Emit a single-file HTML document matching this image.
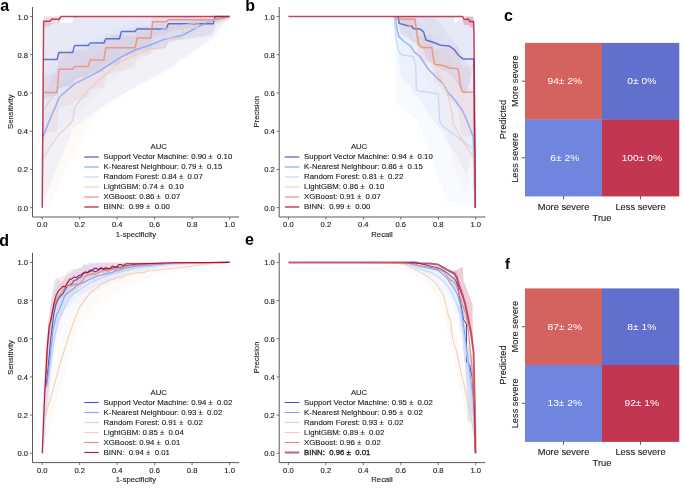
<!DOCTYPE html><html><head><meta charset="utf-8"><style>html,body{margin:0;padding:0;background:#fff;overflow:hidden}svg{display:block;will-change:transform}</style></head><body>
<svg width="685" height="491" viewBox="0 0 685 491" style="font-family:&quot;Liberation Sans&quot;,sans-serif;white-space:pre">
<rect width="685" height="491" fill="#fff"/>
<style>text.t{fill:#222;stroke:#222;stroke-width:0.12px}</style>
<polygon points="42.2,169.4 43.1,96.3 44.1,23.1 45.0,21.9 45.9,22.0 46.9,22.2 47.8,22.4 48.8,22.6 49.7,22.8 50.6,23.0 51.6,23.2 52.5,23.4 53.4,23.6 54.4,23.8 55.3,24.0 56.3,24.1 57.2,23.9 58.1,20.5 59.1,17.6 60.0,17.8 60.9,18.0 61.9,18.2 62.8,18.4 63.8,18.6 64.7,18.8 65.6,19.0 66.6,19.2 67.5,19.4 68.4,19.6 69.4,19.7 70.3,19.9 71.2,20.1 72.2,20.3 73.1,18.9 74.1,16.5 75.0,16.5 75.9,16.5 76.9,16.5 77.8,16.5 78.7,16.5 79.7,16.5 80.6,16.5 81.6,16.5 82.5,16.5 83.4,16.5 84.4,16.5 85.3,16.5 86.2,16.5 87.2,16.5 88.1,16.7 89.1,16.5 90.0,16.5 90.9,16.5 91.9,16.5 92.8,16.5 93.7,16.5 94.7,16.5 95.6,16.5 96.5,16.5 97.5,16.5 98.4,16.5 99.4,16.5 100.3,16.7 101.2,16.9 102.2,17.1 103.1,17.3 104.0,17.2 105.0,16.5 105.9,16.5 106.9,16.5 107.8,16.5 108.7,16.5 109.7,16.5 110.6,16.5 111.5,16.5 112.5,16.5 113.4,16.5 114.3,16.5 115.3,16.5 116.2,16.5 117.2,16.5 118.1,16.5 119.0,16.5 120.0,16.5 120.9,16.5 121.8,16.5 122.8,16.5 123.7,16.5 124.7,16.5 125.6,16.5 126.5,16.5 127.5,16.5 128.4,16.5 129.3,16.5 130.3,16.5 131.2,16.5 132.2,16.5 133.1,16.5 134.0,16.5 135.0,16.5 135.9,16.5 136.8,16.5 137.8,16.5 138.7,16.5 139.6,16.5 140.6,16.5 141.5,16.5 142.5,16.5 143.4,16.5 144.3,16.5 145.3,16.5 146.2,16.5 147.1,16.5 148.1,16.5 149.0,16.5 150.0,16.5 150.9,16.5 151.8,16.5 152.8,16.5 153.7,16.5 154.6,16.5 155.6,16.5 156.5,16.5 157.5,16.5 158.4,16.5 159.3,16.5 160.3,16.5 161.2,16.5 162.1,16.5 163.1,16.5 164.0,16.5 164.9,16.5 165.9,16.5 166.8,16.5 167.8,16.5 168.7,16.5 169.6,16.5 170.6,16.5 171.5,16.5 172.4,16.5 173.4,16.5 174.3,16.5 175.3,16.5 176.2,16.5 177.1,16.5 178.1,16.5 179.0,16.5 179.9,16.5 180.9,16.5 181.8,16.5 182.8,16.5 183.7,16.5 184.6,16.5 185.6,16.5 186.5,16.5 187.4,16.5 188.4,16.5 189.3,16.5 190.2,16.5 191.2,16.5 192.1,16.5 193.1,16.5 194.0,16.5 194.9,16.7 195.9,16.9 196.8,17.1 197.7,17.3 198.7,17.5 199.6,17.6 200.6,17.8 201.5,18.0 202.4,18.2 203.4,18.4 204.3,18.6 205.2,18.8 206.2,19.0 207.1,19.2 208.0,19.4 209.0,19.6 209.9,19.7 210.9,19.9 211.8,20.1 212.7,20.3 213.7,18.8 214.6,16.5 215.5,16.5 216.5,16.5 217.4,16.5 218.4,16.5 219.3,16.5 220.2,16.5 221.2,16.5 222.1,16.5 223.0,16.5 224.0,16.5 224.9,16.5 225.9,16.5 226.8,16.5 227.7,16.5 228.7,16.5 229.6,16.5 229.6,16.5 228.7,17.1 227.7,17.6 226.8,18.2 225.9,18.8 224.9,19.4 224.0,19.9 223.0,20.5 222.1,21.1 221.2,21.7 220.2,22.2 219.3,22.8 218.4,23.4 217.4,24.0 216.5,24.5 215.5,25.1 214.6,27.6 213.7,31.8 212.7,34.1 211.8,34.7 210.9,35.2 209.9,35.4 209.0,35.5 208.0,35.7 207.1,35.8 206.2,35.9 205.2,36.1 204.3,36.2 203.4,36.4 202.4,36.5 201.5,36.7 200.6,36.8 199.6,37.0 198.7,37.1 197.7,37.2 196.8,37.4 195.9,37.5 194.9,37.7 194.0,37.8 193.1,38.0 192.1,38.1 191.2,38.2 190.2,38.4 189.3,38.5 188.4,38.7 187.4,38.8 186.5,39.0 185.6,39.1 184.6,39.2 183.7,39.4 182.8,39.5 181.8,39.7 180.9,39.8 179.9,40.0 179.0,40.1 178.1,40.3 177.1,40.4 176.2,40.5 175.3,40.7 174.3,40.8 173.4,41.0 172.4,41.1 171.5,41.3 170.6,41.4 169.6,41.5 168.7,41.7 167.8,43.2 166.8,45.9 165.9,47.3 164.9,47.4 164.0,47.6 163.1,47.7 162.1,47.8 161.2,48.0 160.3,48.1 159.3,48.3 158.4,48.4 157.5,48.6 156.5,48.7 155.6,48.9 154.6,49.0 153.7,49.1 152.8,49.3 151.8,49.4 150.9,49.6 150.0,49.7 149.0,49.9 148.1,50.0 147.1,50.1 146.2,50.3 145.3,50.4 144.3,50.6 143.4,50.7 142.5,50.9 141.5,51.0 140.6,51.1 139.6,51.3 138.7,51.4 137.8,51.6 136.8,52.0 135.9,53.4 135.0,54.5 134.0,54.7 133.1,54.8 132.2,55.0 131.2,55.1 130.3,55.3 129.3,55.4 128.4,55.6 127.5,55.7 126.5,55.9 125.6,56.0 124.7,56.2 123.7,56.3 122.8,56.5 121.8,56.6 120.9,58.7 120.0,62.5 119.0,64.4 118.1,64.5 117.2,64.7 116.2,64.8 115.3,65.0 114.3,65.1 113.4,65.3 112.5,65.4 111.5,65.6 110.6,65.7 109.7,65.9 108.7,66.0 107.8,66.2 106.9,66.4 105.9,66.5 105.0,68.6 104.0,70.9 103.1,71.4 102.2,71.5 101.2,71.7 100.3,71.8 99.4,72.0 98.4,72.1 97.5,72.3 96.5,72.4 95.6,72.6 94.7,72.7 93.7,72.9 92.8,73.0 91.9,73.2 90.9,73.3 90.0,73.7 89.1,75.1 88.1,76.3 87.2,76.4 86.2,76.6 85.3,76.8 84.4,76.9 83.4,77.1 82.5,77.2 81.6,77.4 80.6,77.5 79.7,77.7 78.7,77.8 77.8,78.0 76.9,78.1 75.9,78.3 75.0,78.4 74.1,80.4 73.1,84.0 72.2,85.8 71.2,85.9 70.3,86.1 69.4,86.2 68.4,86.4 67.5,86.5 66.6,86.7 65.6,86.8 64.7,87.0 63.8,87.1 62.8,87.3 61.9,87.5 60.9,87.6 60.0,87.8 59.1,87.9 58.1,91.1 57.2,94.8 56.3,95.4 55.3,95.6 54.4,95.8 53.4,95.9 52.5,96.1 51.6,96.2 50.6,96.4 49.7,96.5 48.8,96.7 47.8,96.8 46.9,97.0 45.9,97.1 45.0,97.3 44.1,98.9 43.1,172.4 42.2,207.7" fill="#3b4cc0" fill-opacity="0.120"/>
<polygon points="42.2,169.4 43.1,98.4 44.1,96.2 45.0,94.0 45.9,91.8 46.9,89.6 47.8,87.4 48.8,85.2 49.7,83.0 50.6,80.8 51.6,78.6 52.5,76.7 53.4,74.7 54.4,72.8 55.3,70.8 56.3,68.8 57.2,66.4 58.1,64.0 59.1,61.7 60.0,61.0 60.9,60.4 61.9,59.8 62.8,59.1 63.8,58.5 64.7,57.8 65.6,57.2 66.6,56.5 67.5,55.9 68.4,55.2 69.4,54.6 70.3,53.9 71.2,53.3 72.2,52.7 73.1,52.0 74.1,51.4 75.0,50.7 75.9,50.4 76.9,50.1 77.8,49.8 78.7,49.4 79.7,49.1 80.6,48.8 81.6,48.5 82.5,48.1 83.4,47.8 84.4,47.5 85.3,47.2 86.2,46.9 87.2,46.5 88.1,46.2 89.1,45.9 90.0,45.6 90.9,45.3 91.9,44.9 92.8,44.6 93.7,44.3 94.7,44.0 95.6,43.7 96.5,43.3 97.5,43.0 98.4,42.5 99.4,42.1 100.3,41.6 101.2,41.2 102.2,40.7 103.1,40.3 104.0,39.8 105.0,39.4 105.9,38.9 106.9,38.5 107.8,38.0 108.7,37.6 109.7,37.1 110.6,36.7 111.5,36.2 112.5,35.7 113.4,35.3 114.3,34.8 115.3,34.4 116.2,33.9 117.2,33.5 118.1,33.0 119.0,32.6 120.0,32.2 120.9,31.8 121.8,31.5 122.8,31.2 123.7,30.8 124.7,30.5 125.6,30.2 126.5,29.8 127.5,29.5 128.4,29.2 129.3,28.8 130.3,28.5 131.2,28.2 132.2,27.9 133.1,27.5 134.0,27.2 135.0,26.9 135.9,26.7 136.8,26.6 137.8,26.6 138.7,26.5 139.6,26.4 140.6,26.3 141.5,26.2 142.5,26.2 143.4,26.1 144.3,26.0 145.3,25.9 146.2,25.9 147.1,25.8 148.1,25.7 149.0,25.6 150.0,25.5 150.9,25.4 151.8,25.3 152.8,25.1 153.7,25.0 154.6,24.8 155.6,24.7 156.5,24.6 157.5,24.4 158.4,24.3 159.3,24.1 160.3,24.0 161.2,23.9 162.1,23.7 163.1,23.6 164.0,23.5 164.9,23.4 165.9,23.4 166.8,23.5 167.8,23.5 168.7,23.5 169.6,23.5 170.6,23.5 171.5,23.5 172.4,23.5 173.4,23.5 174.3,23.6 175.3,23.6 176.2,23.6 177.1,23.6 178.1,23.6 179.0,23.6 179.9,23.6 180.9,23.6 181.8,23.6 182.8,23.7 183.7,23.5 184.6,23.2 185.6,22.9 186.5,22.6 187.4,22.4 188.4,22.1 189.3,21.8 190.2,21.5 191.2,21.2 192.1,20.9 193.1,20.6 194.0,20.4 194.9,20.1 195.9,19.8 196.8,19.5 197.7,19.2 198.7,19.0 199.6,18.8 200.6,18.6 201.5,18.4 202.4,18.2 203.4,17.9 204.3,17.7 205.2,17.5 206.2,17.3 207.1,17.1 208.0,16.9 209.0,16.7 209.9,16.5 210.9,16.5 211.8,16.5 212.7,16.5 213.7,16.5 214.6,16.5 215.5,16.5 216.5,16.5 217.4,16.5 218.4,16.5 219.3,16.5 220.2,16.5 221.2,16.5 222.1,16.5 223.0,16.5 224.0,16.5 224.9,16.5 225.9,16.5 226.8,16.5 227.7,16.5 228.7,16.5 229.6,16.5 229.6,16.5 213.9,37.9 167.2,70.2 111.5,100.2 73.7,127.4 44.4,198.7 42.2,207.7" fill="#7b9ff9" fill-opacity="0.100"/>
<polygon points="42.2,169.4 43.1,88.7 44.1,71.6 45.0,70.4 45.9,69.1 46.9,67.9 47.8,66.7 48.8,65.5 49.7,64.3 50.6,63.0 51.6,61.8 52.5,60.6 53.4,59.4 54.4,58.2 55.3,56.9 56.3,55.7 57.2,54.5 58.1,53.3 59.1,52.8 60.0,52.4 60.9,52.1 61.9,51.7 62.8,51.4 63.8,51.0 64.7,50.7 65.6,50.4 66.6,50.0 67.5,49.7 68.4,49.3 69.4,49.0 70.3,48.6 71.2,48.3 72.2,47.9 73.1,47.6 74.1,47.2 75.0,46.9 75.9,46.6 76.9,46.2 77.8,45.9 78.7,45.5 79.7,45.2 80.6,44.8 81.6,44.4 82.5,44.0 83.4,43.6 84.4,43.2 85.3,42.8 86.2,42.5 87.2,42.1 88.1,41.7 89.1,41.3 90.0,40.9 90.9,40.5 91.9,40.1 92.8,39.7 93.7,39.4 94.7,39.0 95.6,38.6 96.5,38.2 97.5,37.8 98.4,37.4 99.4,37.0 100.3,36.7 101.2,36.2 102.2,35.8 103.1,35.3 104.0,34.8 105.0,34.3 105.9,33.8 106.9,33.3 107.8,32.8 108.7,32.3 109.7,31.9 110.6,31.4 111.5,30.9 112.5,30.4 113.4,29.9 114.3,29.4 115.3,28.9 116.2,28.4 117.2,28.0 118.1,27.5 119.0,27.0 120.0,26.5 120.9,26.2 121.8,25.9 122.8,25.5 123.7,25.2 124.7,24.9 125.6,24.6 126.5,24.2 127.5,23.9 128.4,23.6 129.3,23.3 130.3,22.9 131.2,22.6 132.2,22.3 133.1,22.0 134.0,21.6 135.0,21.3 135.9,21.0 136.8,20.8 137.8,20.7 138.7,20.5 139.6,20.3 140.6,20.1 141.5,19.9 142.5,19.8 143.4,19.6 144.3,19.4 145.3,19.2 146.2,19.0 147.1,18.9 148.1,18.7 149.0,18.5 150.0,18.3 150.9,18.1 151.8,18.0 152.8,17.8 153.7,17.6 154.6,17.4 155.6,17.2 156.5,17.1 157.5,16.9 158.4,16.7 159.3,16.5 160.3,16.5 161.2,16.5 162.1,16.5 163.1,16.5 164.0,16.5 164.9,16.5 165.9,16.5 166.8,16.5 167.8,16.5 168.7,16.5 169.6,16.5 170.6,16.5 171.5,16.5 172.4,16.5 173.4,16.5 174.3,16.5 175.3,16.5 176.2,16.5 177.1,16.5 178.1,16.5 179.0,16.5 179.9,16.5 180.9,16.5 181.8,16.5 182.8,16.5 183.7,16.5 184.6,16.5 185.6,16.5 186.5,16.5 187.4,16.5 188.4,16.5 189.3,16.5 190.2,16.5 191.2,16.5 192.1,16.5 193.1,16.5 194.0,16.5 194.9,16.5 195.9,16.5 196.8,16.5 197.7,16.5 198.7,16.5 199.6,16.5 200.6,16.5 201.5,16.5 202.4,16.5 203.4,16.5 204.3,16.5 205.2,16.5 206.2,16.5 207.1,16.5 208.0,16.5 209.0,16.5 209.9,16.5 210.9,16.5 211.8,16.5 212.7,16.5 213.7,16.5 214.6,16.5 215.5,16.5 216.5,16.5 217.4,16.5 218.4,16.5 219.3,16.5 220.2,16.5 221.2,16.5 222.1,16.5 223.0,16.5 224.0,16.5 224.9,16.5 225.9,16.5 226.8,16.5 227.7,16.5 228.7,16.5 229.6,16.5 229.6,16.5 228.7,16.9 227.7,17.4 226.8,17.8 225.9,18.2 224.9,18.7 224.0,19.1 223.0,19.5 222.1,20.0 221.2,20.4 220.2,20.8 219.3,21.2 218.4,21.7 217.4,22.1 216.5,22.5 215.5,23.0 214.6,23.4 213.7,23.8 212.7,24.3 211.8,24.7 210.9,25.1 209.9,25.6 209.0,26.0 208.0,26.4 207.1,26.9 206.2,27.3 205.2,27.7 204.3,28.2 203.4,28.6 202.4,29.0 201.5,29.5 200.6,29.9 199.6,30.3 198.7,30.8 197.7,31.2 196.8,31.6 195.9,32.1 194.9,32.5 194.0,32.9 193.1,33.4 192.1,33.8 191.2,34.2 190.2,34.7 189.3,35.1 188.4,35.5 187.4,36.0 186.5,36.4 185.6,36.8 184.6,37.3 183.7,37.7 182.8,38.1 181.8,38.6 180.9,39.0 179.9,39.4 179.0,39.9 178.1,40.3 177.1,40.7 176.2,41.2 175.3,41.6 174.3,42.0 173.4,42.5 172.4,42.8 171.5,43.2 170.6,43.5 169.6,43.9 168.7,44.2 167.8,44.5 166.8,44.9 165.9,45.2 164.9,45.6 164.0,46.0 163.1,46.5 162.1,47.0 161.2,47.6 160.3,48.1 159.3,48.7 158.4,49.2 157.5,49.7 156.5,50.3 155.6,50.8 154.6,51.3 153.7,51.9 152.8,52.4 151.8,53.0 150.9,53.5 150.0,54.0 149.0,54.6 148.1,55.1 147.1,55.7 146.2,56.2 145.3,56.7 144.3,57.3 143.4,57.8 142.5,58.3 141.5,58.9 140.6,59.4 139.6,60.0 138.7,60.5 137.8,61.0 136.8,61.6 135.9,62.1 135.0,62.8 134.0,63.5 133.1,64.1 132.2,64.8 131.2,65.5 130.3,66.2 129.3,66.9 128.4,67.6 127.5,68.2 126.5,68.9 125.6,69.6 124.7,70.3 123.7,71.0 122.8,71.7 121.8,72.3 120.9,73.0 120.0,73.7 119.0,74.5 118.1,75.4 117.2,76.2 116.2,77.1 115.3,77.9 114.3,78.8 113.4,79.6 112.5,80.5 111.5,81.3 110.6,82.1 109.7,83.0 108.7,83.8 107.8,84.7 106.9,85.5 105.9,86.4 105.0,87.2 104.0,88.1 103.1,88.9 102.2,89.8 101.2,90.6 100.3,91.4 99.4,92.1 98.4,92.9 97.5,93.8 96.5,94.7 95.6,95.6 94.7,96.4 93.7,97.3 92.8,98.2 91.9,99.1 90.9,100.0 90.0,100.9 89.1,101.8 88.1,102.7 87.2,103.6 86.2,104.5 85.3,105.4 84.4,106.3 83.4,107.2 82.5,108.1 81.6,109.0 80.6,109.9 79.7,110.8 78.7,111.7 77.8,112.5 76.9,113.4 75.9,114.2 75.0,115.1 74.1,115.9 73.1,116.8 72.2,117.6 71.2,118.5 70.3,119.4 69.4,120.2 68.4,121.1 67.5,121.9 66.6,122.8 65.6,123.6 64.7,124.5 63.8,125.3 62.8,126.2 61.9,127.0 60.9,127.9 60.0,128.8 59.1,129.6 58.1,130.6 57.2,132.4 56.3,134.1 55.3,135.8 54.4,137.6 53.4,139.3 52.5,141.0 51.6,142.7 50.6,144.5 49.7,146.2 48.8,147.9 47.8,149.7 46.9,151.4 45.9,153.1 45.0,154.8 44.1,156.6 43.1,174.2 42.2,207.7" fill="#c0d4f5" fill-opacity="0.120"/>
<polygon points="42.2,169.4 43.1,128.0 44.1,118.7 45.0,117.4 45.9,116.2 46.9,114.9 47.8,113.7 48.8,112.4 49.7,111.1 50.6,109.9 51.6,108.6 52.5,107.3 53.4,106.1 54.4,104.8 55.3,103.6 56.3,102.3 57.2,101.0 58.1,99.8 59.1,99.0 60.0,98.2 60.9,97.4 61.9,96.7 62.8,95.9 63.8,95.1 64.7,94.3 65.6,93.5 66.6,92.8 67.5,92.0 68.4,91.2 69.4,90.4 70.3,89.6 71.2,88.9 72.2,88.1 73.1,85.0 74.1,78.3 75.0,73.9 75.9,72.9 76.9,71.9 77.8,70.8 78.7,69.8 79.7,68.7 80.6,67.7 81.6,66.6 82.5,65.6 83.4,64.6 84.4,63.5 85.3,62.5 86.2,61.4 87.2,60.4 88.1,59.4 89.1,58.4 90.0,57.7 90.9,57.1 91.9,56.4 92.8,55.8 93.7,55.1 94.7,54.5 95.6,53.8 96.5,53.2 97.5,52.5 98.4,51.9 99.4,51.2 100.3,50.6 101.2,49.9 102.2,49.3 103.1,48.6 104.0,47.9 105.0,47.3 105.9,46.6 106.9,45.9 107.8,45.2 108.7,44.6 109.7,43.9 110.6,43.2 111.5,42.5 112.5,41.9 113.4,41.2 114.3,40.5 115.3,39.8 116.2,39.1 117.2,38.5 118.1,37.8 119.0,37.1 120.0,36.4 120.9,35.8 121.8,35.3 122.8,35.1 123.7,34.8 124.7,34.6 125.6,34.4 126.5,34.2 127.5,34.0 128.4,33.8 129.3,33.6 130.3,33.4 131.2,33.1 132.2,32.9 133.1,32.7 134.0,32.5 135.0,32.3 135.9,32.1 136.8,31.9 137.8,31.8 138.7,31.7 139.6,31.5 140.6,31.4 141.5,31.2 142.5,31.0 143.4,30.9 144.3,30.7 145.3,30.5 146.2,30.4 147.1,30.2 148.1,30.1 149.0,29.9 150.0,29.8 150.9,29.9 151.8,30.1 152.8,30.2 153.7,30.3 154.6,30.4 155.6,30.5 156.5,30.6 157.5,30.7 158.4,30.8 159.3,31.0 160.3,31.1 161.2,31.2 162.1,31.3 163.1,31.4 164.0,31.5 164.9,31.6 165.9,28.7 166.8,25.7 167.8,22.8 168.7,23.0 169.6,23.2 170.6,23.5 171.5,23.7 172.4,23.9 173.4,24.1 174.3,24.4 175.3,24.6 176.2,24.8 177.1,25.1 178.1,25.3 179.0,25.5 179.9,25.8 180.9,26.0 181.8,25.1 182.8,19.7 183.7,16.5 184.6,16.8 185.6,17.0 186.5,17.2 187.4,17.5 188.4,17.7 189.3,17.9 190.2,18.1 191.2,18.4 192.1,18.6 193.1,18.8 194.0,19.1 194.9,19.3 195.9,19.5 196.8,19.7 197.7,17.6 198.7,16.5 199.6,16.5 200.6,16.5 201.5,16.5 202.4,16.5 203.4,16.5 204.3,16.5 205.2,16.5 206.2,16.5 207.1,16.5 208.0,16.5 209.0,16.5 209.9,16.5 210.9,16.5 211.8,16.5 212.7,16.5 213.7,16.5 214.6,16.6 215.5,16.7 216.5,16.9 217.4,17.1 218.4,17.2 219.3,17.4 220.2,17.6 221.2,17.7 222.1,17.9 223.0,18.1 224.0,18.2 224.9,18.4 225.9,18.6 226.8,18.7 227.7,18.9 228.7,17.7 229.6,16.5 229.6,16.5 210.9,35.6 173.4,64.3 135.9,85.3 96.5,114.0 66.6,167.5 48.9,207.7 42.2,207.7" fill="#f2cbb7" fill-opacity="0.100"/>
<polygon points="42.2,188.5 43.1,131.6 44.1,74.8 45.0,73.7 45.9,73.8 46.9,73.8 47.8,73.9 48.8,74.0 49.7,74.1 50.6,74.2 51.6,74.2 52.5,74.3 53.4,74.4 54.4,74.5 55.3,74.5 56.3,74.6 57.2,73.1 58.1,61.5 59.1,51.5 60.0,51.6 60.9,51.7 61.9,51.7 62.8,51.8 63.8,51.9 64.7,52.0 65.6,52.1 66.6,52.1 67.5,52.2 68.4,52.3 69.4,52.4 70.3,52.4 71.2,52.5 72.2,52.6 73.1,52.0 74.1,50.6 75.0,50.0 75.9,50.0 76.9,50.1 77.8,50.2 78.7,50.3 79.7,50.3 80.6,50.4 81.6,50.5 82.5,50.6 83.4,50.6 84.4,50.7 85.3,50.8 86.2,50.9 87.2,50.9 88.1,51.0 89.1,48.5 90.0,45.3 90.9,44.8 91.9,44.8 92.8,44.9 93.7,45.0 94.7,45.1 95.6,45.1 96.5,45.2 97.5,45.3 98.4,45.4 99.4,45.4 100.3,45.5 101.2,45.6 102.2,45.7 103.1,45.7 104.0,45.0 105.0,39.1 105.9,33.9 106.9,34.0 107.8,34.1 108.7,34.2 109.7,34.2 110.6,34.3 111.5,34.4 112.5,34.5 113.4,34.5 114.3,34.6 115.3,34.7 116.2,34.8 117.2,34.9 118.1,34.9 119.0,35.0 120.0,35.1 120.9,35.2 121.8,35.2 122.8,35.3 123.7,35.4 124.7,35.5 125.6,35.5 126.5,35.6 127.5,35.7 128.4,35.8 129.3,35.8 130.3,35.9 131.2,36.0 132.2,36.1 133.1,36.2 134.0,36.2 135.0,36.3 135.9,32.4 136.8,27.5 137.8,26.7 138.7,26.8 139.6,26.9 140.6,27.0 141.5,27.1 142.5,27.2 143.4,27.4 144.3,27.5 145.3,27.6 146.2,27.7 147.1,27.8 148.1,27.9 149.0,28.0 150.0,28.2 150.9,27.2 151.8,19.2 152.8,16.5 153.7,16.5 154.6,16.5 155.6,16.5 156.5,16.5 157.5,16.5 158.4,16.5 159.3,16.5 160.3,16.5 161.2,16.5 162.1,16.5 163.1,16.5 164.0,16.5 164.9,16.5 165.9,16.5 166.8,16.5 167.8,16.5 168.7,16.5 169.6,16.5 170.6,16.5 171.5,16.5 172.4,16.5 173.4,16.5 174.3,16.5 175.3,16.5 176.2,16.5 177.1,16.5 178.1,16.5 179.0,16.5 179.9,16.5 180.9,16.5 181.8,16.5 182.8,16.5 183.7,16.5 184.6,16.5 185.6,16.5 186.5,16.5 187.4,16.5 188.4,16.5 189.3,16.5 190.2,16.5 191.2,16.5 192.1,16.5 193.1,16.5 194.0,16.5 194.9,16.5 195.9,16.5 196.8,16.5 197.7,16.5 198.7,16.5 199.6,16.5 200.6,16.5 201.5,16.5 202.4,16.5 203.4,16.5 204.3,16.7 205.2,16.8 206.2,16.9 207.1,17.0 208.0,17.1 209.0,17.2 209.9,17.3 210.9,17.5 211.8,17.6 212.7,17.7 213.7,17.7 214.6,17.6 215.5,17.6 216.5,17.5 217.4,17.4 218.4,17.3 219.3,17.3 220.2,17.2 221.2,17.1 222.1,17.1 223.0,17.0 224.0,16.9 224.9,16.9 225.9,16.8 226.8,16.7 227.7,16.6 228.7,16.6 229.6,16.5 229.6,16.5 228.7,16.9 227.7,17.3 226.8,17.6 225.9,18.0 224.9,18.4 224.0,18.8 223.0,19.1 222.1,19.5 221.2,19.9 220.2,20.3 219.3,20.6 218.4,21.0 217.4,21.4 216.5,21.8 215.5,22.1 214.6,22.5 213.7,22.9 212.7,23.2 211.8,23.4 210.9,23.6 209.9,23.8 209.0,24.0 208.0,24.1 207.1,24.3 206.2,24.5 205.2,24.7 204.3,24.9 203.4,25.1 202.4,25.3 201.5,25.5 200.6,25.7 199.6,25.9 198.7,26.1 197.7,26.2 196.8,26.4 195.9,26.6 194.9,26.8 194.0,27.0 193.1,27.2 192.1,27.4 191.2,27.6 190.2,27.8 189.3,28.0 188.4,28.2 187.4,28.4 186.5,28.5 185.6,28.7 184.6,28.9 183.7,29.1 182.8,29.3 181.8,29.5 180.9,29.7 179.9,29.9 179.0,30.1 178.1,30.3 177.1,30.5 176.2,30.6 175.3,30.8 174.3,31.0 173.4,31.2 172.4,31.4 171.5,31.6 170.6,31.8 169.6,32.0 168.7,32.2 167.8,32.9 166.8,34.0 165.9,34.7 164.9,34.9 164.0,35.0 163.1,35.2 162.1,35.4 161.2,35.6 160.3,35.8 159.3,36.0 158.4,36.2 157.5,36.4 156.5,36.6 155.6,36.8 154.6,37.0 153.7,37.2 152.8,37.4 151.8,44.7 150.9,53.0 150.0,54.3 149.0,54.5 148.1,54.8 147.1,55.0 146.2,55.2 145.3,55.4 144.3,55.7 143.4,55.9 142.5,56.1 141.5,56.3 140.6,56.5 139.6,56.8 138.7,57.0 137.8,57.2 136.8,58.4 135.9,63.6 135.0,67.8 134.0,68.0 133.1,68.3 132.2,68.5 131.2,68.7 130.3,68.9 129.3,69.2 128.4,69.4 127.5,69.6 126.5,69.8 125.6,70.1 124.7,70.3 123.7,70.5 122.8,70.7 121.8,70.9 120.9,71.2 120.0,71.4 119.0,71.6 118.1,71.8 117.2,72.1 116.2,72.3 115.3,72.5 114.3,72.7 113.4,73.0 112.5,73.2 111.5,73.4 110.6,73.6 109.7,73.8 108.7,74.1 107.8,74.3 106.9,74.5 105.9,74.7 105.0,80.2 104.0,86.4 103.1,87.4 102.2,87.7 101.2,87.9 100.3,88.1 99.4,88.3 98.4,88.6 97.5,88.8 96.5,89.0 95.6,89.2 94.7,89.5 93.7,89.7 92.8,89.9 91.9,90.1 90.9,90.3 90.0,91.2 89.1,94.7 88.1,97.5 87.2,97.7 86.2,98.0 85.3,98.2 84.4,98.4 83.4,98.6 82.5,98.9 81.6,99.1 80.6,99.3 79.7,99.5 78.7,99.7 77.8,100.0 76.9,100.2 75.9,100.4 75.0,100.6 74.1,101.6 73.1,103.3 72.2,104.2 71.2,104.4 70.3,104.6 69.4,104.8 68.4,105.1 67.5,105.3 66.6,105.5 65.6,105.7 64.7,106.0 63.8,106.2 62.8,106.4 61.9,106.6 60.9,106.9 60.0,107.1 59.1,107.3 58.1,117.6 57.2,129.5 56.3,131.3 55.3,131.5 54.4,131.7 53.4,132.0 52.5,132.2 51.6,132.4 50.6,132.6 49.7,132.8 48.8,133.1 47.8,133.3 46.9,133.5 45.9,133.7 45.0,134.0 44.1,135.3 43.1,192.5 42.2,207.7" fill="#ee8468" fill-opacity="0.100"/>
<polygon points="42.2,201.9 43.1,80.9 44.1,16.5 45.0,16.5 45.9,16.5 46.9,16.5 47.8,16.5 48.8,16.5 49.7,16.5 50.6,16.5 51.6,16.5 52.5,16.5 53.4,16.5 54.4,16.5 55.3,16.5 56.3,16.5 57.2,16.5 58.1,16.5 59.1,16.5 60.0,16.5 60.9,16.5 61.9,16.5 62.8,16.5 63.8,16.5 64.7,16.5 65.6,16.5 66.6,16.5 67.5,16.5 68.4,16.5 69.4,16.5 70.3,16.5 71.2,16.5 72.2,16.5 73.1,16.5 74.1,16.5 75.0,16.5 75.9,16.5 76.9,16.5 77.8,16.5 78.7,16.5 79.7,16.5 80.6,16.5 81.6,16.5 82.5,16.5 83.4,16.5 84.4,16.5 85.3,16.5 86.2,16.5 87.2,16.5 88.1,16.5 89.1,16.5 90.0,16.5 90.9,16.5 91.9,16.5 92.8,16.5 93.7,16.5 94.7,16.5 95.6,16.5 96.5,16.5 97.5,16.5 98.4,16.5 99.4,16.5 100.3,16.5 101.2,16.5 102.2,16.5 103.1,16.5 104.0,16.5 105.0,16.5 105.9,16.5 106.9,16.5 107.8,16.5 108.7,16.5 109.7,16.5 110.6,16.5 111.5,16.5 112.5,16.5 113.4,16.5 114.3,16.5 115.3,16.5 116.2,16.5 117.2,16.5 118.1,16.5 119.0,16.5 120.0,16.5 120.9,16.5 121.8,16.5 122.8,16.5 123.7,16.5 124.7,16.5 125.6,16.5 126.5,16.5 127.5,16.5 128.4,16.5 129.3,16.5 130.3,16.5 131.2,16.5 132.2,16.5 133.1,16.5 134.0,16.5 135.0,16.5 135.9,16.5 136.8,16.5 137.8,16.5 138.7,16.5 139.6,16.5 140.6,16.5 141.5,16.5 142.5,16.5 143.4,16.5 144.3,16.5 145.3,16.5 146.2,16.5 147.1,16.5 148.1,16.5 149.0,16.5 150.0,16.5 150.9,16.5 151.8,16.5 152.8,16.5 153.7,16.5 154.6,16.5 155.6,16.5 156.5,16.5 157.5,16.5 158.4,16.5 159.3,16.5 160.3,16.5 161.2,16.5 162.1,16.5 163.1,16.5 164.0,16.5 164.9,16.5 165.9,16.5 166.8,16.5 167.8,16.5 168.7,16.5 169.6,16.5 170.6,16.5 171.5,16.5 172.4,16.5 173.4,16.5 174.3,16.5 175.3,16.5 176.2,16.5 177.1,16.5 178.1,16.5 179.0,16.5 179.9,16.5 180.9,16.5 181.8,16.5 182.8,16.5 183.7,16.5 184.6,16.5 185.6,16.5 186.5,16.5 187.4,16.5 188.4,16.5 189.3,16.5 190.2,16.5 191.2,16.5 192.1,16.5 193.1,16.5 194.0,16.5 194.9,16.5 195.9,16.5 196.8,16.5 197.7,16.5 198.7,16.5 199.6,16.5 200.6,16.5 201.5,16.5 202.4,16.5 203.4,16.5 204.3,16.5 205.2,16.5 206.2,16.5 207.1,16.5 208.0,16.5 209.0,16.5 209.9,16.5 210.9,16.5 211.8,16.5 212.7,16.5 213.7,16.5 214.6,16.5 215.5,16.5 216.5,16.5 217.4,16.5 218.4,16.5 219.3,16.5 220.2,16.5 221.2,16.5 222.1,16.5 223.0,16.5 224.0,16.5 224.9,16.5 225.9,16.5 226.8,16.5 227.7,16.5 228.7,16.5 229.6,16.5 229.6,16.5 228.7,16.5 227.7,16.5 226.8,16.5 225.9,16.5 224.9,16.5 224.0,16.5 223.0,16.5 222.1,16.5 221.2,16.5 220.2,16.5 219.3,16.5 218.4,16.5 217.4,16.5 216.5,16.5 215.5,16.5 214.6,16.5 213.7,16.5 212.7,16.5 211.8,16.5 210.9,16.5 209.9,16.5 209.0,16.5 208.0,16.5 207.1,16.5 206.2,16.5 205.2,16.5 204.3,16.5 203.4,16.5 202.4,16.5 201.5,16.5 200.6,16.5 199.6,16.5 198.7,16.5 197.7,16.5 196.8,16.5 195.9,16.5 194.9,16.5 194.0,16.5 193.1,16.5 192.1,16.5 191.2,16.5 190.2,16.5 189.3,16.5 188.4,16.5 187.4,16.5 186.5,16.5 185.6,16.5 184.6,16.5 183.7,16.5 182.8,16.5 181.8,16.5 180.9,16.5 179.9,16.5 179.0,16.5 178.1,16.5 177.1,16.5 176.2,16.5 175.3,16.5 174.3,16.5 173.4,16.5 172.4,16.5 171.5,16.5 170.6,16.5 169.6,16.5 168.7,16.5 167.8,16.5 166.8,16.5 165.9,16.5 164.9,16.5 164.0,16.5 163.1,16.5 162.1,16.5 161.2,16.5 160.3,16.5 159.3,16.5 158.4,16.5 157.5,16.5 156.5,16.5 155.6,16.5 154.6,16.5 153.7,16.5 152.8,16.5 151.8,16.5 150.9,16.5 150.0,16.5 149.0,16.5 148.1,16.5 147.1,16.5 146.2,16.5 145.3,16.5 144.3,16.5 143.4,16.5 142.5,16.5 141.5,16.5 140.6,16.5 139.6,16.5 138.7,16.5 137.8,16.5 136.8,16.5 135.9,16.5 135.0,16.5 134.0,16.5 133.1,16.5 132.2,16.5 131.2,16.5 130.3,16.5 129.3,16.5 128.4,16.5 127.5,16.5 126.5,16.5 125.6,16.5 124.7,16.5 123.7,16.5 122.8,16.5 121.8,16.5 120.9,16.5 120.0,16.5 119.0,16.5 118.1,16.5 117.2,16.5 116.2,16.5 115.3,16.5 114.3,16.5 113.4,16.5 112.5,16.5 111.5,16.5 110.6,16.5 109.7,16.5 108.7,16.5 107.8,16.5 106.9,16.5 105.9,16.5 105.0,16.5 104.0,16.5 103.1,16.5 102.2,16.5 101.2,16.5 100.3,16.5 99.4,16.5 98.4,16.5 97.5,16.5 96.5,16.5 95.6,16.5 94.7,16.5 93.7,16.5 92.8,16.5 91.9,16.5 90.9,16.5 90.0,16.5 89.1,16.5 88.1,16.5 87.2,16.5 86.2,16.5 85.3,16.5 84.4,16.5 83.4,16.5 82.5,16.5 81.6,16.5 80.6,16.5 79.7,16.5 78.7,16.7 77.8,16.9 76.9,17.1 75.9,17.3 75.0,17.5 74.1,17.6 73.1,17.8 72.2,18.0 71.2,18.2 70.3,18.4 69.4,18.6 68.4,18.8 67.5,19.0 66.6,19.2 65.6,19.4 64.7,19.6 63.8,19.7 62.8,19.9 61.9,20.1 60.9,20.6 60.0,22.0 59.1,23.2 58.1,23.3 57.2,23.4 56.3,23.5 55.3,23.6 54.4,23.7 53.4,23.8 52.5,23.9 51.6,24.2 50.6,25.3 49.7,26.2 48.8,26.3 47.8,26.4 46.9,26.5 45.9,26.6 45.0,26.7 44.1,26.8 43.1,92.3 42.2,207.7" fill="#b40426" fill-opacity="0.150"/>
<polygon points="61.2,16.9 59.3,22.8 72.1,22.8 73.6,16.9" fill="#fff" fill-opacity="0.92"/>
<polyline points="44.1,59.5 57.1,59.5 58.9,52.4 72.7,52.4 74.6,45.6 88.3,45.6 90.2,43.1 103.9,43.1 105.8,38.7 119.5,38.7 121.4,31.4 135.2,31.4 137.0,28.9 166.4,28.9 168.3,23.8 213.2,23.8 215.1,16.5 229.6,16.5" fill="none" stroke="#3b4cc0" stroke-width="1.50" stroke-opacity="0.75" stroke-linejoin="round"/>
<polyline points="42.9,136.9 51.6,115.3 56.1,105.2 59.1,97.2 75.0,83.6 97.3,72.3 119.8,57.8 135.0,50.0 149.6,45.2 164.2,39.4 183.1,35.0 197.7,27.0 212.4,20.1 229.6,16.5" fill="none" stroke="#7b9ff9" stroke-width="1.50" stroke-opacity="0.75" stroke-linejoin="round"/>
<polyline points="43.3,110.5 58.3,88.0 79.7,75.8 101.0,62.6 119.8,49.0 135.7,40.2 164.2,28.9 212.4,19.7 229.6,16.5" fill="none" stroke="#c0d4f5" stroke-width="1.50" stroke-opacity="0.75" stroke-linejoin="round"/>
<polyline points="43.3,157.8 58.1,135.4 72.7,120.9 74.6,107.3 88.9,89.1 103.1,76.9 121.5,60.7 140.0,53.4 149.6,49.4 164.9,47.5 167.8,37.9 181.6,37.9 183.3,27.8 197.0,27.8 199.1,21.3 227.7,19.4 229.6,16.5" fill="none" stroke="#f2cbb7" stroke-width="1.50" stroke-opacity="0.75" stroke-linejoin="round"/>
<polyline points="44.1,92.6 57.1,92.6 58.9,69.3 72.7,69.3 74.6,66.4 88.3,66.4 90.2,59.9 103.9,59.9 105.8,47.8 135.2,47.8 137.0,37.9 150.8,37.9 152.6,21.7 166.4,21.7 168.3,19.7 213.2,19.7 215.1,19.4 229.6,16.5" fill="none" stroke="#ee8468" stroke-width="1.50" stroke-opacity="0.75" stroke-linejoin="round"/>
<polyline points="42.2,207.7 43.6,21.3 49.9,21.3 51.8,19.2 59.3,19.2 61.1,16.5 229.6,16.5" fill="none" stroke="#b40426" stroke-width="1.50" stroke-opacity="0.75" stroke-linejoin="round"/>
<path d="M32.5 7.0V217.0H239.2" fill="none" stroke="#5a5a5a" stroke-width="1"/><path d="M29.9 207.65H32.5" stroke="#555" stroke-width="0.8"/><path d="M42.20 217.0V219.6" stroke="#555" stroke-width="0.8"/><text x="28.1" y="210.65" font-size="7.6" text-anchor="end" class="t">0.0</text><text x="42.20" y="227.05" font-size="7.6" text-anchor="middle" class="t">0.0</text><path d="M29.9 169.42H32.5" stroke="#555" stroke-width="0.8"/><path d="M79.68 217.0V219.6" stroke="#555" stroke-width="0.8"/><text x="28.1" y="172.42" font-size="7.6" text-anchor="end" class="t">0.2</text><text x="79.68" y="227.05" font-size="7.6" text-anchor="middle" class="t">0.2</text><path d="M29.9 131.19H32.5" stroke="#555" stroke-width="0.8"/><path d="M117.16 217.0V219.6" stroke="#555" stroke-width="0.8"/><text x="28.1" y="134.19" font-size="7.6" text-anchor="end" class="t">0.4</text><text x="117.16" y="227.05" font-size="7.6" text-anchor="middle" class="t">0.4</text><path d="M29.9 92.96H32.5" stroke="#555" stroke-width="0.8"/><path d="M154.64 217.0V219.6" stroke="#555" stroke-width="0.8"/><text x="28.1" y="95.96" font-size="7.6" text-anchor="end" class="t">0.6</text><text x="154.64" y="227.05" font-size="7.6" text-anchor="middle" class="t">0.6</text><path d="M29.9 54.73H32.5" stroke="#555" stroke-width="0.8"/><path d="M192.12 217.0V219.6" stroke="#555" stroke-width="0.8"/><text x="28.1" y="57.73" font-size="7.6" text-anchor="end" class="t">0.8</text><text x="192.12" y="227.05" font-size="7.6" text-anchor="middle" class="t">0.8</text><path d="M29.9 16.50H32.5" stroke="#555" stroke-width="0.8"/><path d="M229.60 217.0V219.6" stroke="#555" stroke-width="0.8"/><text x="28.1" y="19.50" font-size="7.6" text-anchor="end" class="t">1.0</text><text x="229.60" y="227.05" font-size="7.6" text-anchor="middle" class="t">1.0</text><text x="135.9" y="236.7" font-size="7.7" text-anchor="middle" class="t">1-specificity</text><text transform="translate(12.6 111.7) rotate(-90)" font-size="7.7" text-anchor="middle" class="t">Sensitivity</text>
<text x="158.7" y="148.8" font-size="7.7" text-anchor="middle" class="t">AUC</text><path d="M84.3 157.0H98.8" stroke="#3b4cc0" stroke-width="1.50" stroke-opacity="0.75"/><text x="103.6" y="159.3" font-size="7.8" class="t">Support Vector Machine: 0.90 ± &#160;0.10</text><path d="M84.3 167.0H98.8" stroke="#7b9ff9" stroke-width="1.50" stroke-opacity="0.75"/><text x="103.6" y="169.3" font-size="7.8" class="t">K-Nearest Neighbour: 0.79 ± &#160;0.15</text><path d="M84.3 177.0H98.8" stroke="#c0d4f5" stroke-width="1.50" stroke-opacity="0.75"/><text x="103.6" y="179.3" font-size="7.8" class="t">Random Forest: 0.84 ± &#160;0.07</text><path d="M84.3 187.0H98.8" stroke="#f2cbb7" stroke-width="1.50" stroke-opacity="0.75"/><text x="103.6" y="189.3" font-size="7.8" class="t">LightGBM: 0.74 ± &#160;0.10</text><path d="M84.3 197.0H98.8" stroke="#ee8468" stroke-width="1.50" stroke-opacity="0.75"/><text x="103.6" y="199.3" font-size="7.8" class="t">XGBoost: 0.86 ± &#160;0.07</text><path d="M84.3 207.0H98.8" stroke="#b40426" stroke-width="1.50" stroke-opacity="0.75"/><text x="103.6" y="209.3" font-size="7.8" class="t">BINN: &#160;0.99 ± &#160;0.00</text>
<polygon points="288.4,16.5 289.3,16.5 290.3,16.5 291.2,16.5 292.1,16.5 293.1,16.5 294.0,16.5 295.0,16.5 295.9,16.5 296.8,16.5 297.8,16.5 298.7,16.5 299.6,16.5 300.6,16.5 301.5,16.5 302.4,16.5 303.4,16.5 304.3,16.5 305.3,16.5 306.2,16.5 307.1,16.5 308.1,16.5 309.0,16.5 309.9,16.5 310.9,16.5 311.8,16.5 312.7,16.5 313.7,16.5 314.6,16.5 315.6,16.5 316.5,16.5 317.4,16.5 318.4,16.5 319.3,16.5 320.2,16.5 321.2,16.5 322.1,16.5 323.1,16.5 324.0,16.5 324.9,16.5 325.9,16.5 326.8,16.5 327.7,16.5 328.7,16.5 329.6,16.5 330.5,16.5 331.5,16.5 332.4,16.5 333.4,16.5 334.3,16.5 335.2,16.5 336.2,16.5 337.1,16.5 338.0,16.5 339.0,16.5 339.9,16.5 340.8,16.5 341.8,16.5 342.7,16.5 343.7,16.5 344.6,16.5 345.5,16.5 346.5,16.5 347.4,16.5 348.3,16.5 349.3,16.5 350.2,16.5 351.1,16.5 352.1,16.5 353.0,16.5 354.0,16.5 354.9,16.5 355.8,16.5 356.8,16.5 357.7,16.5 358.6,16.5 359.6,16.5 360.5,16.5 361.4,16.5 362.4,16.5 363.3,16.5 364.3,16.5 365.2,16.5 366.1,16.5 367.1,16.5 368.0,16.5 368.9,16.5 369.9,16.5 370.8,16.5 371.7,16.5 372.7,16.5 373.6,16.5 374.6,16.5 375.5,16.5 376.4,16.5 377.4,16.5 378.3,16.5 379.2,16.5 380.2,16.5 381.1,16.5 382.0,16.5 383.0,16.5 383.9,16.5 384.9,16.5 385.8,16.5 386.7,16.5 387.7,16.5 388.6,16.5 389.5,16.5 390.5,16.5 391.4,16.5 392.4,16.5 393.3,16.5 394.2,16.5 395.2,16.5 396.1,16.5 397.0,16.5 398.0,16.5 398.9,16.5 399.8,16.5 400.8,16.5 401.7,16.5 402.7,16.5 403.6,16.5 404.5,16.5 405.5,16.5 406.4,16.5 407.3,16.5 408.3,16.5 409.2,16.5 410.1,16.5 411.1,16.5 412.0,16.5 413.0,16.5 413.9,16.5 414.8,16.5 415.8,16.5 416.7,16.5 417.6,16.5 418.6,16.5 419.5,16.5 420.4,16.5 421.4,16.5 422.3,16.5 423.3,16.5 424.2,16.5 425.1,16.5 426.1,16.5 427.0,16.5 427.9,16.5 428.9,16.5 429.8,16.5 430.7,16.5 431.7,16.5 432.6,16.5 433.6,16.5 434.5,16.5 435.4,16.5 436.4,16.5 437.3,16.5 438.2,16.5 439.2,16.5 440.1,16.5 441.0,16.5 442.0,16.5 442.9,16.5 443.9,16.5 444.8,16.5 445.7,16.5 446.7,16.5 447.6,16.5 448.5,16.5 449.5,16.5 450.4,16.5 451.4,16.5 452.3,16.5 453.2,16.5 454.2,16.5 455.1,16.5 456.0,16.5 457.0,16.5 457.9,16.5 458.8,16.5 459.8,16.5 460.7,16.5 461.7,16.5 462.6,16.5 463.5,16.5 464.5,16.5 465.4,16.5 466.3,16.5 467.3,16.5 468.2,16.5 469.1,16.5 470.1,16.5 471.0,16.5 472.0,16.5 472.9,16.5 473.8,16.5 474.8,108.3 475.7,150.3 475.7,207.7 474.8,168.7 473.8,66.0 472.9,69.4 472.0,72.9 471.0,76.3 470.1,79.8 469.1,83.2 468.2,86.7 467.3,90.1 466.3,93.5 465.4,93.2 464.5,92.8 463.5,92.4 462.6,91.6 461.7,90.4 460.7,89.3 459.8,88.1 458.8,87.0 457.9,85.4 457.0,83.8 456.0,82.1 455.1,80.4 454.2,78.9 453.2,77.8 452.3,76.8 451.4,75.8 450.4,74.8 449.5,73.7 448.5,73.0 447.6,72.6 446.7,72.1 445.7,71.6 444.8,71.2 443.9,70.7 442.9,70.2 442.0,69.8 441.0,69.3 440.1,68.7 439.2,68.0 438.2,67.2 437.3,66.5 436.4,65.8 435.4,65.1 434.5,64.4 433.6,63.7 432.6,63.1 431.7,62.4 430.7,61.8 429.8,61.2 428.9,60.5 427.9,59.9 427.0,59.3 426.1,58.7 425.1,55.5 424.2,51.8 423.3,49.1 422.3,48.1 421.4,47.0 420.4,46.0 419.5,45.3 418.6,44.9 417.6,44.4 416.7,44.0 415.8,43.6 414.8,43.1 413.9,42.7 413.0,42.3 412.0,39.8 411.1,39.3 410.1,38.9 409.2,38.4 408.3,37.9 407.3,37.4 406.4,36.9 405.5,36.3 404.5,35.7 403.6,35.1 402.7,34.6 401.7,34.0 400.8,33.4 399.8,30.7 398.9,26.8 398.0,18.9 397.0,16.5 396.1,16.5 395.2,16.5 394.2,16.5 393.3,16.5 392.4,16.5 391.4,16.5 390.5,16.5 389.5,16.5 388.6,16.5 387.7,16.5 386.7,16.5 385.8,16.5 384.9,16.5 383.9,16.5 383.0,16.5 382.0,16.5 381.1,16.5 380.2,16.5 379.2,16.5 378.3,16.5 377.4,16.5 376.4,16.5 375.5,16.5 374.6,16.5 373.6,16.5 372.7,16.5 371.7,16.5 370.8,16.5 369.9,16.5 368.9,16.5 368.0,16.5 367.1,16.5 366.1,16.5 365.2,16.5 364.3,16.5 363.3,16.5 362.4,16.5 361.4,16.5 360.5,16.5 359.6,16.5 358.6,16.5 357.7,16.5 356.8,16.5 355.8,16.5 354.9,16.5 354.0,16.5 353.0,16.5 352.1,16.5 351.1,16.5 350.2,16.5 349.3,16.5 348.3,16.5 347.4,16.5 346.5,16.5 345.5,16.5 344.6,16.5 343.7,16.5 342.7,16.5 341.8,16.5 340.8,16.5 339.9,16.5 339.0,16.5 338.0,16.5 337.1,16.5 336.2,16.5 335.2,16.5 334.3,16.5 333.4,16.5 332.4,16.5 331.5,16.5 330.5,16.5 329.6,16.5 328.7,16.5 327.7,16.5 326.8,16.5 325.9,16.5 324.9,16.5 324.0,16.5 323.1,16.5 322.1,16.5 321.2,16.5 320.2,16.5 319.3,16.5 318.4,16.5 317.4,16.5 316.5,16.5 315.6,16.5 314.6,16.5 313.7,16.5 312.7,16.5 311.8,16.5 310.9,16.5 309.9,16.5 309.0,16.5 308.1,16.5 307.1,16.5 306.2,16.5 305.3,16.5 304.3,16.5 303.4,16.5 302.4,16.5 301.5,16.5 300.6,16.5 299.6,16.5 298.7,16.5 297.8,16.5 296.8,16.5 295.9,16.5 295.0,16.5 294.0,16.5 293.1,16.5 292.1,16.5 291.2,16.5 290.3,16.5 289.3,16.5 288.4,16.5" fill="#3b4cc0" fill-opacity="0.120"/>
<polygon points="288.4,16.5 289.3,16.5 290.3,16.5 291.2,16.5 292.1,16.5 293.1,16.5 294.0,16.5 295.0,16.5 295.9,16.5 296.8,16.5 297.8,16.5 298.7,16.5 299.6,16.5 300.6,16.5 301.5,16.5 302.4,16.5 303.4,16.5 304.3,16.5 305.3,16.5 306.2,16.5 307.1,16.5 308.1,16.5 309.0,16.5 309.9,16.5 310.9,16.5 311.8,16.5 312.7,16.5 313.7,16.5 314.6,16.5 315.6,16.5 316.5,16.5 317.4,16.5 318.4,16.5 319.3,16.5 320.2,16.5 321.2,16.5 322.1,16.5 323.1,16.5 324.0,16.5 324.9,16.5 325.9,16.5 326.8,16.5 327.7,16.5 328.7,16.5 329.6,16.5 330.5,16.5 331.5,16.5 332.4,16.5 333.4,16.5 334.3,16.5 335.2,16.5 336.2,16.5 337.1,16.5 338.0,16.5 339.0,16.5 339.9,16.5 340.8,16.5 341.8,16.5 342.7,16.5 343.7,16.5 344.6,16.5 345.5,16.5 346.5,16.5 347.4,16.5 348.3,16.5 349.3,16.5 350.2,16.5 351.1,16.5 352.1,16.5 353.0,16.5 354.0,16.5 354.9,16.5 355.8,16.5 356.8,16.5 357.7,16.5 358.6,16.5 359.6,16.5 360.5,16.5 361.4,16.5 362.4,16.5 363.3,16.5 364.3,16.5 365.2,16.5 366.1,16.5 367.1,16.5 368.0,16.5 368.9,16.5 369.9,16.5 370.8,16.5 371.7,16.5 372.7,16.5 373.6,16.5 374.6,16.5 375.5,16.5 376.4,16.5 377.4,16.5 378.3,16.5 379.2,16.5 380.2,16.5 381.1,16.5 382.0,16.5 383.0,16.5 383.9,16.5 384.9,16.5 385.8,16.5 386.7,16.5 387.7,16.5 388.6,16.5 389.5,16.5 390.5,16.5 391.4,16.5 392.4,16.5 393.3,16.5 394.2,16.5 395.2,16.5 396.1,16.5 397.0,16.5 398.0,16.5 398.9,16.5 399.8,16.5 400.8,16.5 401.7,16.5 402.7,16.5 403.6,16.5 404.5,16.5 405.5,16.5 406.4,16.5 407.3,16.5 408.3,16.5 409.2,16.5 410.1,16.5 411.1,16.5 412.0,16.5 413.0,16.5 413.9,16.5 414.8,16.5 415.8,16.5 416.7,16.5 417.6,16.5 418.6,16.5 419.5,16.5 420.4,16.5 421.4,16.5 422.3,16.5 423.3,16.5 424.2,16.5 425.1,16.5 426.1,16.5 427.0,16.5 427.9,16.5 428.9,16.5 429.8,16.5 430.7,16.5 431.7,16.5 432.6,16.5 433.6,17.1 434.5,18.0 435.4,18.9 436.4,19.8 437.3,20.7 438.2,21.7 439.2,22.6 440.1,23.5 441.0,24.4 442.0,25.3 442.9,26.3 443.9,27.5 444.8,29.3 445.7,31.0 446.7,32.8 447.6,34.5 448.5,35.7 449.5,36.7 450.4,37.7 451.4,38.8 452.3,39.8 453.2,40.8 454.2,41.8 455.1,42.9 456.0,44.2 457.0,45.5 457.9,46.8 458.8,48.2 459.8,49.5 460.7,50.8 461.7,52.1 462.6,53.6 463.5,55.7 464.5,57.8 465.4,59.9 466.3,62.0 467.3,64.1 468.2,66.2 469.1,68.7 470.1,71.2 471.0,73.7 472.0,76.2 472.9,78.7 473.8,91.4 474.8,133.5 475.7,150.3 475.7,207.7 474.8,196.6 473.8,160.2 472.9,153.2 472.0,156.5 471.0,159.7 470.1,163.0 469.1,166.2 468.2,169.4 467.3,173.1 466.3,176.7 465.4,174.3 464.5,171.9 463.5,169.5 462.6,167.0 461.7,165.2 460.7,163.6 459.8,162.0 458.8,160.3 457.9,158.7 457.0,157.0 456.0,155.4 455.1,153.7 454.2,152.4 453.2,151.0 452.3,149.7 451.4,148.4 450.4,147.0 449.5,145.7 448.5,144.3 447.6,142.8 446.7,140.8 445.7,138.7 444.8,136.6 443.9,134.6 442.9,133.0 442.0,131.8 441.0,130.5 440.1,129.3 439.2,128.0 438.2,126.8 437.3,125.6 436.4,124.5 435.4,123.3 434.5,122.2 433.6,121.0 432.6,119.9 431.7,118.8 430.7,117.6 429.8,116.5 428.9,115.4 427.9,113.8 427.0,112.1 426.1,110.5 425.1,108.9 424.2,107.2 423.3,105.6 422.3,103.9 421.4,102.3 420.4,100.6 419.5,99.4 418.6,98.3 417.6,97.3 416.7,96.2 415.8,95.2 414.8,94.2 413.9,92.8 413.0,91.1 412.0,89.4 411.1,87.7 410.1,86.3 409.2,85.4 408.3,84.6 407.3,83.7 406.4,82.8 405.5,82.0 404.5,81.1 403.6,80.1 402.7,79.0 401.7,77.8 400.8,76.6 399.8,69.3 398.9,62.1 398.0,52.0 397.0,42.0 396.1,29.9 395.2,16.5 394.2,16.5 393.3,16.5 392.4,16.5 391.4,16.5 390.5,16.5 389.5,16.5 388.6,16.5 387.7,16.5 386.7,16.5 385.8,16.5 384.9,16.5 383.9,16.5 383.0,16.5 382.0,16.5 381.1,16.5 380.2,16.5 379.2,16.5 378.3,16.5 377.4,16.5 376.4,16.5 375.5,16.5 374.6,16.5 373.6,16.5 372.7,16.5 371.7,16.5 370.8,16.5 369.9,16.5 368.9,16.5 368.0,16.5 367.1,16.5 366.1,16.5 365.2,16.5 364.3,16.5 363.3,16.5 362.4,16.5 361.4,16.5 360.5,16.5 359.6,16.5 358.6,16.5 357.7,16.5 356.8,16.5 355.8,16.5 354.9,16.5 354.0,16.5 353.0,16.5 352.1,16.5 351.1,16.5 350.2,16.5 349.3,16.5 348.3,16.5 347.4,16.5 346.5,16.5 345.5,16.5 344.6,16.5 343.7,16.5 342.7,16.5 341.8,16.5 340.8,16.5 339.9,16.5 339.0,16.5 338.0,16.5 337.1,16.5 336.2,16.5 335.2,16.5 334.3,16.5 333.4,16.5 332.4,16.5 331.5,16.5 330.5,16.5 329.6,16.5 328.7,16.5 327.7,16.5 326.8,16.5 325.9,16.5 324.9,16.5 324.0,16.5 323.1,16.5 322.1,16.5 321.2,16.5 320.2,16.5 319.3,16.5 318.4,16.5 317.4,16.5 316.5,16.5 315.6,16.5 314.6,16.5 313.7,16.5 312.7,16.5 311.8,16.5 310.9,16.5 309.9,16.5 309.0,16.5 308.1,16.5 307.1,16.5 306.2,16.5 305.3,16.5 304.3,16.5 303.4,16.5 302.4,16.5 301.5,16.5 300.6,16.5 299.6,16.5 298.7,16.5 297.8,16.5 296.8,16.5 295.9,16.5 295.0,16.5 294.0,16.5 293.1,16.5 292.1,16.5 291.2,16.5 290.3,16.5 289.3,16.5 288.4,16.5" fill="#7b9ff9" fill-opacity="0.100"/>
<polygon points="288.4,16.5 289.3,16.5 290.3,16.5 291.2,16.5 292.1,16.5 293.1,16.5 294.0,16.5 295.0,16.5 295.9,16.5 296.8,16.5 297.8,16.5 298.7,16.5 299.6,16.5 300.6,16.5 301.5,16.5 302.4,16.5 303.4,16.5 304.3,16.5 305.3,16.5 306.2,16.5 307.1,16.5 308.1,16.5 309.0,16.5 309.9,16.5 310.9,16.5 311.8,16.5 312.7,16.5 313.7,16.5 314.6,16.5 315.6,16.5 316.5,16.5 317.4,16.5 318.4,16.5 319.3,16.5 320.2,16.5 321.2,16.5 322.1,16.5 323.1,16.5 324.0,16.5 324.9,16.5 325.9,16.5 326.8,16.5 327.7,16.5 328.7,16.5 329.6,16.5 330.5,16.5 331.5,16.5 332.4,16.5 333.4,16.5 334.3,16.5 335.2,16.5 336.2,16.5 337.1,16.5 338.0,16.5 339.0,16.5 339.9,16.5 340.8,16.5 341.8,16.5 342.7,16.5 343.7,16.5 344.6,16.5 345.5,16.5 346.5,16.5 347.4,16.5 348.3,16.5 349.3,16.5 350.2,16.5 351.1,16.5 352.1,16.5 353.0,16.5 354.0,16.5 354.9,16.5 355.8,16.5 356.8,16.5 357.7,16.5 358.6,16.5 359.6,16.5 360.5,16.5 361.4,16.5 362.4,16.5 363.3,16.5 364.3,16.5 365.2,16.5 366.1,16.5 367.1,16.5 368.0,16.5 368.9,16.5 369.9,16.5 370.8,16.5 371.7,16.5 372.7,16.5 373.6,16.5 374.6,16.5 375.5,16.5 376.4,16.5 377.4,16.5 378.3,16.5 379.2,16.5 380.2,16.5 381.1,16.5 382.0,16.5 383.0,16.5 383.9,16.5 384.9,16.5 385.8,16.5 386.7,16.5 387.7,16.5 388.6,16.5 389.5,16.5 390.5,16.5 391.4,16.5 392.4,16.5 393.3,16.5 394.2,16.5 395.2,16.5 396.1,16.5 397.0,16.5 398.0,16.5 398.9,16.5 399.8,16.5 400.8,16.5 401.7,16.5 402.7,16.5 403.6,16.5 404.5,16.5 405.5,16.5 406.4,16.5 407.3,16.5 408.3,16.5 409.2,16.5 410.1,16.5 411.1,16.5 412.0,16.5 413.0,16.5 413.9,16.5 414.8,16.5 415.8,16.5 416.7,32.7 417.6,33.0 418.6,33.2 419.5,33.5 420.4,33.7 421.4,33.8 422.3,33.9 423.3,34.1 424.2,34.2 425.1,34.4 426.1,34.5 427.0,34.7 427.9,34.8 428.9,34.9 429.8,35.1 430.7,35.2 431.7,35.4 432.6,35.5 433.6,35.7 434.5,35.8 435.4,35.9 436.4,36.1 437.3,36.2 438.2,36.4 439.2,53.2 440.1,64.1 441.0,66.1 442.0,68.1 442.9,68.8 443.9,69.5 444.8,70.2 445.7,70.9 446.7,71.6 447.6,72.3 448.5,73.0 449.5,73.7 450.4,74.4 451.4,75.1 452.3,75.8 453.2,76.5 454.2,77.2 455.1,77.9 456.0,78.6 457.0,79.3 457.9,80.1 458.8,80.8 459.8,81.5 460.7,82.2 461.7,82.9 462.6,83.6 463.5,84.3 464.5,85.0 465.4,85.7 466.3,86.4 467.3,87.1 468.2,87.8 469.1,88.5 470.1,89.2 471.0,89.9 472.0,90.6 472.9,91.3 473.8,112.8 474.8,139.6 475.7,150.3 475.7,207.7 473.1,205.9 447.2,201.5 438.2,179.0 428.9,150.3 419.5,127.4 415.8,118.6 400.8,107.5 396.1,102.5 395.2,64.3 394.2,16.5 288.4,16.5" fill="#c0d4f5" fill-opacity="0.120"/>
<polygon points="288.4,16.5 289.3,16.5 290.3,16.5 291.2,16.5 292.1,16.5 293.1,16.5 294.0,16.5 295.0,16.5 295.9,16.5 296.8,16.5 297.8,16.5 298.7,16.5 299.6,16.6 300.6,16.6 301.5,16.6 302.4,16.6 303.4,16.6 304.3,16.6 305.3,16.6 306.2,16.6 307.1,16.6 308.1,16.6 309.0,16.6 309.9,16.6 310.9,16.6 311.8,16.6 312.7,16.6 313.7,16.6 314.6,16.6 315.6,16.6 316.5,16.6 317.4,16.6 318.4,16.6 319.3,16.6 320.2,16.7 321.2,16.7 322.1,16.7 323.1,16.7 324.0,16.7 324.9,16.7 325.9,16.7 326.8,16.7 327.7,16.7 328.7,16.7 329.6,16.7 330.5,16.7 331.5,16.7 332.4,16.7 333.4,16.7 334.3,16.7 335.2,16.7 336.2,16.7 337.1,16.7 338.0,16.7 339.0,16.7 339.9,16.7 340.8,16.7 341.8,16.8 342.7,16.8 343.7,16.8 344.6,16.8 345.5,16.8 346.5,16.8 347.4,16.8 348.3,16.8 349.3,16.8 350.2,16.8 351.1,16.8 352.1,16.8 353.0,16.8 354.0,16.8 354.9,16.8 355.8,16.8 356.8,16.8 357.7,16.8 358.6,16.8 359.6,16.8 360.5,16.8 361.4,16.8 362.4,16.9 363.3,16.9 364.3,16.9 365.2,16.9 366.1,16.9 367.1,16.9 368.0,16.9 368.9,16.9 369.9,16.9 370.8,16.9 371.7,16.9 372.7,16.9 373.6,16.9 374.6,16.9 375.5,16.9 376.4,16.9 377.4,16.9 378.3,16.9 379.2,16.9 380.2,16.9 381.1,16.9 382.0,16.9 383.0,16.9 383.9,17.0 384.9,17.0 385.8,17.0 386.7,17.0 387.7,17.0 388.6,17.0 389.5,17.0 390.5,17.0 391.4,17.0 392.4,17.0 393.3,17.0 394.2,17.0 395.2,17.0 396.1,17.0 397.0,17.0 398.0,17.0 398.9,17.0 399.8,17.0 400.8,17.0 401.7,16.5 402.7,16.5 403.6,16.5 404.5,16.5 405.5,16.5 406.4,16.5 407.3,16.5 408.3,16.5 409.2,16.5 410.1,16.5 411.1,16.5 412.0,16.5 413.0,16.5 413.9,16.5 414.8,16.5 415.8,16.5 416.7,16.5 417.6,16.5 418.6,16.5 419.5,16.5 420.4,16.5 421.4,16.5 422.3,16.5 423.3,16.5 424.2,16.5 425.1,16.5 426.1,16.5 427.0,16.5 427.9,16.5 428.9,16.5 429.8,16.5 430.7,16.5 431.7,16.5 432.6,16.5 433.6,16.5 434.5,16.5 435.4,16.9 436.4,18.6 437.3,22.3 438.2,27.4 439.2,29.0 440.1,30.6 441.0,32.1 442.0,33.7 442.9,35.3 443.9,37.0 444.8,38.9 445.7,40.8 446.7,42.8 447.6,44.7 448.5,48.4 449.5,52.6 450.4,56.2 451.4,59.6 452.3,62.9 453.2,73.3 454.2,74.7 455.1,76.1 456.0,77.5 457.0,78.8 457.9,80.2 458.8,81.6 459.8,82.9 460.7,84.3 461.7,85.7 462.6,87.1 463.5,88.4 464.5,89.7 465.4,90.9 466.3,92.0 467.3,93.2 468.2,94.3 469.1,95.5 470.1,96.6 471.0,97.8 472.0,98.9 472.9,100.1 473.8,107.2 474.8,138.1 475.7,150.3 475.7,207.7 474.8,200.0 473.8,173.6 472.9,171.0 472.0,174.3 471.0,177.7 470.1,181.0 469.1,184.4 468.2,187.7 467.3,191.1 466.3,194.4 465.4,192.7 464.5,191.0 463.5,189.1 462.6,187.1 461.7,185.1 460.7,183.2 459.8,181.2 458.8,179.2 457.9,177.3 457.0,175.3 456.0,173.3 455.1,171.4 454.2,169.4 453.2,167.4 452.3,156.4 451.4,152.5 450.4,148.6 449.5,144.3 448.5,139.6 447.6,135.3 446.7,132.8 445.7,130.2 444.8,127.7 443.9,125.2 442.9,122.9 442.0,120.7 441.0,118.6 440.1,116.4 439.2,114.2 438.2,112.1 437.3,106.1 436.4,101.4 435.4,98.8 434.5,96.3 433.6,93.7 432.6,91.1 431.7,88.5 430.7,87.0 429.8,85.5 428.9,84.0 427.9,82.5 427.0,81.0 426.1,79.5 425.1,78.0 424.2,76.5 423.3,74.9 422.3,73.4 421.4,71.9 420.4,70.4 419.5,69.0 418.6,67.5 417.6,66.0 416.7,64.5 415.8,63.4 414.8,62.6 413.9,61.8 413.0,60.9 412.0,60.1 411.1,59.3 410.1,53.0 409.2,37.1 408.3,32.4 407.3,30.4 406.4,28.5 405.5,26.6 404.5,24.7 403.6,22.8 402.7,20.9 401.7,19.0 400.8,17.0 399.8,17.0 398.9,17.0 398.0,17.0 397.0,17.0 396.1,17.0 395.2,17.0 394.2,17.0 393.3,17.0 392.4,17.0 391.4,17.0 390.5,17.0 389.5,17.0 388.6,17.0 387.7,17.0 386.7,17.0 385.8,17.0 384.9,17.0 383.9,17.0 383.0,16.9 382.0,16.9 381.1,16.9 380.2,16.9 379.2,16.9 378.3,16.9 377.4,16.9 376.4,16.9 375.5,16.9 374.6,16.9 373.6,16.9 372.7,16.9 371.7,16.9 370.8,16.9 369.9,16.9 368.9,16.9 368.0,16.9 367.1,16.9 366.1,16.9 365.2,16.9 364.3,16.9 363.3,16.9 362.4,16.9 361.4,16.8 360.5,16.8 359.6,16.8 358.6,16.8 357.7,16.8 356.8,16.8 355.8,16.8 354.9,16.8 354.0,16.8 353.0,16.8 352.1,16.8 351.1,16.8 350.2,16.8 349.3,16.8 348.3,16.8 347.4,16.8 346.5,16.8 345.5,16.8 344.6,16.8 343.7,16.8 342.7,16.8 341.8,16.8 340.8,16.7 339.9,16.7 339.0,16.7 338.0,16.7 337.1,16.7 336.2,16.7 335.2,16.7 334.3,16.7 333.4,16.7 332.4,16.7 331.5,16.7 330.5,16.7 329.6,16.7 328.7,16.7 327.7,16.7 326.8,16.7 325.9,16.7 324.9,16.7 324.0,16.7 323.1,16.7 322.1,16.7 321.2,16.7 320.2,16.7 319.3,16.6 318.4,16.6 317.4,16.6 316.5,16.6 315.6,16.6 314.6,16.6 313.7,16.6 312.7,16.6 311.8,16.6 310.9,16.6 309.9,16.6 309.0,16.6 308.1,16.6 307.1,16.6 306.2,16.6 305.3,16.6 304.3,16.6 303.4,16.6 302.4,16.6 301.5,16.6 300.6,16.6 299.6,16.6 298.7,16.5 297.8,16.5 296.8,16.5 295.9,16.5 295.0,16.5 294.0,16.5 293.1,16.5 292.1,16.5 291.2,16.5 290.3,16.5 289.3,16.5 288.4,16.5" fill="#f2cbb7" fill-opacity="0.100"/>
<polygon points="288.4,16.5 289.3,16.5 290.3,16.5 291.2,16.5 292.1,16.5 293.1,16.5 294.0,16.6 295.0,16.6 295.9,16.6 296.8,16.6 297.8,16.6 298.7,16.6 299.6,16.6 300.6,16.6 301.5,16.6 302.4,16.6 303.4,16.7 304.3,16.7 305.3,16.7 306.2,16.7 307.1,16.7 308.1,16.7 309.0,16.7 309.9,16.7 310.9,16.7 311.8,16.7 312.7,16.8 313.7,16.8 314.6,16.8 315.6,16.8 316.5,16.8 317.4,16.8 318.4,16.8 319.3,16.8 320.2,16.8 321.2,16.8 322.1,16.9 323.1,16.9 324.0,16.9 324.9,16.9 325.9,16.9 326.8,16.9 327.7,16.9 328.7,16.9 329.6,16.9 330.5,16.9 331.5,17.0 332.4,17.0 333.4,17.0 334.3,17.0 335.2,17.0 336.2,17.0 337.1,17.0 338.0,17.0 339.0,17.0 339.9,17.0 340.8,17.1 341.8,17.1 342.7,17.1 343.7,17.1 344.6,17.1 345.5,17.1 346.5,17.1 347.4,17.1 348.3,17.1 349.3,17.1 350.2,17.2 351.1,17.2 352.1,17.2 353.0,17.2 354.0,17.2 354.9,17.2 355.8,17.2 356.8,17.2 357.7,17.2 358.6,17.2 359.6,17.3 360.5,17.3 361.4,17.3 362.4,17.3 363.3,17.3 364.3,17.3 365.2,17.3 366.1,17.3 367.1,17.3 368.0,17.3 368.9,17.4 369.9,17.4 370.8,17.4 371.7,17.4 372.7,17.4 373.6,17.4 374.6,17.4 375.5,17.4 376.4,17.4 377.4,17.4 378.3,17.5 379.2,17.5 380.2,17.5 381.1,17.5 382.0,17.5 383.0,17.5 383.9,17.5 384.9,17.5 385.8,17.5 386.7,17.5 387.7,17.6 388.6,17.6 389.5,17.6 390.5,17.6 391.4,17.6 392.4,17.6 393.3,17.6 394.2,17.6 395.2,17.6 396.1,17.6 397.0,19.2 398.0,17.7 398.9,16.5 399.8,16.5 400.8,16.5 401.7,16.5 402.7,16.5 403.6,16.5 404.5,16.5 405.5,16.5 406.4,16.5 407.3,16.5 408.3,16.5 409.2,16.5 410.1,16.5 411.1,16.5 412.0,16.5 413.0,16.5 413.9,16.5 414.8,16.5 415.8,16.5 416.7,22.1 417.6,28.2 418.6,34.3 419.5,35.0 420.4,35.8 421.4,36.5 422.3,36.2 423.3,36.0 424.2,35.8 425.1,35.5 426.1,35.3 427.0,35.0 427.9,34.8 428.9,34.6 429.8,34.3 430.7,34.1 431.7,33.8 432.6,39.2 433.6,44.6 434.5,50.0 435.4,49.8 436.4,49.7 437.3,49.6 438.2,49.5 439.2,49.3 440.1,49.0 441.0,48.8 442.0,48.6 442.9,48.6 443.9,48.5 444.8,48.5 445.7,48.4 446.7,48.4 447.6,48.3 448.5,48.6 449.5,48.6 450.4,48.4 451.4,48.1 452.3,47.8 453.2,47.6 454.2,47.3 455.1,47.0 456.0,46.8 457.0,46.5 457.9,46.5 458.8,50.8 459.8,57.5 460.7,63.3 461.7,66.3 462.6,67.4 463.5,67.9 464.5,67.5 465.4,67.2 466.3,66.9 467.3,66.5 468.2,66.2 469.1,65.9 470.1,65.5 471.0,65.2 472.0,64.9 472.9,64.5 473.8,64.2 474.8,146.3 475.7,179.0 475.7,207.7 474.8,196.6 473.8,136.2 472.9,136.2 472.0,136.2 471.0,136.2 470.1,136.2 469.1,136.2 468.2,136.2 467.3,136.2 466.3,136.2 465.4,136.2 464.5,136.2 463.5,136.2 462.6,135.3 461.7,134.0 460.7,130.6 459.8,123.5 458.8,115.4 457.9,109.7 457.0,108.3 456.0,107.2 455.1,106.1 454.2,105.0 453.2,103.9 452.3,102.8 451.4,101.7 450.4,100.6 449.5,99.5 448.5,98.1 447.6,96.4 446.7,95.1 445.7,93.8 444.8,92.5 443.9,91.1 442.9,89.8 442.0,88.5 441.0,87.3 440.1,86.2 439.2,85.0 438.2,83.9 437.3,83.4 436.4,83.0 435.4,82.5 434.5,82.1 433.6,76.1 432.6,70.2 431.7,64.2 430.7,63.9 429.8,63.6 428.9,63.2 427.9,62.9 427.0,62.6 426.1,62.2 425.1,61.9 424.2,61.6 423.3,61.2 422.3,60.9 421.4,60.6 420.4,59.3 419.5,58.0 418.6,56.7 417.6,50.0 416.7,43.3 415.8,36.6 414.8,29.9 413.9,29.6 413.0,29.3 412.0,28.9 411.1,28.6 410.1,28.3 409.2,27.9 408.3,27.6 407.3,27.3 406.4,26.9 405.5,26.6 404.5,26.2 403.6,25.9 402.7,25.6 401.7,25.2 400.8,24.9 399.8,23.5 398.9,22.0 398.0,20.6 397.0,19.2 396.1,17.6 395.2,17.6 394.2,17.6 393.3,17.6 392.4,17.6 391.4,17.6 390.5,17.6 389.5,17.6 388.6,17.6 387.7,17.6 386.7,17.5 385.8,17.5 384.9,17.5 383.9,17.5 383.0,17.5 382.0,17.5 381.1,17.5 380.2,17.5 379.2,17.5 378.3,17.5 377.4,17.4 376.4,17.4 375.5,17.4 374.6,17.4 373.6,17.4 372.7,17.4 371.7,17.4 370.8,17.4 369.9,17.4 368.9,17.4 368.0,17.3 367.1,17.3 366.1,17.3 365.2,17.3 364.3,17.3 363.3,17.3 362.4,17.3 361.4,17.3 360.5,17.3 359.6,17.3 358.6,17.2 357.7,17.2 356.8,17.2 355.8,17.2 354.9,17.2 354.0,17.2 353.0,17.2 352.1,17.2 351.1,17.2 350.2,17.2 349.3,17.1 348.3,17.1 347.4,17.1 346.5,17.1 345.5,17.1 344.6,17.1 343.7,17.1 342.7,17.1 341.8,17.1 340.8,17.1 339.9,17.0 339.0,17.0 338.0,17.0 337.1,17.0 336.2,17.0 335.2,17.0 334.3,17.0 333.4,17.0 332.4,17.0 331.5,17.0 330.5,16.9 329.6,16.9 328.7,16.9 327.7,16.9 326.8,16.9 325.9,16.9 324.9,16.9 324.0,16.9 323.1,16.9 322.1,16.9 321.2,16.8 320.2,16.8 319.3,16.8 318.4,16.8 317.4,16.8 316.5,16.8 315.6,16.8 314.6,16.8 313.7,16.8 312.7,16.8 311.8,16.7 310.9,16.7 309.9,16.7 309.0,16.7 308.1,16.7 307.1,16.7 306.2,16.7 305.3,16.7 304.3,16.7 303.4,16.7 302.4,16.6 301.5,16.6 300.6,16.6 299.6,16.6 298.7,16.6 297.8,16.6 296.8,16.6 295.9,16.6 295.0,16.6 294.0,16.6 293.1,16.5 292.1,16.5 291.2,16.5 290.3,16.5 289.3,16.5 288.4,16.5" fill="#ee8468" fill-opacity="0.100"/>
<polygon points="288.4,16.5 289.3,16.5 290.3,16.5 291.2,16.5 292.1,16.5 293.1,16.5 294.0,16.5 295.0,16.5 295.9,16.5 296.8,16.5 297.8,16.5 298.7,16.5 299.6,16.5 300.6,16.5 301.5,16.5 302.4,16.5 303.4,16.5 304.3,16.5 305.3,16.5 306.2,16.5 307.1,16.5 308.1,16.5 309.0,16.5 309.9,16.5 310.9,16.5 311.8,16.5 312.7,16.5 313.7,16.5 314.6,16.5 315.6,16.5 316.5,16.5 317.4,16.5 318.4,16.5 319.3,16.5 320.2,16.5 321.2,16.5 322.1,16.5 323.1,16.5 324.0,16.5 324.9,16.5 325.9,16.5 326.8,16.5 327.7,16.5 328.7,16.5 329.6,16.5 330.5,16.5 331.5,16.5 332.4,16.5 333.4,16.5 334.3,16.5 335.2,16.5 336.2,16.5 337.1,16.5 338.0,16.5 339.0,16.5 339.9,16.5 340.8,16.5 341.8,16.5 342.7,16.5 343.7,16.5 344.6,16.5 345.5,16.5 346.5,16.5 347.4,16.5 348.3,16.5 349.3,16.5 350.2,16.5 351.1,16.5 352.1,16.5 353.0,16.5 354.0,16.5 354.9,16.5 355.8,16.5 356.8,16.5 357.7,16.5 358.6,16.5 359.6,16.5 360.5,16.5 361.4,16.5 362.4,16.5 363.3,16.5 364.3,16.5 365.2,16.5 366.1,16.5 367.1,16.5 368.0,16.5 368.9,16.5 369.9,16.5 370.8,16.5 371.7,16.5 372.7,16.5 373.6,16.5 374.6,16.5 375.5,16.5 376.4,16.5 377.4,16.5 378.3,16.5 379.2,16.5 380.2,16.5 381.1,16.5 382.0,16.5 383.0,16.5 383.9,16.5 384.9,16.5 385.8,16.5 386.7,16.5 387.7,16.5 388.6,16.5 389.5,16.5 390.5,16.5 391.4,16.5 392.4,16.5 393.3,16.5 394.2,16.5 395.2,16.5 396.1,16.5 397.0,16.5 398.0,16.5 398.9,16.5 399.8,16.5 400.8,16.5 401.7,16.5 402.7,16.5 403.6,16.5 404.5,16.5 405.5,16.5 406.4,16.5 407.3,16.5 408.3,16.5 409.2,16.5 410.1,16.5 411.1,16.5 412.0,16.5 413.0,16.5 413.9,16.5 414.8,16.5 415.8,16.5 416.7,16.5 417.6,16.5 418.6,16.5 419.5,16.5 420.4,16.5 421.4,16.5 422.3,16.5 423.3,16.5 424.2,16.5 425.1,16.5 426.1,16.5 427.0,16.5 427.9,16.5 428.9,16.5 429.8,16.5 430.7,16.5 431.7,16.5 432.6,16.5 433.6,16.5 434.5,16.5 435.4,16.5 436.4,16.5 437.3,16.5 438.2,16.5 439.2,16.5 440.1,16.5 441.0,16.5 442.0,16.5 442.9,16.5 443.9,16.5 444.8,16.5 445.7,16.5 446.7,16.5 447.6,16.5 448.5,16.5 449.5,16.5 450.4,16.5 451.4,16.5 452.3,16.5 453.2,16.5 454.2,16.5 455.1,16.5 456.0,16.5 457.0,16.5 457.9,16.5 458.8,16.5 459.8,16.5 460.7,16.5 461.7,16.5 462.6,16.5 463.5,16.5 464.5,16.5 465.4,16.5 466.3,16.5 467.3,16.5 468.2,16.5 469.1,16.5 470.1,16.5 471.0,16.5 472.0,16.5 472.9,16.5 473.8,22.8 474.8,131.1 475.7,207.7 475.7,207.7 474.8,136.8 473.8,34.3 472.9,27.2 472.0,27.2 471.0,27.2 470.1,27.2 469.1,26.1 468.2,24.9 467.3,24.9 466.3,24.9 465.4,24.9 464.5,24.9 463.5,24.1 462.6,19.4 461.7,16.5 460.7,16.5 459.8,16.5 458.8,16.5 457.9,16.5 457.0,16.5 456.0,16.5 455.1,16.5 454.2,16.5 453.2,16.5 452.3,16.5 451.4,16.5 450.4,16.5 449.5,16.5 448.5,16.5 447.6,16.5 446.7,16.5 445.7,16.5 444.8,16.5 443.9,16.5 442.9,16.5 442.0,16.5 441.0,16.5 440.1,16.5 439.2,16.5 438.2,16.5 437.3,16.5 436.4,16.5 435.4,16.5 434.5,16.5 433.6,16.5 432.6,16.5 431.7,16.5 430.7,16.5 429.8,16.5 428.9,16.5 427.9,16.5 427.0,16.5 426.1,16.5 425.1,16.5 424.2,16.5 423.3,16.5 422.3,16.5 421.4,16.5 420.4,16.5 419.5,16.5 418.6,16.5 417.6,16.5 416.7,16.5 415.8,16.5 414.8,16.5 413.9,16.5 413.0,16.5 412.0,16.5 411.1,16.5 410.1,16.5 409.2,16.5 408.3,16.5 407.3,16.5 406.4,16.5 405.5,16.5 404.5,16.5 403.6,16.5 402.7,16.5 401.7,16.5 400.8,16.5 399.8,16.5 398.9,16.5 398.0,16.5 397.0,16.5 396.1,16.5 395.2,16.5 394.2,16.5 393.3,16.5 392.4,16.5 391.4,16.5 390.5,16.5 389.5,16.5 388.6,16.5 387.7,16.5 386.7,16.5 385.8,16.5 384.9,16.5 383.9,16.5 383.0,16.5 382.0,16.5 381.1,16.5 380.2,16.5 379.2,16.5 378.3,16.5 377.4,16.5 376.4,16.5 375.5,16.5 374.6,16.5 373.6,16.5 372.7,16.5 371.7,16.5 370.8,16.5 369.9,16.5 368.9,16.5 368.0,16.5 367.1,16.5 366.1,16.5 365.2,16.5 364.3,16.5 363.3,16.5 362.4,16.5 361.4,16.5 360.5,16.5 359.6,16.5 358.6,16.5 357.7,16.5 356.8,16.5 355.8,16.5 354.9,16.5 354.0,16.5 353.0,16.5 352.1,16.5 351.1,16.5 350.2,16.5 349.3,16.5 348.3,16.5 347.4,16.5 346.5,16.5 345.5,16.5 344.6,16.5 343.7,16.5 342.7,16.5 341.8,16.5 340.8,16.5 339.9,16.5 339.0,16.5 338.0,16.5 337.1,16.5 336.2,16.5 335.2,16.5 334.3,16.5 333.4,16.5 332.4,16.5 331.5,16.5 330.5,16.5 329.6,16.5 328.7,16.5 327.7,16.5 326.8,16.5 325.9,16.5 324.9,16.5 324.0,16.5 323.1,16.5 322.1,16.5 321.2,16.5 320.2,16.5 319.3,16.5 318.4,16.5 317.4,16.5 316.5,16.5 315.6,16.5 314.6,16.5 313.7,16.5 312.7,16.5 311.8,16.5 310.9,16.5 309.9,16.5 309.0,16.5 308.1,16.5 307.1,16.5 306.2,16.5 305.3,16.5 304.3,16.5 303.4,16.5 302.4,16.5 301.5,16.5 300.6,16.5 299.6,16.5 298.7,16.5 297.8,16.5 296.8,16.5 295.9,16.5 295.0,16.5 294.0,16.5 293.1,16.5 292.1,16.5 291.2,16.5 290.3,16.5 289.3,16.5 288.4,16.5" fill="#b40426" fill-opacity="0.200"/>
<polygon points="453.9,17.2 466.4,17.2 466,19 462,20 458,20.3 457.5,22.5 454.6,22.5 453.9,19" fill="#fff" fill-opacity="0.92"/>
<polyline points="398.2,16.5 399.1,23.4 407.0,25.5 412.0,26.2 413.0,28.4 420.1,29.1 423.6,31.8 425.9,40.0 433.2,42.3 440.5,45.2 449.1,45.9 454.3,49.6 458.7,55.5 463.2,59.1 473.8,59.1 475.1,207.7" fill="none" stroke="#3b4cc0" stroke-width="1.50" stroke-opacity="0.75" stroke-linejoin="round"/>
<polyline points="395.2,16.5 396.7,27.8 398.9,36.6 404.0,41.5 410.5,45.9 414.3,51.9 420.1,56.8 428.9,70.0 433.2,74.0 443.5,84.2 447.8,92.2 455.1,100.2 462.4,110.5 468.2,123.5 473.1,136.5 473.8,148.8 475.1,207.7" fill="none" stroke="#7b9ff9" stroke-width="1.50" stroke-opacity="0.75" stroke-linejoin="round"/>
<polyline points="394.2,16.5 396.1,39.4 398.9,52.4 401.7,54.7 413.5,56.8 415.8,66.2 416.3,89.9 419.5,90.9 438.2,93.7 439.7,120.7 442.0,125.5 473.1,148.8 475.1,207.7" fill="none" stroke="#c0d4f5" stroke-width="1.50" stroke-opacity="0.75" stroke-linejoin="round"/>
<polyline points="409.0,17.1 410.5,39.4 416.3,40.6 421.4,45.2 431.7,54.7 436.7,65.2 438.2,73.8 443.5,84.2 447.8,94.3 449.9,104.0 452.3,113.4 453.2,124.1 464.1,143.2 473.6,157.8 475.1,207.7" fill="none" stroke="#f2cbb7" stroke-width="1.50" stroke-opacity="0.75" stroke-linejoin="round"/>
<polyline points="396.1,17.6 397.0,19.2 414.8,19.2 418.6,44.6 421.4,47.5 431.7,47.5 434.5,64.3 442.0,65.2 447.6,67.0 449.1,67.9 457.0,68.5 458.1,68.9 459.2,75.8 460.3,85.3 461.8,90.7 463.5,92.2 473.8,92.2 475.1,207.7" fill="none" stroke="#ee8468" stroke-width="1.50" stroke-opacity="0.75" stroke-linejoin="round"/>
<polyline points="288.4,16.5 462.6,16.5 463.9,19.2 468.6,19.2 469.7,21.5 473.6,21.5 474.0,35.6 475.3,207.7" fill="none" stroke="#b40426" stroke-width="1.50" stroke-opacity="0.75" stroke-linejoin="round"/>
<path d="M279.2 7.0V217.0H485.3" fill="none" stroke="#5a5a5a" stroke-width="1"/><path d="M276.6 207.65H279.2" stroke="#555" stroke-width="0.8"/><path d="M288.40 217.0V219.6" stroke="#555" stroke-width="0.8"/><text x="274.8" y="210.65" font-size="7.6" text-anchor="end" class="t">0.0</text><text x="288.40" y="227.05" font-size="7.6" text-anchor="middle" class="t">0.0</text><path d="M276.6 169.42H279.2" stroke="#555" stroke-width="0.8"/><path d="M325.86 217.0V219.6" stroke="#555" stroke-width="0.8"/><text x="274.8" y="172.42" font-size="7.6" text-anchor="end" class="t">0.2</text><text x="325.86" y="227.05" font-size="7.6" text-anchor="middle" class="t">0.2</text><path d="M276.6 131.19H279.2" stroke="#555" stroke-width="0.8"/><path d="M363.32 217.0V219.6" stroke="#555" stroke-width="0.8"/><text x="274.8" y="134.19" font-size="7.6" text-anchor="end" class="t">0.4</text><text x="363.32" y="227.05" font-size="7.6" text-anchor="middle" class="t">0.4</text><path d="M276.6 92.96H279.2" stroke="#555" stroke-width="0.8"/><path d="M400.78 217.0V219.6" stroke="#555" stroke-width="0.8"/><text x="274.8" y="95.96" font-size="7.6" text-anchor="end" class="t">0.6</text><text x="400.78" y="227.05" font-size="7.6" text-anchor="middle" class="t">0.6</text><path d="M276.6 54.73H279.2" stroke="#555" stroke-width="0.8"/><path d="M438.24 217.0V219.6" stroke="#555" stroke-width="0.8"/><text x="274.8" y="57.73" font-size="7.6" text-anchor="end" class="t">0.8</text><text x="438.24" y="227.05" font-size="7.6" text-anchor="middle" class="t">0.8</text><path d="M276.6 16.50H279.2" stroke="#555" stroke-width="0.8"/><path d="M475.70 217.0V219.6" stroke="#555" stroke-width="0.8"/><text x="274.8" y="19.50" font-size="7.6" text-anchor="end" class="t">1.0</text><text x="475.70" y="227.05" font-size="7.6" text-anchor="middle" class="t">1.0</text><text x="382.0" y="236.7" font-size="7.7" text-anchor="middle" class="t">Recall</text><text transform="translate(258.6 111.7) rotate(-90)" font-size="7.7" text-anchor="middle" class="t">Precision</text>
<text x="359.0" y="148.8" font-size="7.7" text-anchor="middle" class="t">AUC</text><path d="M284.8 157.0H299.3" stroke="#3b4cc0" stroke-width="1.50" stroke-opacity="0.75"/><text x="304.1" y="159.3" font-size="7.8" class="t">Support Vector Machine: 0.94 ± &#160;0.10</text><path d="M284.8 167.0H299.3" stroke="#7b9ff9" stroke-width="1.50" stroke-opacity="0.75"/><text x="304.1" y="169.3" font-size="7.8" class="t">K-Nearest Neighbour: 0.86 ± &#160;0.15</text><path d="M284.8 177.0H299.3" stroke="#c0d4f5" stroke-width="1.50" stroke-opacity="0.75"/><text x="304.1" y="179.3" font-size="7.8" class="t">Random Forest: 0.81 ± &#160;0.22</text><path d="M284.8 187.0H299.3" stroke="#f2cbb7" stroke-width="1.50" stroke-opacity="0.75"/><text x="304.1" y="189.3" font-size="7.8" class="t">LightGBM: 0.86 ± &#160;0.10</text><path d="M284.8 197.0H299.3" stroke="#ee8468" stroke-width="1.50" stroke-opacity="0.75"/><text x="304.1" y="199.3" font-size="7.8" class="t">XGBoost: 0.91 ± &#160;0.07</text><path d="M284.8 207.0H299.3" stroke="#b40426" stroke-width="1.50" stroke-opacity="0.75"/><text x="304.1" y="209.3" font-size="7.8" class="t">BINN: &#160;0.99 ± &#160;0.00</text>
<polygon points="42.2,405.6 43.1,389.8 44.1,374.1 45.0,358.3 45.9,342.6 46.9,335.6 47.8,328.6 48.8,320.0 49.7,310.3 50.6,301.0 51.6,293.7 52.5,288.7 53.4,283.6 54.4,280.5 55.3,278.7 56.3,277.3 57.2,277.7 58.1,278.2 59.1,279.3 60.0,280.7 60.9,282.2 61.9,281.5 62.8,280.9 63.8,279.3 64.7,277.7 65.6,276.2 66.6,274.8 67.5,273.6 68.4,273.6 69.4,273.6 70.3,273.3 71.2,272.8 72.2,272.1 73.1,270.8 74.1,269.6 75.0,269.7 75.9,269.8 76.9,269.4 77.8,268.7 78.7,268.1 79.7,267.9 80.6,267.7 81.6,266.7 82.5,265.6 83.4,264.7 84.4,264.1 85.3,263.5 86.2,263.7 87.2,264.0 88.1,263.5 89.1,262.5 90.0,262.4 90.9,262.4 91.9,262.4 92.8,262.4 93.7,263.2 94.7,263.8 95.6,263.7 96.5,263.6 97.5,263.0 98.4,262.4 99.4,262.4 100.3,262.4 101.2,262.4 102.2,262.4 103.1,262.4 104.0,262.4 105.0,262.4 105.9,262.4 106.9,262.4 107.8,262.4 108.7,262.4 109.7,262.4 110.6,262.4 111.5,262.4 112.5,262.4 113.4,262.4 114.3,262.4 115.3,262.4 116.2,262.4 117.2,262.4 118.1,262.4 119.0,262.4 120.0,262.4 120.9,262.4 121.8,262.4 122.8,262.4 123.7,262.4 124.7,262.4 125.6,262.4 126.5,262.4 127.5,262.4 128.4,262.4 129.3,262.4 130.3,262.4 131.2,262.4 132.2,262.4 133.1,262.4 134.0,262.4 135.0,262.4 135.9,262.4 136.8,262.4 137.8,262.4 138.7,262.4 139.6,262.4 140.6,262.4 141.5,262.4 142.5,262.4 143.4,262.4 144.3,262.4 145.3,262.4 146.2,262.4 147.1,262.4 148.1,262.4 149.0,262.4 150.0,262.4 150.9,262.4 151.8,262.4 152.8,262.4 153.7,262.4 154.6,262.4 155.6,262.4 156.5,262.4 157.5,262.4 158.4,262.4 159.3,262.4 160.3,262.4 161.2,262.4 162.1,262.4 163.1,262.4 164.0,262.4 164.9,262.4 165.9,262.4 166.8,262.4 167.8,262.4 168.7,262.4 169.6,262.4 170.6,262.4 171.5,262.4 172.4,262.4 173.4,262.4 174.3,262.4 175.3,262.4 176.2,262.4 177.1,262.4 178.1,262.4 179.0,262.4 179.9,262.4 180.9,262.4 181.8,262.4 182.8,262.4 183.7,262.4 184.6,262.4 185.6,262.4 186.5,262.4 187.4,262.4 188.4,262.4 189.3,262.4 190.2,262.4 191.2,262.4 192.1,262.4 193.1,262.4 194.0,262.4 194.9,262.4 195.9,262.4 196.8,262.4 197.7,262.4 198.7,262.4 199.6,262.4 200.6,262.4 201.5,262.4 202.4,262.4 203.4,262.4 204.3,262.4 205.2,262.4 206.2,262.4 207.1,262.4 208.0,262.4 209.0,262.4 209.9,262.4 210.9,262.4 211.8,262.4 212.7,262.4 213.7,262.4 214.6,262.4 215.5,262.4 216.5,262.4 217.4,262.4 218.4,262.4 219.3,262.4 220.2,262.4 221.2,262.4 222.1,262.4 223.0,262.4 224.0,262.4 224.9,262.4 225.9,262.4 226.8,262.4 227.7,262.4 228.7,262.4 229.6,262.4 229.6,262.4 228.7,262.4 227.7,262.5 226.8,262.5 225.9,262.5 224.9,262.6 224.0,262.6 223.0,262.6 222.1,262.7 221.2,262.7 220.2,262.7 219.3,262.8 218.4,262.8 217.4,262.8 216.5,262.9 215.5,262.9 214.6,262.9 213.7,263.0 212.7,263.0 211.8,263.0 210.9,263.1 209.9,263.1 209.0,263.1 208.0,263.2 207.1,263.2 206.2,263.2 205.2,263.3 204.3,263.3 203.4,263.3 202.4,263.4 201.5,263.4 200.6,263.4 199.6,263.5 198.7,263.5 197.7,263.5 196.8,263.6 195.9,263.6 194.9,263.6 194.0,263.7 193.1,263.7 192.1,263.7 191.2,263.8 190.2,263.8 189.3,263.8 188.4,263.9 187.4,263.9 186.5,263.9 185.6,264.0 184.6,264.0 183.7,264.0 182.8,264.1 181.8,264.1 180.9,264.1 179.9,264.2 179.0,264.2 178.1,264.2 177.1,264.3 176.2,264.3 175.3,264.3 174.3,264.4 173.4,264.4 172.4,264.5 171.5,264.5 170.6,264.6 169.6,264.6 168.7,264.7 167.8,264.7 166.8,264.8 165.9,264.9 164.9,264.9 164.0,265.0 163.1,265.0 162.1,265.1 161.2,265.1 160.3,265.2 159.3,265.3 158.4,265.3 157.5,265.4 156.5,265.4 155.6,265.5 154.6,265.5 153.7,265.7 152.8,265.8 151.8,265.9 150.9,266.1 150.0,266.2 149.0,266.3 148.1,266.5 147.1,266.6 146.2,266.7 145.3,266.8 144.3,267.0 143.4,267.1 142.5,267.2 141.5,267.4 140.6,267.5 139.6,267.6 138.7,267.7 137.8,267.9 136.8,268.0 135.9,268.1 135.0,268.4 134.0,268.6 133.1,268.8 132.2,269.0 131.2,269.3 130.3,269.5 129.3,269.7 128.4,270.0 127.5,270.2 126.5,270.4 125.6,270.7 124.7,271.2 123.7,271.7 122.8,271.9 121.8,272.2 120.9,272.4 120.0,272.6 119.0,272.8 118.1,272.7 117.2,272.7 116.2,272.8 115.3,273.1 114.3,273.4 113.4,273.9 112.5,274.3 111.5,274.8 110.6,275.2 109.7,275.4 108.7,275.2 107.8,275.0 106.9,275.5 105.9,276.0 105.0,276.3 104.0,276.4 103.1,276.3 102.2,276.0 101.2,275.6 100.3,276.1 99.4,276.8 98.4,277.6 97.5,278.4 96.5,279.3 95.6,279.5 94.7,279.8 93.7,279.5 92.8,278.8 91.9,278.2 90.9,278.5 90.0,278.7 89.1,279.7 88.1,280.9 87.2,281.6 86.2,281.5 85.3,281.4 84.4,282.2 83.4,283.0 82.5,284.1 81.6,285.4 80.6,286.6 79.7,287.0 78.7,287.8 77.8,289.1 76.9,290.5 75.9,291.5 75.0,292.1 74.1,292.7 73.1,294.6 72.2,296.5 71.2,297.9 70.3,299.1 69.4,300.1 68.4,300.7 67.5,301.4 66.6,303.2 65.6,305.3 64.7,307.5 63.8,309.7 62.8,312.0 61.9,313.3 60.9,314.6 60.0,316.6 59.1,318.7 58.1,320.9 57.2,323.9 56.3,327.0 55.3,331.8 54.4,337.0 53.4,343.6 52.5,352.1 51.6,360.5 50.6,369.8 49.7,380.9 48.8,392.5 47.8,403.0 46.9,411.9 45.9,420.8 45.0,438.5 44.1,453.3 43.1,453.3 42.2,453.3" fill="#3b4cc0" fill-opacity="0.100"/>
<polygon points="42.2,438.0 43.1,424.9 44.1,411.7 45.0,398.5 45.9,385.3 46.9,372.2 47.8,363.8 48.8,355.4 49.7,347.0 50.6,338.6 51.6,330.2 52.5,321.8 53.4,315.1 54.4,311.1 55.3,307.2 56.3,303.3 57.2,301.6 58.1,300.0 59.1,298.3 60.0,296.2 60.9,294.1 61.9,291.9 62.8,289.6 63.8,287.3 64.7,285.0 65.6,284.5 66.6,283.9 67.5,283.3 68.4,282.7 69.4,282.1 70.3,281.5 71.2,281.0 72.2,280.6 73.1,280.1 74.1,279.4 75.0,278.6 75.9,277.8 76.9,277.4 77.8,277.0 78.7,276.7 79.7,276.4 80.6,276.0 81.6,275.6 82.5,275.4 83.4,275.3 84.4,275.1 85.3,274.5 86.2,274.0 87.2,273.5 88.1,273.1 89.1,272.8 90.0,272.5 90.9,272.1 91.9,271.6 92.8,271.2 93.7,270.8 94.7,270.4 95.6,270.0 96.5,269.8 97.5,269.6 98.4,269.3 99.4,269.3 100.3,269.2 101.2,269.2 102.2,269.0 103.1,268.8 104.0,268.6 105.0,268.4 105.9,268.2 106.9,268.0 107.8,267.9 108.7,267.8 109.7,267.6 110.6,267.5 111.5,267.3 112.5,267.2 113.4,266.8 114.3,266.4 115.3,266.1 116.2,266.0 117.2,265.9 118.1,265.9 119.0,265.7 120.0,265.5 120.9,265.3 121.8,264.9 122.8,264.5 123.7,264.1 124.7,264.0 125.6,263.9 126.5,263.8 127.5,263.7 128.4,263.7 129.3,263.6 130.3,263.5 131.2,263.4 132.2,263.3 133.1,263.2 134.0,263.1 135.0,263.0 135.9,262.9 136.8,262.9 137.8,262.9 138.7,262.9 139.6,262.9 140.6,262.9 141.5,262.9 142.5,262.9 143.4,262.9 144.3,262.9 145.3,262.9 146.2,262.9 147.1,262.9 148.1,262.9 149.0,262.9 150.0,262.9 150.9,262.9 151.8,262.9 152.8,262.9 153.7,262.9 154.6,262.9 155.6,262.8 156.5,262.8 157.5,262.7 158.4,262.7 159.3,262.6 160.3,262.6 161.2,262.5 162.1,262.5 163.1,262.4 164.0,262.4 164.9,262.4 165.9,262.4 166.8,262.4 167.8,262.4 168.7,262.4 169.6,262.4 170.6,262.4 171.5,262.4 172.4,262.4 173.4,262.4 174.3,262.4 175.3,262.4 176.2,262.4 177.1,262.4 178.1,262.4 179.0,262.4 179.9,262.4 180.9,262.4 181.8,262.4 182.8,262.4 183.7,262.4 184.6,262.4 185.6,262.4 186.5,262.4 187.4,262.4 188.4,262.4 189.3,262.4 190.2,262.4 191.2,262.4 192.1,262.4 193.1,262.4 194.0,262.4 194.9,262.4 195.9,262.4 196.8,262.4 197.7,262.4 198.7,262.4 199.6,262.4 200.6,262.4 201.5,262.4 202.4,262.4 203.4,262.4 204.3,262.4 205.2,262.4 206.2,262.4 207.1,262.4 208.0,262.4 209.0,262.4 209.9,262.4 210.9,262.4 211.8,262.4 212.7,262.4 213.7,262.4 214.6,262.4 215.5,262.4 216.5,262.4 217.4,262.4 218.4,262.4 219.3,262.4 220.2,262.4 221.2,262.4 222.1,262.4 223.0,262.4 224.0,262.4 224.9,262.4 225.9,262.4 226.8,262.4 227.7,262.4 228.7,262.4 229.6,262.4 229.6,262.4 228.7,262.5 227.7,262.5 226.8,262.6 225.9,262.7 224.9,262.7 224.0,262.8 223.0,262.8 222.1,262.9 221.2,263.0 220.2,263.0 219.3,263.1 218.4,263.2 217.4,263.2 216.5,263.3 215.5,263.4 214.6,263.4 213.7,263.5 212.7,263.5 211.8,263.6 210.9,263.7 209.9,263.7 209.0,263.8 208.0,263.9 207.1,263.9 206.2,264.0 205.2,264.1 204.3,264.1 203.4,264.2 202.4,264.2 201.5,264.3 200.6,264.4 199.6,264.4 198.7,264.5 197.7,264.6 196.8,264.6 195.9,264.7 194.9,264.8 194.0,264.8 193.1,264.9 192.1,264.9 191.2,265.0 190.2,265.1 189.3,265.1 188.4,265.2 187.4,265.3 186.5,265.3 185.6,265.4 184.6,265.5 183.7,265.5 182.8,265.6 181.8,265.6 180.9,265.7 179.9,265.8 179.0,265.8 178.1,265.9 177.1,266.0 176.2,266.0 175.3,266.1 174.3,266.2 173.4,266.2 172.4,266.3 171.5,266.5 170.6,266.6 169.6,266.7 168.7,266.8 167.8,266.9 166.8,267.1 165.9,267.2 164.9,267.3 164.0,267.4 163.1,267.5 162.1,267.6 161.2,267.8 160.3,267.9 159.3,268.0 158.4,268.1 157.5,268.2 156.5,268.4 155.6,268.5 154.6,268.6 153.7,268.8 152.8,268.9 151.8,269.1 150.9,269.3 150.0,269.4 149.0,269.6 148.1,269.8 147.1,269.9 146.2,270.1 145.3,270.3 144.3,270.4 143.4,270.6 142.5,270.8 141.5,270.9 140.6,271.1 139.6,271.3 138.7,271.4 137.8,271.6 136.8,271.8 135.9,271.9 135.0,272.2 134.0,272.5 133.1,272.7 132.2,273.0 131.2,273.3 130.3,273.5 129.3,273.8 128.4,274.1 127.5,274.3 126.5,274.6 125.6,274.8 124.7,275.1 123.7,275.4 122.8,275.9 121.8,276.5 120.9,277.1 120.0,277.4 119.0,277.8 118.1,278.1 117.2,278.3 116.2,278.6 115.3,278.8 114.3,279.3 113.4,279.9 112.5,280.4 111.5,280.7 110.6,281.1 109.7,281.4 108.7,281.7 107.8,282.0 106.9,282.3 105.9,282.6 105.0,283.0 104.0,283.3 103.1,283.7 102.2,284.0 101.2,284.4 100.3,284.6 99.4,284.9 98.4,285.1 97.5,285.5 96.5,285.9 95.6,286.3 94.7,286.8 93.7,287.4 92.8,288.0 91.9,288.6 90.9,289.2 90.0,289.8 89.1,290.2 88.1,290.7 87.2,291.2 86.2,291.9 85.3,292.6 84.4,293.3 83.4,293.7 82.5,294.0 81.6,294.4 80.6,294.9 79.7,295.5 78.7,296.1 77.8,296.9 76.9,297.6 75.9,298.4 75.0,299.6 74.1,300.7 73.1,301.9 72.2,302.7 71.2,303.6 70.3,304.4 69.4,305.4 68.4,306.4 67.5,307.3 66.6,308.3 65.6,309.3 64.7,310.2 63.8,312.9 62.8,315.6 61.9,318.3 60.9,320.8 60.0,323.3 59.1,325.8 58.1,327.8 57.2,329.9 56.3,331.9 55.3,336.2 54.4,340.5 53.4,344.8 52.5,351.9 51.6,360.7 50.6,369.5 49.7,378.3 48.8,387.1 47.8,395.8 46.9,404.6 45.9,418.2 45.0,431.7 44.1,445.3 43.1,453.3 42.2,453.3" fill="#7b9ff9" fill-opacity="0.100"/>
<polygon points="42.2,434.2 43.1,423.3 44.1,412.4 45.0,401.5 45.9,390.6 46.9,379.7 47.8,368.8 48.8,362.2 49.7,355.7 50.6,349.1 51.6,342.5 52.5,335.9 53.4,329.4 54.4,322.8 55.3,318.6 56.3,314.3 57.2,310.1 58.1,305.9 59.1,303.8 60.0,302.2 60.9,300.7 61.9,299.1 62.8,297.5 63.8,296.0 64.7,294.4 65.6,292.8 66.6,291.3 67.5,289.7 68.4,288.1 69.4,286.6 70.3,285.0 71.2,284.3 72.2,283.9 73.1,283.4 74.1,283.0 75.0,282.6 75.9,282.1 76.9,281.7 77.8,281.2 78.7,280.8 79.7,280.3 80.6,279.8 81.6,279.2 82.5,278.6 83.4,278.0 84.4,277.4 85.3,276.8 86.2,276.2 87.2,275.7 88.1,275.1 89.1,274.5 90.0,274.3 90.9,274.0 91.9,273.7 92.8,273.4 93.7,273.1 94.7,272.8 95.6,272.5 96.5,272.3 97.5,272.0 98.4,271.7 99.4,271.4 100.3,271.1 101.2,270.8 102.2,270.6 103.1,270.3 104.0,270.0 105.0,269.7 105.9,269.4 106.9,269.1 107.8,268.8 108.7,268.6 109.7,268.3 110.6,268.1 111.5,267.9 112.5,267.8 113.4,267.7 114.3,267.5 115.3,267.4 116.2,267.2 117.2,267.1 118.1,267.0 119.0,266.8 120.0,266.7 120.9,266.5 121.8,266.4 122.8,266.3 123.7,266.1 124.7,266.0 125.6,265.8 126.5,265.7 127.5,265.6 128.4,265.4 129.3,265.3 130.3,265.1 131.2,265.0 132.2,264.9 133.1,264.7 134.0,264.6 135.0,264.4 135.9,264.3 136.8,264.3 137.8,264.3 138.7,264.3 139.6,264.3 140.6,264.3 141.5,264.3 142.5,264.2 143.4,264.2 144.3,264.2 145.3,264.2 146.2,264.2 147.1,264.2 148.1,264.2 149.0,264.2 150.0,264.2 150.9,264.2 151.8,264.1 152.8,264.1 153.7,264.1 154.6,264.1 155.6,264.0 156.5,264.0 157.5,263.9 158.4,263.8 159.3,263.7 160.3,263.6 161.2,263.6 162.1,263.5 163.1,263.4 164.0,263.3 164.9,263.2 165.9,263.1 166.8,263.1 167.8,263.0 168.7,262.9 169.6,262.8 170.6,262.7 171.5,262.7 172.4,262.6 173.4,262.5 174.3,262.5 175.3,262.5 176.2,262.5 177.1,262.5 178.1,262.5 179.0,262.5 179.9,262.5 180.9,262.5 181.8,262.5 182.8,262.5 183.7,262.5 184.6,262.5 185.6,262.5 186.5,262.5 187.4,262.5 188.4,262.5 189.3,262.5 190.2,262.5 191.2,262.5 192.1,262.5 193.1,262.5 194.0,262.5 194.9,262.5 195.9,262.5 196.8,262.5 197.7,262.5 198.7,262.5 199.6,262.5 200.6,262.4 201.5,262.4 202.4,262.4 203.4,262.4 204.3,262.4 205.2,262.4 206.2,262.4 207.1,262.4 208.0,262.4 209.0,262.4 209.9,262.4 210.9,262.4 211.8,262.4 212.7,262.4 213.7,262.4 214.6,262.4 215.5,262.4 216.5,262.4 217.4,262.4 218.4,262.4 219.3,262.4 220.2,262.4 221.2,262.4 222.1,262.4 223.0,262.4 224.0,262.4 224.9,262.4 225.9,262.4 226.8,262.4 227.7,262.4 228.7,262.4 229.6,262.4 229.6,262.4 228.7,262.5 227.7,262.5 226.8,262.6 225.9,262.7 224.9,262.8 224.0,262.8 223.0,262.9 222.1,263.0 221.2,263.1 220.2,263.1 219.3,263.2 218.4,263.3 217.4,263.4 216.5,263.4 215.5,263.5 214.6,263.6 213.7,263.6 212.7,263.7 211.8,263.8 210.9,263.9 209.9,263.9 209.0,264.0 208.0,264.1 207.1,264.2 206.2,264.2 205.2,264.3 204.3,264.4 203.4,264.4 202.4,264.5 201.5,264.6 200.6,264.7 199.6,264.7 198.7,264.8 197.7,264.9 196.8,265.0 195.9,265.0 194.9,265.1 194.0,265.2 193.1,265.3 192.1,265.3 191.2,265.4 190.2,265.5 189.3,265.5 188.4,265.6 187.4,265.7 186.5,265.8 185.6,265.8 184.6,265.9 183.7,266.0 182.8,266.1 181.8,266.1 180.9,266.2 179.9,266.3 179.0,266.4 178.1,266.4 177.1,266.5 176.2,266.6 175.3,266.6 174.3,266.7 173.4,266.8 172.4,266.9 171.5,267.1 170.6,267.2 169.6,267.4 168.7,267.6 167.8,267.7 166.8,267.9 165.9,268.0 164.9,268.2 164.0,268.3 163.1,268.5 162.1,268.6 161.2,268.8 160.3,268.9 159.3,269.1 158.4,269.2 157.5,269.4 156.5,269.5 155.6,269.7 154.6,269.8 153.7,270.1 152.8,270.3 151.8,270.5 150.9,270.7 150.0,271.0 149.0,271.2 148.1,271.4 147.1,271.6 146.2,271.9 145.3,272.1 144.3,272.3 143.4,272.5 142.5,272.8 141.5,273.0 140.6,273.2 139.6,273.4 138.7,273.7 137.8,273.9 136.8,274.1 135.9,274.3 135.0,274.7 134.0,275.0 133.1,275.4 132.2,275.7 131.2,276.1 130.3,276.5 129.3,276.8 128.4,277.2 127.5,277.5 126.5,277.9 125.6,278.2 124.7,278.6 123.7,278.9 122.8,279.3 121.8,279.6 120.9,280.0 120.0,280.4 119.0,280.7 118.1,281.1 117.2,281.4 116.2,281.8 115.3,282.1 114.3,282.5 113.4,282.8 112.5,283.2 111.5,283.5 110.6,283.9 109.7,284.3 108.7,284.8 107.8,285.3 106.9,285.8 105.9,286.3 105.0,286.8 104.0,287.3 103.1,287.8 102.2,288.3 101.2,288.8 100.3,289.3 99.4,289.8 98.4,290.3 97.5,290.8 96.5,291.3 95.6,291.8 94.7,292.3 93.7,292.8 92.8,293.3 91.9,293.8 90.9,294.3 90.0,294.8 89.1,295.3 88.1,296.0 87.2,296.8 86.2,297.6 85.3,298.4 84.4,299.2 83.4,300.0 82.5,300.8 81.6,301.7 80.6,302.5 79.7,303.3 78.7,304.2 77.8,305.1 76.9,306.0 75.9,306.9 75.0,307.9 74.1,308.8 73.1,309.7 72.2,310.6 71.2,311.5 70.3,312.7 69.4,314.7 68.4,316.8 67.5,318.8 66.6,320.9 65.6,322.9 64.7,325.0 63.8,327.0 62.8,329.0 61.9,331.1 60.9,333.1 60.0,335.2 59.1,337.2 58.1,339.8 57.2,344.5 56.3,349.2 55.3,353.9 54.4,358.6 53.4,365.6 52.5,372.7 51.6,379.7 50.6,386.8 49.7,393.8 48.8,400.9 47.8,408.0 46.9,419.3 45.9,430.7 45.0,442.1 44.1,453.3 43.1,453.3 42.2,453.3" fill="#c0d4f5" fill-opacity="0.120"/>
<polygon points="42.2,430.4 43.1,417.7 44.1,405.0 45.0,394.3 45.9,391.3 46.9,388.4 47.8,385.4 48.8,382.5 49.7,379.5 50.6,376.6 51.6,373.7 52.5,370.7 53.4,367.8 54.4,364.5 55.3,361.2 56.3,357.9 57.2,354.7 58.1,351.4 59.1,348.1 60.0,344.8 60.9,341.6 61.9,338.8 62.8,336.2 63.8,333.6 64.7,331.0 65.6,328.2 66.6,325.4 67.5,322.5 68.4,319.7 69.4,317.1 70.3,314.5 71.2,312.0 72.2,309.4 73.1,307.0 74.1,304.6 75.0,302.3 75.9,299.9 76.9,297.9 77.8,295.8 78.7,293.8 79.7,291.8 80.6,290.6 81.6,289.5 82.5,288.3 83.4,287.2 84.4,286.0 85.3,284.9 86.2,283.8 87.2,282.7 88.1,281.6 89.1,280.5 90.0,279.4 90.9,278.3 91.9,277.9 92.8,277.4 93.7,276.9 94.7,276.4 95.6,275.9 96.5,275.3 97.5,274.8 98.4,274.3 99.4,273.5 100.3,272.8 101.2,272.0 102.2,271.3 103.1,271.2 104.0,271.1 105.0,271.0 105.9,270.9 106.9,270.5 107.8,270.1 108.7,269.7 109.7,269.2 110.6,269.2 111.5,269.1 112.5,269.1 113.4,269.0 114.3,268.8 115.3,268.6 116.2,268.4 117.2,268.2 118.1,268.3 119.0,268.3 120.0,268.4 120.9,268.4 121.8,268.1 122.8,267.8 123.7,267.4 124.7,267.1 125.6,267.0 126.5,266.8 127.5,266.6 128.4,266.5 129.3,266.6 130.3,266.6 131.2,266.7 132.2,266.8 133.1,266.7 134.0,266.6 135.0,266.4 135.9,266.3 136.8,266.3 137.8,266.3 138.7,266.3 139.6,266.3 140.6,266.5 141.5,266.7 142.5,267.0 143.4,267.2 144.3,266.9 145.3,266.7 146.2,266.4 147.1,266.2 148.1,266.2 149.0,266.3 150.0,266.4 150.9,266.4 151.8,266.5 152.8,266.5 153.7,266.5 154.6,266.5 155.6,266.5 156.5,266.4 157.5,266.3 158.4,266.2 159.3,266.2 160.3,266.1 161.2,266.0 162.1,266.0 163.1,265.9 164.0,265.9 164.9,265.8 165.9,265.8 166.8,265.7 167.8,265.7 168.7,265.6 169.6,265.6 170.6,265.5 171.5,265.4 172.4,265.4 173.4,265.3 174.3,265.3 175.3,265.2 176.2,265.2 177.1,265.1 178.1,265.1 179.0,265.0 179.9,265.0 180.9,264.9 181.8,264.8 182.8,264.8 183.7,264.7 184.6,264.7 185.6,264.6 186.5,264.5 187.4,264.5 188.4,264.4 189.3,264.3 190.2,264.3 191.2,264.2 192.1,264.1 193.1,264.1 194.0,264.0 194.9,263.9 195.9,263.9 196.8,263.8 197.7,263.7 198.7,263.7 199.6,263.6 200.6,263.5 201.5,263.4 202.4,263.4 203.4,263.3 204.3,263.2 205.2,263.2 206.2,263.1 207.1,263.0 208.0,263.0 209.0,262.9 209.9,262.8 210.9,262.8 211.8,262.8 212.7,262.7 213.7,262.7 214.6,262.7 215.5,262.7 216.5,262.7 217.4,262.6 218.4,262.6 219.3,262.6 220.2,262.6 221.2,262.6 222.1,262.6 223.0,262.5 224.0,262.5 224.9,262.5 225.9,262.5 226.8,262.5 227.7,262.4 228.7,262.4 229.6,262.4 229.6,262.4 228.7,262.5 227.7,262.7 226.8,262.8 225.9,263.0 224.9,263.1 224.0,263.2 223.0,263.4 222.1,263.5 221.2,263.6 220.2,263.8 219.3,263.9 218.4,264.1 217.4,264.2 216.5,264.3 215.5,264.5 214.6,264.6 213.7,264.8 212.7,264.9 211.8,265.0 210.9,265.2 209.9,265.4 209.0,265.5 208.0,265.7 207.1,265.9 206.2,266.1 205.2,266.3 204.3,266.5 203.4,266.7 202.4,266.8 201.5,267.0 200.6,267.2 199.6,267.4 198.7,267.6 197.7,267.8 196.8,268.0 195.9,268.1 194.9,268.3 194.0,268.5 193.1,268.7 192.1,268.9 191.2,269.1 190.2,269.3 189.3,269.4 188.4,269.6 187.4,269.8 186.5,270.0 185.6,270.2 184.6,270.4 183.7,270.6 182.8,270.8 181.8,270.9 180.9,271.1 179.9,271.3 179.0,271.4 178.1,271.6 177.1,271.8 176.2,272.0 175.3,272.1 174.3,272.3 173.4,272.5 172.4,272.7 171.5,272.8 170.6,273.0 169.6,273.2 168.7,273.4 167.8,273.5 166.8,273.7 165.9,273.9 164.9,274.1 164.0,274.2 163.1,274.4 162.1,274.6 161.2,274.8 160.3,274.9 159.3,275.1 158.4,275.3 157.5,275.5 156.5,275.7 155.6,275.9 154.6,276.1 153.7,276.4 152.8,276.8 151.8,277.1 150.9,277.4 150.0,277.7 149.0,278.0 148.1,278.3 147.1,278.6 146.2,279.2 145.3,279.8 144.3,280.4 143.4,281.0 142.5,281.2 141.5,281.3 140.6,281.4 139.6,281.5 138.7,281.9 137.8,282.3 136.8,282.7 135.9,283.0 135.0,283.5 134.0,284.0 133.1,284.5 132.2,285.0 131.2,285.2 130.3,285.5 129.3,285.8 128.4,286.0 127.5,286.6 126.5,287.1 125.6,287.6 124.7,288.1 123.7,288.8 122.8,289.5 121.8,290.2 120.9,290.8 120.0,291.1 119.0,291.5 118.1,291.8 117.2,292.1 116.2,292.6 115.3,293.2 114.3,293.8 113.4,294.3 112.5,294.7 111.5,295.1 110.6,295.6 109.7,296.0 108.7,296.8 107.8,297.5 106.9,298.3 105.9,299.1 105.0,299.5 104.0,300.0 103.1,300.4 102.2,300.8 101.2,302.0 100.3,303.1 99.4,304.2 98.4,305.3 97.5,306.2 96.5,307.1 95.6,308.0 94.7,308.9 93.7,309.7 92.8,310.5 91.9,311.4 90.9,312.2 90.0,313.7 89.1,315.1 88.1,316.5 87.2,318.0 86.2,319.5 85.3,320.9 84.4,322.4 83.4,323.9 82.5,325.4 81.6,326.9 80.6,328.5 79.7,330.0 78.7,332.3 77.8,334.7 76.9,337.0 75.9,339.4 75.0,342.1 74.1,344.8 73.1,347.5 72.2,350.3 71.2,353.2 70.3,356.1 69.4,359.0 68.4,361.9 67.5,365.0 66.6,368.2 65.6,371.4 64.7,374.5 63.8,377.5 62.8,380.4 61.9,383.3 60.9,386.4 60.0,390.0 59.1,393.6 58.1,397.3 57.2,400.9 56.3,404.5 55.3,408.1 54.4,411.7 53.4,415.3 52.5,418.6 51.6,421.9 50.6,425.1 49.7,428.4 48.8,431.7 47.8,435.0 46.9,438.2 45.9,441.5 45.0,444.8 44.1,453.3 43.1,453.3 42.2,453.3" fill="#f2cbb7" fill-opacity="0.100"/>
<polygon points="42.2,438.0 43.1,418.6 44.1,399.1 45.0,379.7 45.9,363.4 46.9,348.0 47.8,332.6 48.8,323.9 49.7,315.2 50.6,306.5 51.6,302.9 52.5,299.2 53.4,295.5 54.4,292.8 55.3,290.7 56.3,288.6 57.2,287.0 58.1,285.4 59.1,284.5 60.0,283.8 60.9,283.0 61.9,281.9 62.8,280.8 63.8,279.6 64.7,278.3 65.6,277.5 66.6,277.0 67.5,276.6 68.4,276.6 69.4,276.7 70.3,277.1 71.2,277.6 72.2,277.8 73.1,277.5 74.1,277.2 75.0,277.5 75.9,277.7 76.9,277.9 77.8,278.0 78.7,278.0 79.7,277.5 80.6,276.9 81.6,276.0 82.5,275.0 83.4,273.8 84.4,272.2 85.3,270.7 86.2,270.2 87.2,269.7 88.1,269.4 89.1,269.2 90.0,269.0 90.9,268.8 91.9,268.6 92.8,268.8 93.7,269.2 94.7,269.3 95.6,269.0 96.5,268.7 97.5,268.2 98.4,267.7 99.4,267.4 100.3,267.1 101.2,266.8 102.2,266.5 103.1,266.2 104.0,266.0 105.0,265.8 105.9,265.9 106.9,266.5 107.8,267.0 108.7,266.4 109.7,265.7 110.6,265.3 111.5,265.1 112.5,265.0 113.4,265.0 114.3,265.1 115.3,265.2 116.2,265.4 117.2,265.4 118.1,265.0 119.0,264.6 120.0,264.8 120.9,265.1 121.8,264.6 122.8,263.7 123.7,263.0 124.7,262.9 125.6,262.9 126.5,262.8 127.5,262.8 128.4,262.7 129.3,262.7 130.3,262.6 131.2,262.6 132.2,262.6 133.1,262.5 134.0,262.5 135.0,262.4 135.9,262.4 136.8,262.4 137.8,262.4 138.7,262.4 139.6,262.4 140.6,262.4 141.5,262.4 142.5,262.4 143.4,262.4 144.3,262.4 145.3,262.4 146.2,262.4 147.1,262.4 148.1,262.4 149.0,262.4 150.0,262.4 150.9,262.4 151.8,262.4 152.8,262.4 153.7,262.4 154.6,262.4 155.6,262.4 156.5,262.4 157.5,262.4 158.4,262.4 159.3,262.4 160.3,262.4 161.2,262.4 162.1,262.4 163.1,262.4 164.0,262.4 164.9,262.4 165.9,262.4 166.8,262.4 167.8,262.4 168.7,262.4 169.6,262.4 170.6,262.4 171.5,262.4 172.4,262.4 173.4,262.4 174.3,262.4 175.3,262.4 176.2,262.4 177.1,262.4 178.1,262.4 179.0,262.4 179.9,262.4 180.9,262.4 181.8,262.4 182.8,262.4 183.7,262.4 184.6,262.4 185.6,262.4 186.5,262.4 187.4,262.4 188.4,262.4 189.3,262.4 190.2,262.4 191.2,262.4 192.1,262.4 193.1,262.4 194.0,262.4 194.9,262.4 195.9,262.4 196.8,262.4 197.7,262.4 198.7,262.4 199.6,262.4 200.6,262.4 201.5,262.4 202.4,262.4 203.4,262.4 204.3,262.4 205.2,262.4 206.2,262.4 207.1,262.4 208.0,262.4 209.0,262.4 209.9,262.4 210.9,262.4 211.8,262.4 212.7,262.4 213.7,262.4 214.6,262.4 215.5,262.4 216.5,262.4 217.4,262.4 218.4,262.4 219.3,262.4 220.2,262.4 221.2,262.4 222.1,262.4 223.0,262.4 224.0,262.4 224.9,262.4 225.9,262.4 226.8,262.4 227.7,262.4 228.7,262.4 229.6,262.4 229.6,262.4 228.7,262.4 227.7,262.5 226.8,262.5 225.9,262.5 224.9,262.6 224.0,262.6 223.0,262.7 222.1,262.7 221.2,262.7 220.2,262.8 219.3,262.8 218.4,262.8 217.4,262.9 216.5,262.9 215.5,262.9 214.6,263.0 213.7,263.0 212.7,263.1 211.8,263.1 210.9,263.1 209.9,263.2 209.0,263.2 208.0,263.2 207.1,263.3 206.2,263.3 205.2,263.4 204.3,263.4 203.4,263.4 202.4,263.5 201.5,263.5 200.6,263.5 199.6,263.6 198.7,263.6 197.7,263.6 196.8,263.7 195.9,263.7 194.9,263.8 194.0,263.8 193.1,263.8 192.1,263.9 191.2,263.9 190.2,263.9 189.3,264.0 188.4,264.0 187.4,264.0 186.5,264.1 185.6,264.1 184.6,264.2 183.7,264.2 182.8,264.2 181.8,264.3 180.9,264.3 179.9,264.3 179.0,264.4 178.1,264.4 177.1,264.4 176.2,264.5 175.3,264.5 174.3,264.6 173.4,264.6 172.4,264.7 171.5,264.7 170.6,264.8 169.6,264.9 168.7,265.0 167.8,265.1 166.8,265.1 165.9,265.2 164.9,265.3 164.0,265.4 163.1,265.4 162.1,265.5 161.2,265.6 160.3,265.7 159.3,265.7 158.4,265.8 157.5,265.9 156.5,266.0 155.6,266.0 154.6,266.1 153.7,266.2 152.8,266.4 151.8,266.5 150.9,266.6 150.0,266.7 149.0,266.9 148.1,267.0 147.1,267.1 146.2,267.2 145.3,267.4 144.3,267.5 143.4,267.6 142.5,267.7 141.5,267.9 140.6,268.0 139.6,268.1 138.7,268.2 137.8,268.4 136.8,268.5 135.9,268.6 135.0,268.8 134.0,268.9 133.1,269.1 132.2,269.2 131.2,269.4 130.3,269.6 129.3,269.7 128.4,269.9 127.5,270.0 126.5,270.2 125.6,270.4 124.7,270.5 123.7,270.7 122.8,271.6 121.8,272.6 120.9,273.2 120.0,273.1 119.0,272.9 118.1,273.5 117.2,274.0 116.2,274.1 115.3,274.1 114.3,274.0 113.4,274.1 112.5,274.2 111.5,274.4 110.6,274.7 109.7,275.2 108.7,276.0 107.8,276.8 106.9,276.4 105.9,275.9 105.0,275.9 104.0,276.2 103.1,276.6 102.2,277.0 101.2,277.4 100.3,277.8 99.4,278.2 98.4,278.7 97.5,279.3 96.5,279.9 95.6,280.3 94.7,280.7 93.7,280.8 92.8,280.5 91.9,280.4 90.9,280.7 90.0,281.1 89.1,281.4 88.1,281.7 87.2,282.1 86.2,282.7 85.3,283.3 84.4,285.0 83.4,286.7 82.5,288.0 81.6,289.1 80.6,290.1 79.7,290.9 78.7,291.8 77.8,292.2 76.9,292.6 75.9,292.8 75.0,293.0 74.1,293.2 73.1,293.9 72.2,294.6 71.2,294.9 70.3,294.8 69.4,294.8 68.4,295.2 67.5,295.6 66.6,296.4 65.6,297.3 64.7,298.6 63.8,300.3 62.8,301.9 61.9,303.4 60.9,305.0 60.0,306.2 59.1,307.3 58.1,308.6 57.2,310.7 56.3,312.7 55.3,315.2 54.4,317.7 53.4,320.9 52.5,325.1 51.6,329.2 50.6,333.2 49.7,342.3 48.8,351.4 47.8,360.5 46.9,376.4 45.9,392.3 45.0,408.9 44.1,428.8 43.1,448.7 42.2,453.3" fill="#ee8468" fill-opacity="0.080"/>
<polygon points="42.2,434.2 43.1,412.9 44.1,391.6 45.0,371.1 45.9,353.7 46.9,336.2 47.8,324.4 48.8,314.0 49.7,308.3 50.6,305.6 51.6,301.3 52.5,296.5 53.4,291.7 54.4,287.9 55.3,284.6 56.3,281.7 57.2,280.4 58.1,279.0 59.1,278.2 60.0,277.6 60.9,277.0 61.9,276.2 62.8,275.4 63.8,275.7 64.7,276.0 65.6,275.3 66.6,274.0 67.5,272.7 68.4,271.3 69.4,270.0 70.3,269.7 71.2,269.6 72.2,269.4 73.1,268.7 74.1,268.0 75.0,268.6 75.9,269.1 76.9,268.9 77.8,268.2 78.7,267.7 79.7,267.7 80.6,267.5 81.6,266.9 82.5,266.2 83.4,265.6 84.4,265.1 85.3,264.7 86.2,265.1 87.2,265.4 88.1,265.3 89.1,264.9 90.0,264.5 90.9,264.3 91.9,264.0 92.8,263.3 93.7,262.4 94.7,262.4 95.6,262.4 96.5,262.4 97.5,262.7 98.4,263.3 99.4,263.1 100.3,262.4 101.2,262.4 102.2,262.5 103.1,263.2 104.0,262.9 105.0,262.4 105.9,262.4 106.9,262.7 107.8,263.2 108.7,263.3 109.7,263.3 110.6,262.7 111.5,262.4 112.5,262.4 113.4,262.4 114.3,262.4 115.3,262.4 116.2,262.4 117.2,262.4 118.1,262.4 119.0,262.4 120.0,262.4 120.9,262.4 121.8,262.4 122.8,262.4 123.7,262.4 124.7,262.4 125.6,262.4 126.5,262.4 127.5,262.4 128.4,262.4 129.3,262.4 130.3,262.4 131.2,262.4 132.2,262.4 133.1,262.4 134.0,262.4 135.0,262.4 135.9,262.4 136.8,262.4 137.8,262.4 138.7,262.4 139.6,262.4 140.6,262.4 141.5,262.4 142.5,262.4 143.4,262.4 144.3,262.4 145.3,262.4 146.2,262.4 147.1,262.4 148.1,262.4 149.0,262.4 150.0,262.4 150.9,262.4 151.8,262.4 152.8,262.4 153.7,262.4 154.6,262.4 155.6,262.4 156.5,262.4 157.5,262.4 158.4,262.4 159.3,262.4 160.3,262.4 161.2,262.4 162.1,262.4 163.1,262.4 164.0,262.4 164.9,262.4 165.9,262.4 166.8,262.4 167.8,262.4 168.7,262.4 169.6,262.4 170.6,262.4 171.5,262.4 172.4,262.4 173.4,262.4 174.3,262.4 175.3,262.4 176.2,262.4 177.1,262.4 178.1,262.4 179.0,262.4 179.9,262.4 180.9,262.4 181.8,262.4 182.8,262.4 183.7,262.4 184.6,262.4 185.6,262.4 186.5,262.4 187.4,262.4 188.4,262.4 189.3,262.4 190.2,262.4 191.2,262.4 192.1,262.4 193.1,262.4 194.0,262.4 194.9,262.4 195.9,262.4 196.8,262.4 197.7,262.4 198.7,262.4 199.6,262.4 200.6,262.4 201.5,262.4 202.4,262.4 203.4,262.4 204.3,262.4 205.2,262.4 206.2,262.4 207.1,262.4 208.0,262.4 209.0,262.4 209.9,262.4 210.9,262.4 211.8,262.4 212.7,262.4 213.7,262.4 214.6,262.4 215.5,262.4 216.5,262.4 217.4,262.4 218.4,262.4 219.3,262.4 220.2,262.4 221.2,262.4 222.1,262.4 223.0,262.4 224.0,262.4 224.9,262.4 225.9,262.4 226.8,262.4 227.7,262.4 228.7,262.4 229.6,262.4 229.6,262.4 228.7,262.4 227.7,262.5 226.8,262.5 225.9,262.5 224.9,262.6 224.0,262.6 223.0,262.6 222.1,262.6 221.2,262.7 220.2,262.7 219.3,262.7 218.4,262.8 217.4,262.8 216.5,262.8 215.5,262.9 214.6,262.9 213.7,262.9 212.7,262.9 211.8,263.0 210.9,263.0 209.9,263.0 209.0,263.1 208.0,263.1 207.1,263.1 206.2,263.2 205.2,263.2 204.3,263.2 203.4,263.2 202.4,263.3 201.5,263.3 200.6,263.3 199.6,263.4 198.7,263.4 197.7,263.4 196.8,263.5 195.9,263.5 194.9,263.5 194.0,263.5 193.1,263.6 192.1,263.6 191.2,263.6 190.2,263.7 189.3,263.7 188.4,263.7 187.4,263.8 186.5,263.8 185.6,263.8 184.6,263.9 183.7,263.9 182.8,263.9 181.8,263.9 180.9,264.0 179.9,264.0 179.0,264.0 178.1,264.1 177.1,264.1 176.2,264.1 175.3,264.2 174.3,264.2 173.4,264.2 172.4,264.3 171.5,264.3 170.6,264.4 169.6,264.4 168.7,264.5 167.8,264.5 166.8,264.6 165.9,264.6 164.9,264.7 164.0,264.7 163.1,264.8 162.1,264.8 161.2,264.9 160.3,264.9 159.3,265.0 158.4,265.0 157.5,265.1 156.5,265.1 155.6,265.2 154.6,265.2 153.7,265.3 152.8,265.4 151.8,265.5 150.9,265.5 150.0,265.6 149.0,265.7 148.1,265.7 147.1,265.8 146.2,265.9 145.3,266.0 144.3,266.0 143.4,266.1 142.5,266.2 141.5,266.3 140.6,266.3 139.6,266.4 138.7,266.5 137.8,266.5 136.8,266.6 135.9,266.6 135.0,266.7 134.0,266.7 133.1,266.8 132.2,266.9 131.2,266.9 130.3,267.0 129.3,267.0 128.4,267.1 127.5,267.1 126.5,267.2 125.6,267.4 124.7,268.3 123.7,269.2 122.8,268.9 121.8,268.4 120.9,268.1 120.0,268.2 119.0,268.2 118.1,269.3 117.2,270.3 116.2,270.9 115.3,271.1 114.3,271.2 113.4,270.7 112.5,270.1 111.5,271.0 110.6,272.2 109.7,272.9 108.7,272.9 107.8,272.9 106.9,272.6 105.9,272.2 105.0,272.5 104.0,273.2 103.1,273.6 102.2,273.0 101.2,272.5 100.3,273.1 99.4,273.9 98.4,274.3 97.5,273.7 96.5,273.2 95.6,273.3 94.7,273.3 93.7,273.9 92.8,275.0 91.9,275.8 90.9,276.2 90.0,276.6 89.1,277.1 88.1,277.6 87.2,277.8 86.2,277.6 85.3,277.4 84.4,277.9 83.4,278.4 82.5,279.2 81.6,280.0 80.6,280.7 79.7,281.0 78.7,281.5 77.8,282.5 76.9,283.6 75.9,284.2 75.0,284.1 74.1,284.0 73.1,285.1 72.2,286.2 71.2,286.9 70.3,287.4 69.4,288.1 68.4,289.8 67.5,291.6 66.6,293.4 65.6,295.1 64.7,296.2 63.8,296.3 62.8,296.4 61.9,297.7 60.9,298.9 60.0,300.2 59.1,301.4 58.1,302.8 57.2,304.8 56.3,306.8 55.3,310.3 54.4,314.2 53.4,318.6 52.5,324.0 51.6,329.4 50.6,334.4 49.7,337.7 48.8,344.1 47.8,355.1 46.9,367.5 45.9,385.5 45.0,403.6 44.1,424.7 43.1,446.7 42.2,453.3" fill="#b40426" fill-opacity="0.080"/>
<polyline points="45.9,386.5 48.2,367.4 50.4,341.8 51.6,331.9 53.8,313.8 56.1,303.5 58.3,298.6 60.6,295.8 62.8,293.9 65.1,289.6 67.3,285.7 69.6,285.2 71.8,283.7 74.1,280.3 76.3,280.0 78.6,277.9 80.8,277.1 83.1,274.1 85.3,272.5 87.6,272.8 89.8,270.2 92.0,269.9 94.3,271.8 96.5,271.4 98.8,269.7 101.0,268.2 103.3,269.3 105.5,269.3 107.8,268.4 110.0,269.0 112.3,268.2 114.5,267.3 116.8,266.9 119.0,267.3 121.3,267.0 123.5,266.7 125.8,265.8 135.9,264.3 173.4,263.0 229.6,262.4" fill="none" stroke="#3b4cc0" stroke-width="1.15" stroke-opacity="0.92" stroke-linejoin="round"/>
<polyline points="46.9,386.5 52.5,334.9 53.4,328.0 56.3,315.7 59.1,310.1 61.9,303.2 64.7,295.7 67.5,293.4 70.3,291.0 73.1,289.1 75.9,286.2 78.7,284.5 81.6,283.1 84.4,282.4 87.2,280.5 90.0,279.3 92.8,277.9 95.6,276.5 98.4,275.5 101.2,275.2 104.0,274.3 106.9,273.6 109.7,273.0 112.5,272.3 115.3,271.0 118.1,270.6 120.9,269.8 123.7,268.4 135.9,266.2 173.4,263.4 229.6,262.4" fill="none" stroke="#7b9ff9" stroke-width="1.15" stroke-opacity="0.92" stroke-linejoin="round"/>
<polyline points="47.8,386.5 54.4,338.8 58.3,320.1 70.5,296.6 88.9,283.2 110.0,274.6 135.9,268.1 173.4,263.9 229.6,262.4" fill="none" stroke="#c0d4f5" stroke-width="1.15" stroke-opacity="0.92" stroke-linejoin="round"/>
<polyline points="44.8,417.2 53.4,388.4 61.1,359.9 64.7,349.3 68.4,337.3 72.2,326.2 75.9,315.9 79.7,307.1 83.4,301.9 87.2,296.8 90.9,291.9 94.7,289.4 98.4,286.7 102.2,283.1 105.9,282.2 109.7,279.9 113.4,279.1 117.2,277.8 120.9,277.4 124.7,275.5 128.4,274.3 132.2,274.1 135.9,273.0 139.6,272.4 143.4,272.7 147.1,271.1 150.9,270.8 160.1,269.7 182.8,267.2 210.9,263.7 229.6,262.4" fill="none" stroke="#f2cbb7" stroke-width="1.15" stroke-opacity="0.92" stroke-linejoin="round"/>
<polyline points="45.2,390.3 47.8,346.4 50.6,319.7 51.6,315.8 53.8,306.4 56.1,300.7 58.3,296.2 60.6,294.0 62.8,290.9 65.1,287.3 67.3,285.5 69.6,285.0 71.8,285.7 74.1,284.4 76.3,284.4 78.6,284.1 80.8,282.4 83.1,280.0 85.3,276.1 87.6,274.9 89.8,274.3 92.0,273.6 94.3,274.4 96.5,273.5 98.8,272.3 101.0,271.5 103.3,270.7 105.5,270.1 107.8,271.3 110.0,269.6 112.3,269.1 114.5,269.0 116.8,269.4 119.0,268.3 121.3,268.8 123.5,266.5 125.8,266.2 135.9,265.3 173.4,263.2 229.6,262.4" fill="none" stroke="#ee8468" stroke-width="1.15" stroke-opacity="0.92" stroke-linejoin="round"/>
<polyline points="42.2,453.3 44.8,392.6 47.1,349.8 49.1,326.2 51.0,320.1 51.6,316.6 53.8,304.2 56.1,295.5 58.3,291.2 60.6,288.9 62.8,286.4 65.1,286.7 67.3,283.1 69.6,279.4 71.8,278.9 74.1,276.8 76.3,277.7 78.6,275.6 80.8,275.0 83.1,273.1 85.3,271.9 87.6,272.6 89.8,271.4 92.0,270.7 94.3,268.4 96.5,268.4 98.8,269.7 101.0,267.7 103.3,269.2 105.5,267.6 107.8,268.6 110.0,268.7 112.3,266.0 114.5,267.3 116.8,266.9 119.0,264.5 121.3,264.5 123.5,265.9 125.8,263.8 140.0,263.7 173.4,262.8 229.6,262.4" fill="none" stroke="#b40426" stroke-width="1.15" stroke-opacity="0.92" stroke-linejoin="round"/>
<path d="M32.5 252.8V462.6H239.2" fill="none" stroke="#5a5a5a" stroke-width="1"/><path d="M29.9 453.30H32.5" stroke="#555" stroke-width="0.8"/><path d="M42.20 462.6V465.2" stroke="#555" stroke-width="0.8"/><text x="28.1" y="456.30" font-size="7.6" text-anchor="end" class="t">0.0</text><text x="42.20" y="472.70" font-size="7.6" text-anchor="middle" class="t">0.0</text><path d="M29.9 415.12H32.5" stroke="#555" stroke-width="0.8"/><path d="M79.68 462.6V465.2" stroke="#555" stroke-width="0.8"/><text x="28.1" y="418.12" font-size="7.6" text-anchor="end" class="t">0.2</text><text x="79.68" y="472.70" font-size="7.6" text-anchor="middle" class="t">0.2</text><path d="M29.9 376.94H32.5" stroke="#555" stroke-width="0.8"/><path d="M117.16 462.6V465.2" stroke="#555" stroke-width="0.8"/><text x="28.1" y="379.94" font-size="7.6" text-anchor="end" class="t">0.4</text><text x="117.16" y="472.70" font-size="7.6" text-anchor="middle" class="t">0.4</text><path d="M29.9 338.76H32.5" stroke="#555" stroke-width="0.8"/><path d="M154.64 462.6V465.2" stroke="#555" stroke-width="0.8"/><text x="28.1" y="341.76" font-size="7.6" text-anchor="end" class="t">0.6</text><text x="154.64" y="472.70" font-size="7.6" text-anchor="middle" class="t">0.6</text><path d="M29.9 300.58H32.5" stroke="#555" stroke-width="0.8"/><path d="M192.12 462.6V465.2" stroke="#555" stroke-width="0.8"/><text x="28.1" y="303.58" font-size="7.6" text-anchor="end" class="t">0.8</text><text x="192.12" y="472.70" font-size="7.6" text-anchor="middle" class="t">0.8</text><path d="M29.9 262.40H32.5" stroke="#555" stroke-width="0.8"/><path d="M229.60 462.6V465.2" stroke="#555" stroke-width="0.8"/><text x="28.1" y="265.40" font-size="7.6" text-anchor="end" class="t">1.0</text><text x="229.60" y="472.70" font-size="7.6" text-anchor="middle" class="t">1.0</text><text x="135.9" y="482.3" font-size="7.7" text-anchor="middle" class="t">1-specificity</text><text transform="translate(12.6 357.4) rotate(-90)" font-size="7.7" text-anchor="middle" class="t">Sensitivity</text>
<text x="158.7" y="394.8" font-size="7.7" text-anchor="middle" class="t">AUC</text><path d="M84.3 402.5H98.8" stroke="#3b4cc0" stroke-width="1.15" stroke-opacity="0.92"/><text x="103.6" y="405.1" font-size="7.8" class="t">Support Vector Machine: 0.94 ± &#160;0.02</text><path d="M84.3 412.5H98.8" stroke="#7b9ff9" stroke-width="1.15" stroke-opacity="0.92"/><text x="103.6" y="415.1" font-size="7.8" class="t">K-Nearest Neighbour: 0.93 ± &#160;0.02</text><path d="M84.3 422.5H98.8" stroke="#c0d4f5" stroke-width="1.15" stroke-opacity="0.92"/><text x="103.6" y="425.1" font-size="7.8" class="t">Random Forest: 0.91 ± &#160;0.02</text><path d="M84.3 432.5H98.8" stroke="#f2cbb7" stroke-width="1.15" stroke-opacity="0.92"/><text x="103.6" y="435.1" font-size="7.8" class="t">LightGBM: 0.85 ± &#160;0.04</text><path d="M84.3 442.5H98.8" stroke="#ee8468" stroke-width="1.15" stroke-opacity="0.92"/><text x="103.6" y="445.1" font-size="7.8" class="t">XGBoost: 0.94 ± &#160;0.01</text><path d="M84.3 452.5H98.8" stroke="#b40426" stroke-width="1.15" stroke-opacity="0.92"/><text x="103.6" y="455.1" font-size="7.8" class="t">BINN: &#160;0.94 ± &#160;0.01</text>
<polygon points="288.4,262.4 289.3,262.4 290.3,262.4 291.2,262.4 292.1,262.4 293.1,262.4 294.0,262.4 295.0,262.4 295.9,262.4 296.8,262.4 297.8,262.4 298.7,262.4 299.6,262.4 300.6,262.4 301.5,262.4 302.4,262.4 303.4,262.4 304.3,262.4 305.3,262.4 306.2,262.4 307.1,262.4 308.1,262.4 309.0,262.4 309.9,262.4 310.9,262.4 311.8,262.4 312.7,262.4 313.7,262.4 314.6,262.4 315.6,262.4 316.5,262.4 317.4,262.4 318.4,262.4 319.3,262.4 320.2,262.4 321.2,262.4 322.1,262.4 323.1,262.4 324.0,262.4 324.9,262.4 325.9,262.4 326.8,262.4 327.7,262.4 328.7,262.4 329.6,262.4 330.5,262.4 331.5,262.4 332.4,262.4 333.4,262.4 334.3,262.4 335.2,262.4 336.2,262.4 337.1,262.4 338.0,262.4 339.0,262.4 339.9,262.4 340.8,262.4 341.8,262.4 342.7,262.4 343.7,262.4 344.6,262.4 345.5,262.4 346.5,262.4 347.4,262.4 348.3,262.4 349.3,262.4 350.2,262.4 351.1,262.4 352.1,262.4 353.0,262.4 354.0,262.4 354.9,262.4 355.8,262.4 356.8,262.4 357.7,262.4 358.6,262.4 359.6,262.4 360.5,262.4 361.4,262.4 362.4,262.4 363.3,262.4 364.3,262.4 365.2,262.4 366.1,262.4 367.1,262.4 368.0,262.4 368.9,262.4 369.9,262.4 370.8,262.4 371.7,262.4 372.7,262.4 373.6,262.4 374.6,262.4 375.5,262.4 376.4,262.4 377.4,262.4 378.3,262.4 379.2,262.4 380.2,262.4 381.1,262.4 382.0,262.4 383.0,262.4 383.9,262.4 384.9,262.4 385.8,262.4 386.7,262.4 387.7,262.4 388.6,262.4 389.5,262.4 390.5,262.4 391.4,262.4 392.4,262.4 393.3,262.4 394.2,262.4 395.2,262.4 396.1,262.4 397.0,262.4 398.0,262.4 398.9,262.4 399.8,262.4 400.8,262.4 401.7,262.4 402.7,262.4 403.6,262.4 404.5,262.4 405.5,262.4 406.4,262.4 407.3,262.4 408.3,262.4 409.2,262.4 410.1,262.4 411.1,262.5 412.0,262.6 413.0,262.7 413.9,262.8 414.8,262.9 415.8,263.0 416.7,263.2 417.6,263.3 418.6,263.4 419.5,263.5 420.4,263.5 421.4,263.6 422.3,263.7 423.3,263.8 424.2,263.9 425.1,264.1 426.1,264.2 427.0,264.3 427.9,264.4 428.9,264.5 429.8,264.6 430.7,264.7 431.7,264.8 432.6,264.9 433.6,265.0 434.5,265.1 435.4,265.2 436.4,265.3 437.3,265.4 438.2,265.5 439.2,265.6 440.1,265.9 441.0,266.3 442.0,266.7 442.9,267.2 443.9,267.6 444.8,268.0 445.7,268.5 446.7,268.9 447.6,269.5 448.5,269.6 449.5,269.7 450.4,269.8 451.4,269.9 452.3,269.9 453.2,269.8 454.2,269.8 455.1,269.7 456.0,271.3 457.0,273.2 457.9,275.1 458.8,280.0 459.8,284.9 460.7,289.5 461.7,293.7 462.6,298.4 463.5,304.1 464.5,305.2 465.4,306.3 466.3,307.4 467.3,346.1 468.2,346.8 469.1,347.4 470.1,349.5 471.0,353.7 472.0,357.9 472.9,370.7 473.8,389.1 474.8,412.7 475.7,434.2 475.7,453.3 474.8,441.0 473.8,426.7 472.9,417.6 472.0,414.1 471.0,419.1 470.1,424.2 469.1,421.8 468.2,420.9 467.3,420.0 466.3,381.1 465.4,370.1 464.5,359.2 463.5,348.3 462.6,332.8 461.7,326.5 460.7,320.7 459.8,314.6 458.8,308.2 457.9,301.7 457.0,298.3 456.0,294.8 455.1,291.7 454.2,290.2 453.2,288.7 452.3,287.2 451.4,285.7 450.4,284.0 449.5,282.4 448.5,280.7 447.6,279.1 446.7,278.1 445.7,277.4 444.8,276.6 443.9,275.9 442.9,275.1 442.0,274.4 441.0,273.6 440.1,272.9 439.2,272.2 438.2,271.8 437.3,271.4 436.4,271.0 435.4,270.6 434.5,270.2 433.6,269.8 432.6,269.4 431.7,268.9 430.7,268.5 429.8,268.1 428.9,267.7 427.9,267.2 427.0,266.8 426.1,266.4 425.1,266.0 424.2,265.5 423.3,265.1 422.3,264.7 421.4,264.3 420.4,263.8 419.5,263.5 418.6,263.4 417.6,263.3 416.7,263.2 415.8,263.0 414.8,262.9 413.9,262.8 413.0,262.7 412.0,262.6 411.1,262.5 410.1,262.4 409.2,262.4 408.3,262.4 407.3,262.4 406.4,262.4 405.5,262.4 404.5,262.4 403.6,262.4 402.7,262.4 401.7,262.4 400.8,262.4 399.8,262.4 398.9,262.4 398.0,262.4 397.0,262.4 396.1,262.4 395.2,262.4 394.2,262.4 393.3,262.4 392.4,262.4 391.4,262.4 390.5,262.4 389.5,262.4 388.6,262.4 387.7,262.4 386.7,262.4 385.8,262.4 384.9,262.4 383.9,262.4 383.0,262.4 382.0,262.4 381.1,262.4 380.2,262.4 379.2,262.4 378.3,262.4 377.4,262.4 376.4,262.4 375.5,262.4 374.6,262.4 373.6,262.4 372.7,262.4 371.7,262.4 370.8,262.4 369.9,262.4 368.9,262.4 368.0,262.4 367.1,262.4 366.1,262.4 365.2,262.4 364.3,262.4 363.3,262.4 362.4,262.4 361.4,262.4 360.5,262.4 359.6,262.4 358.6,262.4 357.7,262.4 356.8,262.4 355.8,262.4 354.9,262.4 354.0,262.4 353.0,262.4 352.1,262.4 351.1,262.4 350.2,262.4 349.3,262.4 348.3,262.4 347.4,262.4 346.5,262.4 345.5,262.4 344.6,262.4 343.7,262.4 342.7,262.4 341.8,262.4 340.8,262.4 339.9,262.4 339.0,262.4 338.0,262.4 337.1,262.4 336.2,262.4 335.2,262.4 334.3,262.4 333.4,262.4 332.4,262.4 331.5,262.4 330.5,262.4 329.6,262.4 328.7,262.4 327.7,262.4 326.8,262.4 325.9,262.4 324.9,262.4 324.0,262.4 323.1,262.4 322.1,262.4 321.2,262.4 320.2,262.4 319.3,262.4 318.4,262.4 317.4,262.4 316.5,262.4 315.6,262.4 314.6,262.4 313.7,262.4 312.7,262.4 311.8,262.4 310.9,262.4 309.9,262.4 309.0,262.4 308.1,262.4 307.1,262.4 306.2,262.4 305.3,262.4 304.3,262.4 303.4,262.4 302.4,262.4 301.5,262.4 300.6,262.4 299.6,262.4 298.7,262.4 297.8,262.4 296.8,262.4 295.9,262.4 295.0,262.4 294.0,262.4 293.1,262.4 292.1,262.4 291.2,262.4 290.3,262.4 289.3,262.4 288.4,262.4" fill="#3b4cc0" fill-opacity="0.120"/>
<polygon points="288.4,262.4 289.3,262.4 290.3,262.4 291.2,262.4 292.1,262.4 293.1,262.4 294.0,262.4 295.0,262.4 295.9,262.4 296.8,262.4 297.8,262.4 298.7,262.4 299.6,262.4 300.6,262.4 301.5,262.4 302.4,262.4 303.4,262.4 304.3,262.4 305.3,262.4 306.2,262.4 307.1,262.4 308.1,262.4 309.0,262.4 309.9,262.4 310.9,262.4 311.8,262.4 312.7,262.4 313.7,262.4 314.6,262.4 315.6,262.4 316.5,262.4 317.4,262.4 318.4,262.4 319.3,262.4 320.2,262.4 321.2,262.4 322.1,262.4 323.1,262.4 324.0,262.4 324.9,262.4 325.9,262.4 326.8,262.4 327.7,262.4 328.7,262.4 329.6,262.4 330.5,262.4 331.5,262.4 332.4,262.4 333.4,262.4 334.3,262.4 335.2,262.4 336.2,262.4 337.1,262.4 338.0,262.4 339.0,262.4 339.9,262.4 340.8,262.4 341.8,262.4 342.7,262.4 343.7,262.4 344.6,262.4 345.5,262.4 346.5,262.4 347.4,262.4 348.3,262.4 349.3,262.4 350.2,262.4 351.1,262.4 352.1,262.4 353.0,262.4 354.0,262.4 354.9,262.4 355.8,262.4 356.8,262.4 357.7,262.4 358.6,262.4 359.6,262.4 360.5,262.4 361.4,262.4 362.4,262.4 363.3,262.4 364.3,262.4 365.2,262.4 366.1,262.4 367.1,262.4 368.0,262.4 368.9,262.4 369.9,262.4 370.8,262.4 371.7,262.4 372.7,262.4 373.6,262.4 374.6,262.4 375.5,262.4 376.4,262.4 377.4,262.4 378.3,262.4 379.2,262.4 380.2,262.4 381.1,262.4 382.0,262.4 383.0,262.4 383.9,262.4 384.9,262.4 385.8,262.4 386.7,262.4 387.7,262.4 388.6,262.4 389.5,262.4 390.5,262.4 391.4,262.4 392.4,262.4 393.3,262.4 394.2,262.4 395.2,262.4 396.1,262.4 397.0,262.4 398.0,262.4 398.9,262.4 399.8,262.4 400.8,262.4 401.7,262.4 402.7,262.4 403.6,262.4 404.5,262.4 405.5,262.4 406.4,262.4 407.3,262.5 408.3,262.6 409.2,262.8 410.1,263.0 411.1,263.1 412.0,263.3 413.0,263.4 413.9,263.6 414.8,263.8 415.8,263.9 416.7,264.1 417.6,264.2 418.6,264.4 419.5,264.5 420.4,264.7 421.4,264.8 422.3,264.9 423.3,264.9 424.2,265.0 425.1,265.1 426.1,265.2 427.0,265.3 427.9,265.4 428.9,265.5 429.8,265.6 430.7,265.7 431.7,265.8 432.6,265.9 433.6,266.0 434.5,266.0 435.4,266.1 436.4,266.2 437.3,266.3 438.2,266.4 439.2,266.9 440.1,267.4 441.0,267.9 442.0,268.4 442.9,268.9 443.9,269.3 444.8,269.8 445.7,270.3 446.7,270.8 447.6,271.6 448.5,272.6 449.5,273.5 450.4,274.4 451.4,275.3 452.3,276.2 453.2,277.2 454.2,278.5 455.1,279.7 456.0,280.9 457.0,282.2 457.9,280.9 458.8,281.4 459.8,281.8 460.7,283.2 461.7,285.9 462.6,289.2 463.5,295.5 464.5,301.8 465.4,308.1 466.3,315.0 467.3,322.0 468.2,328.9 469.1,334.6 470.1,340.3 471.0,346.0 472.0,356.8 472.9,367.5 473.8,378.3 474.8,398.8 475.7,415.1 475.7,453.3 474.8,445.9 473.8,434.2 472.9,432.3 472.0,430.4 471.0,418.9 470.1,412.6 469.1,406.2 468.2,399.8 467.3,390.3 466.3,380.8 465.4,371.2 464.5,362.3 463.5,353.5 462.6,344.6 461.7,336.5 460.7,329.0 459.8,322.8 458.8,317.6 457.9,312.4 457.0,308.9 456.0,306.9 455.1,304.9 454.2,302.9 453.2,300.9 452.3,299.2 451.4,297.5 450.4,295.8 449.5,294.1 448.5,292.4 447.6,290.7 446.7,289.1 445.7,287.9 444.8,286.6 443.9,285.4 442.9,284.1 442.0,282.9 441.0,281.6 440.1,280.4 439.2,279.1 438.2,277.9 437.3,277.5 436.4,277.1 435.4,276.7 434.5,276.4 433.6,276.0 432.6,275.6 431.7,275.2 430.7,274.8 429.8,274.5 428.9,274.1 427.9,273.7 427.0,273.3 426.1,273.0 425.1,272.6 424.2,272.2 423.3,271.8 422.3,271.4 421.4,271.1 420.4,270.7 419.5,270.3 418.6,269.8 417.6,269.4 416.7,268.9 415.8,268.5 414.8,268.0 413.9,267.6 413.0,267.2 412.0,266.7 411.1,266.3 410.1,265.8 409.2,265.4 408.3,264.9 407.3,264.5 406.4,264.1 405.5,263.6 404.5,263.2 403.6,263.0 402.7,262.8 401.7,262.6 400.8,262.4 399.8,262.4 398.9,262.4 398.0,262.4 397.0,262.4 396.1,262.4 395.2,262.4 394.2,262.4 393.3,262.4 392.4,262.4 391.4,262.4 390.5,262.4 389.5,262.4 388.6,262.4 387.7,262.4 386.7,262.4 385.8,262.4 384.9,262.4 383.9,262.4 383.0,262.4 382.0,262.4 381.1,262.4 380.2,262.4 379.2,262.4 378.3,262.4 377.4,262.4 376.4,262.4 375.5,262.4 374.6,262.4 373.6,262.4 372.7,262.4 371.7,262.4 370.8,262.4 369.9,262.4 368.9,262.4 368.0,262.4 367.1,262.4 366.1,262.4 365.2,262.4 364.3,262.4 363.3,262.4 362.4,262.4 361.4,262.4 360.5,262.4 359.6,262.4 358.6,262.4 357.7,262.4 356.8,262.4 355.8,262.4 354.9,262.4 354.0,262.4 353.0,262.4 352.1,262.4 351.1,262.4 350.2,262.4 349.3,262.4 348.3,262.4 347.4,262.4 346.5,262.4 345.5,262.4 344.6,262.4 343.7,262.4 342.7,262.4 341.8,262.4 340.8,262.4 339.9,262.4 339.0,262.4 338.0,262.4 337.1,262.4 336.2,262.4 335.2,262.4 334.3,262.4 333.4,262.4 332.4,262.4 331.5,262.4 330.5,262.4 329.6,262.4 328.7,262.4 327.7,262.4 326.8,262.4 325.9,262.4 324.9,262.4 324.0,262.4 323.1,262.4 322.1,262.4 321.2,262.4 320.2,262.4 319.3,262.4 318.4,262.4 317.4,262.4 316.5,262.4 315.6,262.4 314.6,262.4 313.7,262.4 312.7,262.4 311.8,262.4 310.9,262.4 309.9,262.4 309.0,262.4 308.1,262.4 307.1,262.4 306.2,262.4 305.3,262.4 304.3,262.4 303.4,262.4 302.4,262.4 301.5,262.4 300.6,262.4 299.6,262.4 298.7,262.4 297.8,262.4 296.8,262.4 295.9,262.4 295.0,262.4 294.0,262.4 293.1,262.4 292.1,262.4 291.2,262.4 290.3,262.4 289.3,262.4 288.4,262.4" fill="#7b9ff9" fill-opacity="0.100"/>
<polygon points="288.4,262.4 289.3,262.4 290.3,262.4 291.2,262.4 292.1,262.4 293.1,262.4 294.0,262.4 295.0,262.4 295.9,262.4 296.8,262.4 297.8,262.4 298.7,262.4 299.6,262.4 300.6,262.4 301.5,262.4 302.4,262.4 303.4,262.4 304.3,262.4 305.3,262.4 306.2,262.4 307.1,262.4 308.1,262.4 309.0,262.4 309.9,262.4 310.9,262.4 311.8,262.4 312.7,262.4 313.7,262.4 314.6,262.4 315.6,262.4 316.5,262.4 317.4,262.4 318.4,262.4 319.3,262.4 320.2,262.4 321.2,262.4 322.1,262.4 323.1,262.4 324.0,262.4 324.9,262.4 325.9,262.4 326.8,262.4 327.7,262.4 328.7,262.4 329.6,262.4 330.5,262.4 331.5,262.4 332.4,262.4 333.4,262.4 334.3,262.4 335.2,262.4 336.2,262.4 337.1,262.4 338.0,262.4 339.0,262.4 339.9,262.4 340.8,262.4 341.8,262.4 342.7,262.4 343.7,262.4 344.6,262.4 345.5,262.4 346.5,262.4 347.4,262.4 348.3,262.4 349.3,262.4 350.2,262.4 351.1,262.4 352.1,262.4 353.0,262.4 354.0,262.4 354.9,262.4 355.8,262.4 356.8,262.4 357.7,262.4 358.6,262.4 359.6,262.4 360.5,262.4 361.4,262.4 362.4,262.4 363.3,262.4 364.3,262.4 365.2,262.4 366.1,262.4 367.1,262.4 368.0,262.4 368.9,262.4 369.9,262.4 370.8,262.4 371.7,262.4 372.7,262.4 373.6,262.4 374.6,262.4 375.5,262.4 376.4,262.4 377.4,262.4 378.3,262.4 379.2,262.4 380.2,262.4 381.1,262.4 382.0,262.4 383.0,262.4 383.9,262.4 384.9,262.4 385.8,262.4 386.7,262.4 387.7,262.4 388.6,262.4 389.5,262.4 390.5,262.4 391.4,262.4 392.4,262.4 393.3,262.4 394.2,262.4 395.2,262.4 396.1,262.4 397.0,262.4 398.0,262.4 398.9,262.4 399.8,262.4 400.8,262.4 401.7,262.6 402.7,262.7 403.6,262.9 404.5,263.1 405.5,263.3 406.4,263.4 407.3,263.6 408.3,263.8 409.2,263.9 410.1,264.1 411.1,264.3 412.0,264.5 413.0,264.6 413.9,264.8 414.8,265.0 415.8,265.2 416.7,265.3 417.6,265.5 418.6,265.7 419.5,265.8 420.4,266.0 421.4,266.2 422.3,266.3 423.3,266.5 424.2,266.6 425.1,266.8 426.1,266.9 427.0,267.1 427.9,267.2 428.9,267.4 429.8,267.5 430.7,267.7 431.7,267.8 432.6,268.1 433.6,268.7 434.5,269.2 435.4,269.8 436.4,270.4 437.3,270.9 438.2,271.5 439.2,271.9 440.1,272.3 441.0,272.7 442.0,273.2 442.9,273.6 443.9,274.0 444.8,274.6 445.7,275.6 446.7,276.6 447.6,277.5 448.5,278.5 449.5,279.4 450.4,280.4 451.4,281.4 452.3,282.9 453.2,284.9 454.2,286.9 455.1,288.9 456.0,290.8 457.0,293.0 457.9,295.5 458.8,298.1 459.8,300.7 460.7,304.3 461.7,309.3 462.6,314.3 463.5,319.3 464.5,324.3 465.4,331.0 466.3,337.8 467.3,344.6 468.2,351.4 469.1,358.1 470.1,364.9 471.0,371.7 472.0,378.5 472.9,390.8 473.8,403.2 474.8,415.5 475.7,434.2 475.7,453.3 474.8,439.9 473.8,432.9 472.9,425.9 472.0,418.9 471.0,411.5 470.1,404.1 469.1,396.7 468.2,389.3 467.3,382.0 466.3,374.6 465.4,367.2 464.5,359.8 463.5,354.1 462.6,348.5 461.7,342.9 460.7,337.3 459.8,333.1 458.8,329.9 457.9,326.7 457.0,323.5 456.0,320.6 455.1,317.9 454.2,315.1 453.2,312.4 452.3,309.7 451.4,307.3 450.4,305.6 449.5,303.9 448.5,302.2 447.6,300.4 446.7,298.7 445.7,297.0 444.8,295.3 443.9,293.9 442.9,292.7 442.0,291.5 441.0,290.3 440.1,289.1 439.2,287.9 438.2,286.8 437.3,285.8 436.4,284.9 435.4,283.9 434.5,283.0 433.6,282.0 432.6,281.1 431.7,280.4 430.7,279.9 429.8,279.3 428.9,278.8 427.9,278.3 427.0,277.7 426.1,277.2 425.1,276.7 424.2,276.1 423.3,275.6 422.3,275.1 421.4,274.6 420.4,274.0 419.5,273.5 418.6,272.9 417.6,272.4 416.7,271.8 415.8,271.3 414.8,270.7 413.9,270.2 413.0,269.6 412.0,269.0 411.1,268.5 410.1,267.9 409.2,267.4 408.3,266.8 407.3,266.3 406.4,265.7 405.5,265.2 404.5,264.6 403.6,264.1 402.7,263.5 401.7,263.0 400.8,262.4 399.8,262.4 398.9,262.4 398.0,262.4 397.0,262.4 396.1,262.4 395.2,262.4 394.2,262.4 393.3,262.4 392.4,262.4 391.4,262.4 390.5,262.4 389.5,262.4 388.6,262.4 387.7,262.4 386.7,262.4 385.8,262.4 384.9,262.4 383.9,262.4 383.0,262.4 382.0,262.4 381.1,262.4 380.2,262.4 379.2,262.4 378.3,262.4 377.4,262.4 376.4,262.4 375.5,262.4 374.6,262.4 373.6,262.4 372.7,262.4 371.7,262.4 370.8,262.4 369.9,262.4 368.9,262.4 368.0,262.4 367.1,262.4 366.1,262.4 365.2,262.4 364.3,262.4 363.3,262.4 362.4,262.4 361.4,262.4 360.5,262.4 359.6,262.4 358.6,262.4 357.7,262.4 356.8,262.4 355.8,262.4 354.9,262.4 354.0,262.4 353.0,262.4 352.1,262.4 351.1,262.4 350.2,262.4 349.3,262.4 348.3,262.4 347.4,262.4 346.5,262.4 345.5,262.4 344.6,262.4 343.7,262.4 342.7,262.4 341.8,262.4 340.8,262.4 339.9,262.4 339.0,262.4 338.0,262.4 337.1,262.4 336.2,262.4 335.2,262.4 334.3,262.4 333.4,262.4 332.4,262.4 331.5,262.4 330.5,262.4 329.6,262.4 328.7,262.4 327.7,262.4 326.8,262.4 325.9,262.4 324.9,262.4 324.0,262.4 323.1,262.4 322.1,262.4 321.2,262.4 320.2,262.4 319.3,262.4 318.4,262.4 317.4,262.4 316.5,262.4 315.6,262.4 314.6,262.4 313.7,262.4 312.7,262.4 311.8,262.4 310.9,262.4 309.9,262.4 309.0,262.4 308.1,262.4 307.1,262.4 306.2,262.4 305.3,262.4 304.3,262.4 303.4,262.4 302.4,262.4 301.5,262.4 300.6,262.4 299.6,262.4 298.7,262.4 297.8,262.4 296.8,262.4 295.9,262.4 295.0,262.4 294.0,262.4 293.1,262.4 292.1,262.4 291.2,262.4 290.3,262.4 289.3,262.4 288.4,262.4" fill="#c0d4f5" fill-opacity="0.120"/>
<polygon points="288.4,262.4 289.3,262.4 290.3,262.4 291.2,262.4 292.1,262.4 293.1,262.4 294.0,262.4 295.0,262.4 295.9,262.4 296.8,262.4 297.8,262.4 298.7,262.4 299.6,262.4 300.6,262.4 301.5,262.4 302.4,262.4 303.4,262.4 304.3,262.4 305.3,262.4 306.2,262.4 307.1,262.4 308.1,262.4 309.0,262.4 309.9,262.4 310.9,262.4 311.8,262.4 312.7,262.4 313.7,262.4 314.6,262.4 315.6,262.4 316.5,262.4 317.4,262.4 318.4,262.4 319.3,262.4 320.2,262.4 321.2,262.4 322.1,262.4 323.1,262.4 324.0,262.4 324.9,262.4 325.9,262.4 326.8,262.4 327.7,262.4 328.7,262.4 329.6,262.4 330.5,262.4 331.5,262.4 332.4,262.4 333.4,262.4 334.3,262.4 335.2,262.4 336.2,262.4 337.1,262.4 338.0,262.4 339.0,262.4 339.9,262.4 340.8,262.4 341.8,262.4 342.7,262.4 343.7,262.4 344.6,262.4 345.5,262.4 346.5,262.4 347.4,262.4 348.3,262.4 349.3,262.4 350.2,262.4 351.1,262.4 352.1,262.4 353.0,262.4 354.0,262.4 354.9,262.4 355.8,262.4 356.8,262.4 357.7,262.4 358.6,262.4 359.6,262.4 360.5,262.4 361.4,262.4 362.4,262.4 363.3,262.4 364.3,262.4 365.2,262.4 366.1,262.4 367.1,262.4 368.0,262.4 368.9,262.4 369.9,262.4 370.8,262.4 371.7,262.4 372.7,262.4 373.6,262.4 374.6,262.4 375.5,262.4 376.4,262.4 377.4,262.4 378.3,262.4 379.2,262.4 380.2,262.4 381.1,262.4 382.0,262.4 383.0,262.4 383.9,262.4 384.9,262.4 385.8,262.4 386.7,262.4 387.7,262.4 388.6,262.4 389.5,262.4 390.5,262.4 391.4,262.4 392.4,262.4 393.3,262.4 394.2,262.5 395.2,262.5 396.1,262.5 397.0,262.5 398.0,262.6 398.9,262.6 399.8,262.6 400.8,262.6 401.7,262.6 402.7,262.7 403.6,262.7 404.5,262.7 405.5,263.1 406.4,263.4 407.3,263.8 408.3,264.1 409.2,264.5 410.1,264.8 411.1,265.2 412.0,265.6 413.0,265.9 413.9,266.3 414.8,266.6 415.8,267.0 416.7,267.3 417.6,267.7 418.6,268.1 419.5,268.4 420.4,268.8 421.4,269.3 422.3,269.8 423.3,270.2 424.2,270.7 425.1,271.2 426.1,271.7 427.0,272.1 427.9,272.6 428.9,273.1 429.8,273.5 430.7,274.2 431.7,274.8 432.6,275.5 433.6,276.1 434.5,276.7 435.4,277.4 436.4,278.3 437.3,279.8 438.2,281.2 439.2,282.3 440.1,283.4 441.0,284.4 442.0,285.5 442.9,286.5 443.9,288.6 444.8,291.5 445.7,294.3 446.7,298.1 447.6,302.0 448.5,305.1 449.5,307.1 450.4,309.1 451.4,315.9 452.3,323.0 453.2,327.3 454.2,330.3 455.1,332.5 456.0,334.7 457.0,338.4 457.9,342.5 458.8,346.6 459.8,350.6 460.7,354.7 461.7,358.6 462.6,362.5 463.5,366.3 464.5,370.2 465.4,374.0 466.3,377.9 467.3,381.9 468.2,386.4 469.1,390.9 470.1,395.4 471.0,399.9 472.0,404.4 472.9,409.8 473.8,415.2 474.8,423.7 475.7,434.2 475.7,453.3 474.8,448.3 473.8,445.4 472.9,445.5 472.0,445.7 471.0,441.0 470.1,436.3 469.1,431.6 468.2,426.9 467.3,422.2 466.3,418.0 465.4,413.9 464.5,409.9 463.5,405.8 462.6,401.8 461.7,397.7 460.7,393.7 459.8,389.4 458.8,385.1 457.9,380.9 457.0,376.6 456.0,371.8 455.1,368.6 454.2,365.4 453.2,361.3 452.3,355.9 451.4,347.7 450.4,340.0 449.5,336.9 448.5,333.8 447.6,329.7 446.7,324.8 445.7,319.9 444.8,316.0 443.9,312.1 442.9,308.9 442.0,306.8 441.0,304.7 440.1,302.6 439.2,300.5 438.2,298.4 437.3,296.6 436.4,294.8 435.4,293.5 434.5,292.5 433.6,291.6 432.6,290.6 431.7,289.6 430.7,288.6 429.8,287.6 428.9,286.8 427.9,286.0 427.0,285.2 426.1,284.4 425.1,283.6 424.2,282.7 423.3,281.9 422.3,281.1 421.4,280.3 420.4,279.5 419.5,278.7 418.6,278.0 417.6,277.3 416.7,276.6 415.8,275.9 414.8,275.2 413.9,274.5 413.0,273.8 412.0,273.1 411.1,272.4 410.1,271.7 409.2,271.0 408.3,270.3 407.3,269.6 406.4,268.9 405.5,268.2 404.5,267.5 403.6,267.2 402.7,266.8 401.7,266.4 400.8,266.1 399.8,265.7 398.9,265.3 398.0,265.0 397.0,264.6 396.1,264.2 395.2,263.9 394.2,263.5 393.3,263.1 392.4,262.8 391.4,262.4 390.5,262.4 389.5,262.4 388.6,262.4 387.7,262.4 386.7,262.4 385.8,262.4 384.9,262.4 383.9,262.4 383.0,262.4 382.0,262.4 381.1,262.4 380.2,262.4 379.2,262.4 378.3,262.4 377.4,262.4 376.4,262.4 375.5,262.4 374.6,262.4 373.6,262.4 372.7,262.4 371.7,262.4 370.8,262.4 369.9,262.4 368.9,262.4 368.0,262.4 367.1,262.4 366.1,262.4 365.2,262.4 364.3,262.4 363.3,262.4 362.4,262.4 361.4,262.4 360.5,262.4 359.6,262.4 358.6,262.4 357.7,262.4 356.8,262.4 355.8,262.4 354.9,262.4 354.0,262.4 353.0,262.4 352.1,262.4 351.1,262.4 350.2,262.4 349.3,262.4 348.3,262.4 347.4,262.4 346.5,262.4 345.5,262.4 344.6,262.4 343.7,262.4 342.7,262.4 341.8,262.4 340.8,262.4 339.9,262.4 339.0,262.4 338.0,262.4 337.1,262.4 336.2,262.4 335.2,262.4 334.3,262.4 333.4,262.4 332.4,262.4 331.5,262.4 330.5,262.4 329.6,262.4 328.7,262.4 327.7,262.4 326.8,262.4 325.9,262.4 324.9,262.4 324.0,262.4 323.1,262.4 322.1,262.4 321.2,262.4 320.2,262.4 319.3,262.4 318.4,262.4 317.4,262.4 316.5,262.4 315.6,262.4 314.6,262.4 313.7,262.4 312.7,262.4 311.8,262.4 310.9,262.4 309.9,262.4 309.0,262.4 308.1,262.4 307.1,262.4 306.2,262.4 305.3,262.4 304.3,262.4 303.4,262.4 302.4,262.4 301.5,262.4 300.6,262.4 299.6,262.4 298.7,262.4 297.8,262.4 296.8,262.4 295.9,262.4 295.0,262.4 294.0,262.4 293.1,262.4 292.1,262.4 291.2,262.4 290.3,262.4 289.3,262.4 288.4,262.4" fill="#f2cbb7" fill-opacity="0.100"/>
<polygon points="288.4,262.4 289.3,262.4 290.3,262.4 291.2,262.4 292.1,262.4 293.1,262.4 294.0,262.4 295.0,262.4 295.9,262.4 296.8,262.4 297.8,262.4 298.7,262.4 299.6,262.4 300.6,262.4 301.5,262.4 302.4,262.4 303.4,262.4 304.3,262.4 305.3,262.4 306.2,262.4 307.1,262.4 308.1,262.4 309.0,262.4 309.9,262.4 310.9,262.4 311.8,262.4 312.7,262.4 313.7,262.4 314.6,262.4 315.6,262.4 316.5,262.4 317.4,262.4 318.4,262.4 319.3,262.4 320.2,262.4 321.2,262.4 322.1,262.4 323.1,262.4 324.0,262.4 324.9,262.4 325.9,262.4 326.8,262.4 327.7,262.4 328.7,262.4 329.6,262.4 330.5,262.4 331.5,262.4 332.4,262.4 333.4,262.4 334.3,262.4 335.2,262.4 336.2,262.4 337.1,262.4 338.0,262.4 339.0,262.4 339.9,262.4 340.8,262.4 341.8,262.4 342.7,262.4 343.7,262.4 344.6,262.4 345.5,262.4 346.5,262.4 347.4,262.4 348.3,262.4 349.3,262.4 350.2,262.4 351.1,262.4 352.1,262.4 353.0,262.4 354.0,262.4 354.9,262.4 355.8,262.4 356.8,262.4 357.7,262.4 358.6,262.4 359.6,262.4 360.5,262.4 361.4,262.4 362.4,262.4 363.3,262.4 364.3,262.4 365.2,262.4 366.1,262.4 367.1,262.4 368.0,262.4 368.9,262.4 369.9,262.4 370.8,262.4 371.7,262.4 372.7,262.4 373.6,262.4 374.6,262.4 375.5,262.4 376.4,262.4 377.4,262.4 378.3,262.4 379.2,262.4 380.2,262.4 381.1,262.4 382.0,262.4 383.0,262.4 383.9,262.4 384.9,262.4 385.8,262.4 386.7,262.4 387.7,262.4 388.6,262.4 389.5,262.4 390.5,262.4 391.4,262.4 392.4,262.4 393.3,262.4 394.2,262.4 395.2,262.4 396.1,262.4 397.0,262.4 398.0,262.4 398.9,262.4 399.8,262.4 400.8,262.4 401.7,262.4 402.7,262.4 403.6,262.4 404.5,262.4 405.5,262.4 406.4,262.4 407.3,262.4 408.3,262.4 409.2,262.6 410.1,262.9 411.1,263.1 412.0,263.4 413.0,263.6 413.9,263.9 414.8,264.1 415.8,264.3 416.7,264.6 417.6,264.8 418.6,265.1 419.5,265.3 420.4,265.4 421.4,265.4 422.3,265.5 423.3,265.5 424.2,265.6 425.1,265.6 426.1,265.6 427.0,265.7 427.9,265.7 428.9,265.8 429.8,265.8 430.7,265.8 431.7,265.9 432.6,265.9 433.6,266.0 434.5,266.0 435.4,266.1 436.4,266.2 437.3,266.5 438.2,266.8 439.2,267.1 440.1,267.4 441.0,267.7 442.0,268.0 442.9,268.3 443.9,268.6 444.8,269.3 445.7,270.5 446.7,271.8 447.6,273.1 448.5,274.2 449.5,275.2 450.4,275.4 451.4,275.7 452.3,275.9 453.2,276.1 454.2,276.4 455.1,277.9 456.0,279.5 457.0,281.2 457.9,283.8 458.8,286.5 459.8,289.1 460.7,291.7 461.7,294.4 462.6,297.1 463.5,299.9 464.5,302.3 465.4,304.6 466.3,306.9 467.3,314.7 468.2,322.4 469.1,330.2 470.1,339.6 471.0,349.0 472.0,358.4 472.9,377.3 473.8,396.3 474.8,422.7 475.7,443.8 475.7,453.3 474.8,432.8 473.8,406.9 472.9,388.5 472.0,370.1 471.0,361.3 470.1,352.4 469.1,343.5 468.2,336.3 467.3,329.1 466.3,321.9 465.4,320.2 464.5,318.4 463.5,316.5 462.6,314.3 461.7,311.0 460.7,307.7 459.8,304.5 458.8,301.2 457.9,298.0 457.0,294.8 456.0,292.5 455.1,290.3 454.2,288.2 453.2,287.4 452.3,286.5 451.4,285.7 450.4,284.9 449.5,284.0 448.5,282.5 447.6,280.7 446.7,279.2 445.7,277.7 444.8,276.1 443.9,275.2 442.9,274.6 442.0,274.1 441.0,273.5 440.1,273.0 439.2,272.4 438.2,271.9 437.3,271.3 436.4,270.8 435.4,270.4 434.5,270.1 433.6,269.8 432.6,269.5 431.7,269.2 430.7,268.9 429.8,268.6 428.9,268.3 427.9,268.0 427.0,267.7 426.1,267.4 425.1,267.1 424.2,266.8 423.3,266.5 422.3,266.2 421.4,265.9 420.4,265.6 419.5,265.3 418.6,265.1 417.6,264.8 416.7,264.6 415.8,264.3 414.8,264.1 413.9,263.9 413.0,263.6 412.0,263.4 411.1,263.1 410.1,262.9 409.2,262.6 408.3,262.4 407.3,262.4 406.4,262.4 405.5,262.4 404.5,262.4 403.6,262.4 402.7,262.4 401.7,262.4 400.8,262.4 399.8,262.4 398.9,262.4 398.0,262.4 397.0,262.4 396.1,262.4 395.2,262.4 394.2,262.4 393.3,262.4 392.4,262.4 391.4,262.4 390.5,262.4 389.5,262.4 388.6,262.4 387.7,262.4 386.7,262.4 385.8,262.4 384.9,262.4 383.9,262.4 383.0,262.4 382.0,262.4 381.1,262.4 380.2,262.4 379.2,262.4 378.3,262.4 377.4,262.4 376.4,262.4 375.5,262.4 374.6,262.4 373.6,262.4 372.7,262.4 371.7,262.4 370.8,262.4 369.9,262.4 368.9,262.4 368.0,262.4 367.1,262.4 366.1,262.4 365.2,262.4 364.3,262.4 363.3,262.4 362.4,262.4 361.4,262.4 360.5,262.4 359.6,262.4 358.6,262.4 357.7,262.4 356.8,262.4 355.8,262.4 354.9,262.4 354.0,262.4 353.0,262.4 352.1,262.4 351.1,262.4 350.2,262.4 349.3,262.4 348.3,262.4 347.4,262.4 346.5,262.4 345.5,262.4 344.6,262.4 343.7,262.4 342.7,262.4 341.8,262.4 340.8,262.4 339.9,262.4 339.0,262.4 338.0,262.4 337.1,262.4 336.2,262.4 335.2,262.4 334.3,262.4 333.4,262.4 332.4,262.4 331.5,262.4 330.5,262.4 329.6,262.4 328.7,262.4 327.7,262.4 326.8,262.4 325.9,262.4 324.9,262.4 324.0,262.4 323.1,262.4 322.1,262.4 321.2,262.4 320.2,262.4 319.3,262.4 318.4,262.4 317.4,262.4 316.5,262.4 315.6,262.4 314.6,262.4 313.7,262.4 312.7,262.4 311.8,262.4 310.9,262.4 309.9,262.4 309.0,262.4 308.1,262.4 307.1,262.4 306.2,262.4 305.3,262.4 304.3,262.4 303.4,262.4 302.4,262.4 301.5,262.4 300.6,262.4 299.6,262.4 298.7,262.4 297.8,262.4 296.8,262.4 295.9,262.4 295.0,262.4 294.0,262.4 293.1,262.4 292.1,262.4 291.2,262.4 290.3,262.4 289.3,262.4 288.4,262.4" fill="#ee8468" fill-opacity="0.100"/>
<polygon points="288.4,262.4 438.2,264.3 453.2,271.9 454.2,271.0 461.7,267.2 462.8,267.2 463.7,281.5 464.6,283.0 469.0,295.2 472.5,303.8 472.9,338.8 473.8,357.9 475.7,453.3 475.7,453.3 474.8,407.5 473.8,365.2 472.9,352.4 472.0,347.0 471.0,340.3 470.1,335.0 469.1,329.7 468.2,324.4 467.3,319.4 466.3,314.8 465.4,310.0 464.5,306.4 463.5,302.9 462.6,299.5 461.7,296.4 460.7,293.6 459.8,290.7 458.8,287.7 457.9,284.0 457.0,280.2 456.0,278.1 455.1,276.4 454.2,274.6 453.2,274.0 452.3,273.4 451.4,272.7 450.4,272.1 449.5,271.5 448.5,270.8 447.6,270.0 446.7,269.5 445.7,269.0 444.8,268.4 443.9,267.9 442.9,267.4 442.0,266.8 441.0,266.2 440.1,265.7 439.2,265.1 438.2,264.5 437.3,264.4 436.4,264.3 435.4,264.2 434.5,264.1 433.6,264.0 432.6,263.9 431.7,263.8 430.7,263.7 429.8,263.5 428.9,263.5 427.9,263.5 427.0,263.5 426.1,263.5 425.1,263.5 424.2,263.4 423.3,263.4 422.3,263.4 421.4,263.4 420.4,263.4 419.5,263.2 418.6,263.0 417.6,262.8 416.7,262.6 415.8,262.4 414.8,262.4 413.9,262.4 413.0,262.4 412.0,262.4 411.1,262.4 410.1,262.4 409.2,262.4 408.3,262.4 407.3,262.4 406.4,262.4 405.5,262.4 404.5,262.4 403.6,262.4 402.7,262.4 401.7,262.4 400.8,262.4 399.8,262.4 398.9,262.4 398.0,262.4 397.0,262.4 396.1,262.4 395.2,262.4 394.2,262.4 393.3,262.4 392.4,262.4 391.4,262.4 390.5,262.4 389.5,262.4 388.6,262.4 387.7,262.4 386.7,262.4 385.8,262.4 384.9,262.4 383.9,262.4 383.0,262.4 382.0,262.4 381.1,262.4 380.2,262.4 379.2,262.4 378.3,262.4 377.4,262.4 376.4,262.4 375.5,262.4 374.6,262.4 373.6,262.4 372.7,262.4 371.7,262.4 370.8,262.4 369.9,262.4 368.9,262.4 368.0,262.4 367.1,262.4 366.1,262.4 365.2,262.4 364.3,262.4 363.3,262.4 362.4,262.4 361.4,262.4 360.5,262.4 359.6,262.4 358.6,262.4 357.7,262.4 356.8,262.4 355.8,262.4 354.9,262.4 354.0,262.4 353.0,262.4 352.1,262.4 351.1,262.4 350.2,262.4 349.3,262.4 348.3,262.4 347.4,262.4 346.5,262.4 345.5,262.4 344.6,262.4 343.7,262.4 342.7,262.4 341.8,262.4 340.8,262.4 339.9,262.4 339.0,262.4 338.0,262.4 337.1,262.4 336.2,262.4 335.2,262.4 334.3,262.4 333.4,262.4 332.4,262.4 331.5,262.4 330.5,262.4 329.6,262.4 328.7,262.4 327.7,262.4 326.8,262.4 325.9,262.4 324.9,262.4 324.0,262.4 323.1,262.4 322.1,262.4 321.2,262.4 320.2,262.4 319.3,262.4 318.4,262.4 317.4,262.4 316.5,262.4 315.6,262.4 314.6,262.4 313.7,262.4 312.7,262.4 311.8,262.4 310.9,262.4 309.9,262.4 309.0,262.4 308.1,262.4 307.1,262.4 306.2,262.4 305.3,262.4 304.3,262.4 303.4,262.4 302.4,262.4 301.5,262.4 300.6,262.4 299.6,262.4 298.7,262.4 297.8,262.4 296.8,262.4 295.9,262.4 295.0,262.4 294.0,262.4 293.1,262.4 292.1,262.4 291.2,262.4 290.3,262.4 289.3,262.4 288.4,262.4" fill="#b40426" fill-opacity="0.200"/>
<polyline points="410.1,262.4 420.1,263.5 432.2,266.6 439.6,268.3 446.9,272.7 451.7,276.9 455.3,279.4 457.9,286.8 460.3,301.3 462.2,311.3 463.5,319.7 466.5,324.1 466.5,362.0 469.7,365.1 472.3,377.7 474.2,415.1 475.5,453.3" fill="none" stroke="#3b4cc0" stroke-width="1.00" stroke-opacity="1.00" stroke-linejoin="round"/>
<polyline points="404.5,262.4 420.1,266.6 438.2,270.2 446.9,278.2 453.0,286.8 457.9,295.2 460.3,303.8 462.2,315.1 465.4,338.8 468.2,361.7 471.0,380.8 473.8,415.1 475.5,453.3" fill="none" stroke="#7b9ff9" stroke-width="1.00" stroke-opacity="1.00" stroke-linejoin="round"/>
<polyline points="400.8,262.4 420.1,268.9 432.2,272.7 444.4,281.9 451.7,291.6 456.8,303.8 460.3,315.1 464.5,338.8 468.2,367.4 472.0,396.0 474.8,434.2 475.5,453.3" fill="none" stroke="#c0d4f5" stroke-width="1.00" stroke-opacity="1.00" stroke-linejoin="round"/>
<polyline points="391.4,262.4 404.5,264.3 420.1,272.1 429.8,278.2 436.0,283.2 439.6,289.1 443.3,295.2 445.7,303.8 448.2,315.1 450.6,321.6 452.1,334.9 453.6,342.6 456.0,349.5 460.9,371.6 467.1,398.3 472.0,422.8 474.4,437.3 475.5,453.3" fill="none" stroke="#f2cbb7" stroke-width="1.00" stroke-opacity="1.00" stroke-linejoin="round"/>
<polyline points="408.3,262.4 420.1,265.5 436.0,268.3 444.4,272.1 449.3,279.4 454.2,281.9 456.8,286.8 460.3,297.7 463.9,308.8 466.3,315.1 469.1,338.8 472.0,367.4 473.8,405.6 475.5,453.3" fill="none" stroke="#ee8468" stroke-width="1.00" stroke-opacity="1.00" stroke-linejoin="round"/>
<polyline points="288.4,262.4 415.8,262.4 420.1,263.4 429.8,263.5 438.2,264.5 442.5,267.2 449.3,271.0 454.2,273.3 456.8,277.7 459.0,285.7 462.2,294.1 465.2,303.8 467.6,315.1 471.4,334.9 473.6,352.5 474.8,405.6 475.5,453.3" fill="none" stroke="#b40426" stroke-width="2.00" stroke-opacity="0.65" stroke-linejoin="round"/>
<path d="M279.2 252.8V462.6H485.3" fill="none" stroke="#5a5a5a" stroke-width="1"/><path d="M276.6 453.30H279.2" stroke="#555" stroke-width="0.8"/><path d="M288.40 462.6V465.2" stroke="#555" stroke-width="0.8"/><text x="274.8" y="456.30" font-size="7.6" text-anchor="end" class="t">0.0</text><text x="288.40" y="472.70" font-size="7.6" text-anchor="middle" class="t">0.0</text><path d="M276.6 415.12H279.2" stroke="#555" stroke-width="0.8"/><path d="M325.86 462.6V465.2" stroke="#555" stroke-width="0.8"/><text x="274.8" y="418.12" font-size="7.6" text-anchor="end" class="t">0.2</text><text x="325.86" y="472.70" font-size="7.6" text-anchor="middle" class="t">0.2</text><path d="M276.6 376.94H279.2" stroke="#555" stroke-width="0.8"/><path d="M363.32 462.6V465.2" stroke="#555" stroke-width="0.8"/><text x="274.8" y="379.94" font-size="7.6" text-anchor="end" class="t">0.4</text><text x="363.32" y="472.70" font-size="7.6" text-anchor="middle" class="t">0.4</text><path d="M276.6 338.76H279.2" stroke="#555" stroke-width="0.8"/><path d="M400.78 462.6V465.2" stroke="#555" stroke-width="0.8"/><text x="274.8" y="341.76" font-size="7.6" text-anchor="end" class="t">0.6</text><text x="400.78" y="472.70" font-size="7.6" text-anchor="middle" class="t">0.6</text><path d="M276.6 300.58H279.2" stroke="#555" stroke-width="0.8"/><path d="M438.24 462.6V465.2" stroke="#555" stroke-width="0.8"/><text x="274.8" y="303.58" font-size="7.6" text-anchor="end" class="t">0.8</text><text x="438.24" y="472.70" font-size="7.6" text-anchor="middle" class="t">0.8</text><path d="M276.6 262.40H279.2" stroke="#555" stroke-width="0.8"/><path d="M475.70 462.6V465.2" stroke="#555" stroke-width="0.8"/><text x="274.8" y="265.40" font-size="7.6" text-anchor="end" class="t">1.0</text><text x="475.70" y="472.70" font-size="7.6" text-anchor="middle" class="t">1.0</text><text x="382.0" y="482.3" font-size="7.7" text-anchor="middle" class="t">Recall</text><text transform="translate(258.6 357.4) rotate(-90)" font-size="7.7" text-anchor="middle" class="t">Precision</text>
<text x="359.0" y="394.8" font-size="7.7" text-anchor="middle" class="t">AUC</text><path d="M284.8 402.5H299.3" stroke="#3b4cc0" stroke-width="1.00" stroke-opacity="1.00"/><text x="304.1" y="405.1" font-size="7.8" class="t">Support Vector Machine: 0.95 ± &#160;0.02</text><path d="M284.8 412.5H299.3" stroke="#7b9ff9" stroke-width="1.00" stroke-opacity="1.00"/><text x="304.1" y="415.1" font-size="7.8" class="t">K-Nearest Neighbour: 0.95 ± &#160;0.02</text><path d="M284.8 422.5H299.3" stroke="#c0d4f5" stroke-width="1.00" stroke-opacity="1.00"/><text x="304.1" y="425.1" font-size="7.8" class="t">Random Forest: 0.93 ± &#160;0.02</text><path d="M284.8 432.5H299.3" stroke="#f2cbb7" stroke-width="1.00" stroke-opacity="1.00"/><text x="304.1" y="435.1" font-size="7.8" class="t">LightGBM: 0.89 ± &#160;0.02</text><path d="M284.8 442.5H299.3" stroke="#ee8468" stroke-width="1.00" stroke-opacity="1.00"/><text x="304.1" y="445.1" font-size="7.8" class="t">XGBoost: 0.96 ± &#160;0.02</text><path d="M284.8 452.5H299.3" stroke="#b40426" stroke-width="2.00" stroke-opacity="0.65"/><text x="304.1" y="455.1" font-size="7.8" class="t" style="stroke-width:0.3px">BINN: &#160;0.96 ± &#160;0.01</text>
<rect x="525.0" y="42.9" width="77.3" height="76.9" fill="#d4625f"/><text transform="translate(564.8 84.2) scale(1.09 1)" font-size="9.4" text-anchor="middle" fill="#fff">94± 2%</text><rect x="602.0" y="42.9" width="77.3" height="76.9" fill="#6270cd"/><text transform="translate(641.8 84.2) scale(1.09 1)" font-size="9.4" text-anchor="middle" fill="#fff">0± 0%</text><rect x="525.0" y="119.5" width="77.3" height="76.9" fill="#7085de"/><text transform="translate(564.8 160.8) scale(1.09 1)" font-size="9.4" text-anchor="middle" fill="#fff">6± 2%</text><rect x="602.0" y="119.5" width="77.3" height="76.9" fill="#c33651"/><text transform="translate(641.8 160.8) scale(1.09 1)" font-size="9.4" text-anchor="middle" fill="#fff">100± 0%</text><path d="M525.0 81.2h-3.2" stroke="#333" stroke-width="0.8"/><path d="M563.5 196.1v3.2" stroke="#333" stroke-width="0.8"/><path d="M525.0 157.8h-3.2" stroke="#333" stroke-width="0.8"/><path d="M640.5 196.1v3.2" stroke="#333" stroke-width="0.8"/><text transform="translate(517.7 81.2) rotate(-90)" font-size="9.3" text-anchor="middle" class="t">More severe</text><text x="563.5" y="209.6" font-size="9.3" text-anchor="middle" class="t">More severe</text><text transform="translate(517.7 157.8) rotate(-90)" font-size="9.3" text-anchor="middle" class="t">Less severe</text><text x="640.5" y="209.6" font-size="9.3" text-anchor="middle" class="t">Less severe</text><text x="602.0" y="220.9" font-size="9.3" text-anchor="middle" class="t">True</text><text transform="translate(506.0 119.5) rotate(-90)" font-size="9.3" text-anchor="middle" class="t">Predicted</text>
<rect x="525.0" y="288.4" width="77.3" height="76.9" fill="#d4625f"/><text transform="translate(564.8 329.7) scale(1.09 1)" font-size="9.4" text-anchor="middle" fill="#fff">87± 2%</text><rect x="602.0" y="288.4" width="77.3" height="76.9" fill="#6270cd"/><text transform="translate(641.8 329.7) scale(1.09 1)" font-size="9.4" text-anchor="middle" fill="#fff">8± 1%</text><rect x="525.0" y="365.0" width="77.3" height="76.9" fill="#7085de"/><text transform="translate(564.8 406.3) scale(1.09 1)" font-size="9.4" text-anchor="middle" fill="#fff">13± 2%</text><rect x="602.0" y="365.0" width="77.3" height="76.9" fill="#c33651"/><text transform="translate(641.8 406.3) scale(1.09 1)" font-size="9.4" text-anchor="middle" fill="#fff">92± 1%</text><path d="M525.0 326.7h-3.2" stroke="#333" stroke-width="0.8"/><path d="M563.5 441.6v3.2" stroke="#333" stroke-width="0.8"/><path d="M525.0 403.3h-3.2" stroke="#333" stroke-width="0.8"/><path d="M640.5 441.6v3.2" stroke="#333" stroke-width="0.8"/><text transform="translate(517.7 326.7) rotate(-90)" font-size="9.3" text-anchor="middle" class="t">More severe</text><text x="563.5" y="455.1" font-size="9.3" text-anchor="middle" class="t">More severe</text><text transform="translate(517.7 403.3) rotate(-90)" font-size="9.3" text-anchor="middle" class="t">Less severe</text><text x="640.5" y="455.1" font-size="9.3" text-anchor="middle" class="t">Less severe</text><text x="602.0" y="466.4" font-size="9.3" text-anchor="middle" class="t">True</text><text transform="translate(506.0 365.0) rotate(-90)" font-size="9.3" text-anchor="middle" class="t">Predicted</text>
<text x="0.3" y="11.3" font-size="16.0" font-weight="bold" fill="#000">a</text>
<text x="245.3" y="10.9" font-size="16.0" font-weight="bold" fill="#000">b</text>
<text x="504.0" y="20.8" font-size="16.0" font-weight="bold" fill="#000">c</text>
<text x="-0.8" y="245.5" font-size="16.0" font-weight="bold" fill="#000">d</text>
<text x="245.0" y="244.5" font-size="16.0" font-weight="bold" fill="#000">e</text>
<text x="504.9" y="268.8" font-size="14.8" font-weight="bold" fill="#000">f</text>
</svg></body></html>
